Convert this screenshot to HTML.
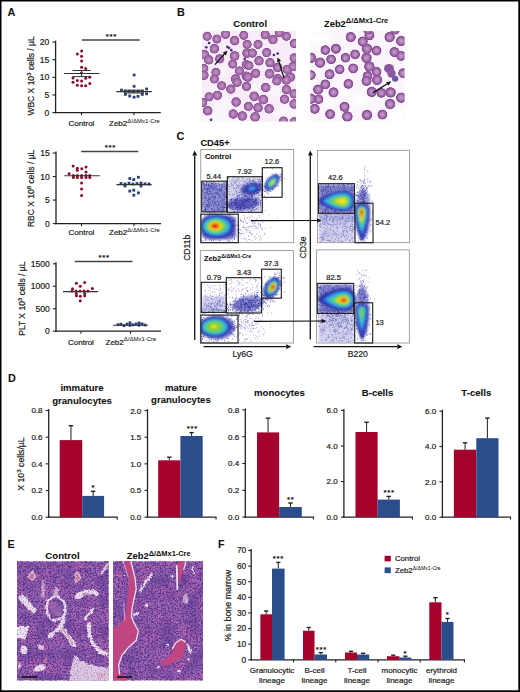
<!DOCTYPE html>
<html><head><meta charset="utf-8"><style>
html,body{margin:0;padding:0;background:#fff;}
svg{display:block;font-family:"Liberation Sans", sans-serif;}
text{stroke:#1a1a1a;stroke-width:0.2px;}
text[font-weight="bold"]{stroke-width:0.08px;}
tspan.sup{stroke-width:0.05px;}
</style></head><body>
<svg width="520" height="692" viewBox="0 0 520 692">
<defs><radialGradient id="rbc" cx="0.5" cy="0.5" r="0.5">
<stop offset="0" stop-color="#c69ac4"/><stop offset="0.4" stop-color="#b07db4"/>
<stop offset="0.7" stop-color="#9e67a6"/><stop offset="0.86" stop-color="#8a5094"/><stop offset="0.95" stop-color="#9a64a2"/><stop offset="1" stop-color="#d0a8dc" stop-opacity="0.4"/></radialGradient><radialGradient id="rbc2" cx="0.5" cy="0.5" r="0.5">
<stop offset="0" stop-color="#caa0ca"/><stop offset="0.35" stop-color="#b486bc"/>
<stop offset="0.62" stop-color="#a06aaa"/><stop offset="0.8" stop-color="#864c94"/><stop offset="0.92" stop-color="#8a5498"/><stop offset="1" stop-color="#c8a0d4" stop-opacity="0.4"/></radialGradient><clipPath id="smL"><rect x="202" y="31" width="94" height="90.5"/></clipPath><clipPath id="smR"><rect x="310.3" y="31" width="94.3" height="90.5"/></clipPath><filter id="soft" x="-20%" y="-20%" width="140%" height="140%"><feGaussianBlur stdDeviation="0.35"/></filter><filter id="bl2" x="-50%" y="-50%" width="200%" height="200%"><feGaussianBlur stdDeviation="2.5"/></filter><filter id="fb" x="-50%" y="-50%" width="200%" height="200%"><feGaussianBlur stdDeviation="1.3"/></filter><filter id="fb2" x="-50%" y="-50%" width="200%" height="200%"><feGaussianBlur stdDeviation="0.8"/></filter><clipPath id="fc1"><rect x="201.20000000000002" y="149.9" width="92.09999999999998" height="92.39999999999999"/></clipPath><clipPath id="fc2"><rect x="317.79999999999995" y="150.70000000000002" width="91.2" height="91.59999999999998"/></clipPath><clipPath id="fc3"><rect x="200.70000000000002" y="251.0" width="92.29999999999997" height="91.60000000000001"/></clipPath><clipPath id="fc4"><rect x="317.0" y="250.3" width="91.89999999999999" height="92.3"/></clipPath><filter id="nucA" x="0" y="0" width="100%" height="100%" filterUnits="objectBoundingBox" color-interpolation-filters="sRGB">
<feTurbulence type="fractalNoise" baseFrequency="0.6" numOctaves="2" seed="11"/>
<feColorMatrix type="matrix" values="0 0 0 0 0.34  0 0 0 0 0.20  0 0 0 0 0.54  4.5 0 0 0 -1.95"/>
<feGaussianBlur stdDeviation="0.45"/>
</filter><filter id="nucB" x="0" y="0" width="100%" height="100%" filterUnits="objectBoundingBox" color-interpolation-filters="sRGB">
<feTurbulence type="fractalNoise" baseFrequency="0.07" numOctaves="2" seed="4"/>
<feColorMatrix type="matrix" values="0 0 0 0 0.82  0 0 0 0 0.42  0 0 0 0 0.70  0 0 2.0 0 -0.85"/>
</filter><filter id="nucC" x="0" y="0" width="100%" height="100%" filterUnits="objectBoundingBox" color-interpolation-filters="sRGB">
<feTurbulence type="fractalNoise" baseFrequency="0.08" numOctaves="2" seed="9"/>
<feColorMatrix type="matrix" values="0 0 0 0 0.25  0 0 0 0 0.18  0 0 0 0 0.55  0 1.2 0 0 -0.5"/>
</filter><filter id="hb" x="-40%" y="-40%" width="180%" height="180%" color-interpolation-filters="sRGB">
<feTurbulence type="fractalNoise" baseFrequency="0.25" numOctaves="2" seed="2" result="t"/>
<feDisplacementMap in="SourceGraphic" in2="t" scale="3.5" xChannelSelector="R" yChannelSelector="G" result="d"/>
<feGaussianBlur in="d" stdDeviation="0.7"/>
</filter><filter id="hb2" x="-40%" y="-40%" width="180%" height="180%" color-interpolation-filters="sRGB">
<feTurbulence type="fractalNoise" baseFrequency="0.3" numOctaves="2" seed="5" result="t"/>
<feDisplacementMap in="SourceGraphic" in2="t" scale="2.5" xChannelSelector="R" yChannelSelector="G" result="d"/>
<feGaussianBlur in="d" stdDeviation="0.5"/>
</filter><filter id="nucD" x="0" y="0" width="100%" height="100%" filterUnits="objectBoundingBox" color-interpolation-filters="sRGB">
<feTurbulence type="fractalNoise" baseFrequency="0.7" numOctaves="2" seed="23"/>
<feColorMatrix type="matrix" values="0 0 0 0 0.45  0 0 0 0 0.30  0 0 0 0 0.65  5 0 0 0 -2.6"/>
<feGaussianBlur stdDeviation="0.4"/>
</filter><clipPath id="hA"><rect x="17" y="561.3" width="91.7" height="119.2"/></clipPath><clipPath id="hB"><rect x="113" y="561.3" width="90" height="119.2"/></clipPath><filter id="glob" x="0" y="0" width="100%" height="100%" filterUnits="userSpaceOnUse" color-interpolation-filters="sRGB"><feGaussianBlur stdDeviation="0.3"/></filter></defs>
<rect x="0" y="0" width="520" height="692" fill="#000"/>
<rect x="1.5" y="1.5" width="516.8" height="688.8" fill="#fff"/>
<text x="7.5" y="16" font-size="10.8" text-anchor="start" font-weight="bold" fill="#111">A</text>
<text x="177" y="16" font-size="10.8" text-anchor="start" font-weight="bold" fill="#111">B</text>
<text x="176.5" y="140" font-size="10.8" text-anchor="start" font-weight="bold" fill="#111">C</text>
<text x="8" y="381.5" font-size="10.8" text-anchor="start" font-weight="bold" fill="#111">D</text>
<text x="7.5" y="548" font-size="10.8" text-anchor="start" font-weight="bold" fill="#111">E</text>
<text x="218" y="548" font-size="10.8" text-anchor="start" font-weight="bold" fill="#111">F</text>
<line x1="55.6" y1="40.6" x2="55.6" y2="113.19999999999999" stroke="#222" stroke-width="1.3"/>
<line x1="55.0" y1="112.6" x2="160.8" y2="112.6" stroke="#222" stroke-width="1.3"/>
<line x1="52.4" y1="112.6" x2="55.6" y2="112.6" stroke="#222" stroke-width="1.1"/>
<text x="49.4" y="115.6" font-size="8.6" text-anchor="end" fill="#222">0</text>
<line x1="52.4" y1="94.975" x2="55.6" y2="94.975" stroke="#222" stroke-width="1.1"/>
<text x="49.4" y="97.975" font-size="8.6" text-anchor="end" fill="#222">5</text>
<line x1="52.4" y1="77.35" x2="55.6" y2="77.35" stroke="#222" stroke-width="1.1"/>
<text x="49.4" y="80.35" font-size="8.6" text-anchor="end" fill="#222">10</text>
<line x1="52.4" y1="59.724999999999994" x2="55.6" y2="59.724999999999994" stroke="#222" stroke-width="1.1"/>
<text x="49.4" y="62.724999999999994" font-size="8.6" text-anchor="end" fill="#222">15</text>
<line x1="52.4" y1="42.099999999999994" x2="55.6" y2="42.099999999999994" stroke="#222" stroke-width="1.1"/>
<text x="49.4" y="45.099999999999994" font-size="8.6" text-anchor="end" fill="#222">20</text>
<line x1="81.5" y1="112.6" x2="81.5" y2="115.19999999999999" stroke="#222" stroke-width="1.1"/>
<line x1="134" y1="112.6" x2="134" y2="115.19999999999999" stroke="#222" stroke-width="1.1"/>
<circle cx="81.6" cy="50.9" r="1.5" fill="#8c0a2a"/>
<circle cx="77.3" cy="54.1" r="1.5" fill="#8c0a2a"/>
<circle cx="81.6" cy="56.2" r="1.5" fill="#8c0a2a"/>
<circle cx="81.6" cy="61" r="1.5" fill="#8c0a2a"/>
<circle cx="81.6" cy="67.3" r="1.5" fill="#8c0a2a"/>
<circle cx="85.7" cy="68.5" r="1.5" fill="#8c0a2a"/>
<circle cx="81.4" cy="73.1" r="1.5" fill="#8c0a2a"/>
<circle cx="73" cy="77.9" r="1.5" fill="#8c0a2a"/>
<circle cx="85.7" cy="78.3" r="1.5" fill="#8c0a2a"/>
<circle cx="89.8" cy="77.2" r="1.5" fill="#8c0a2a"/>
<circle cx="77.3" cy="80.5" r="1.5" fill="#8c0a2a"/>
<circle cx="81.6" cy="80.9" r="1.5" fill="#8c0a2a"/>
<circle cx="73" cy="82.2" r="1.5" fill="#8c0a2a"/>
<circle cx="89.8" cy="83.5" r="1.5" fill="#8c0a2a"/>
<circle cx="77.3" cy="85.2" r="1.5" fill="#8c0a2a"/>
<circle cx="81.6" cy="85.7" r="1.5" fill="#8c0a2a"/>
<circle cx="85.7" cy="85.8" r="1.5" fill="#8c0a2a"/>
<rect x="132.7" y="73.6" width="2.8" height="2.8" fill="#2a3f78"/>
<rect x="132.7" y="84.89999999999999" width="2.8" height="2.8" fill="#2a3f78"/>
<rect x="120.1" y="88.69999999999999" width="2.8" height="2.8" fill="#2a3f78"/>
<rect x="145.2" y="87.6" width="2.8" height="2.8" fill="#2a3f78"/>
<rect x="123.6" y="89.8" width="2.8" height="2.8" fill="#2a3f78"/>
<rect x="127.9" y="89.8" width="2.8" height="2.8" fill="#2a3f78"/>
<rect x="132.2" y="89.8" width="2.8" height="2.8" fill="#2a3f78"/>
<rect x="136.6" y="89.8" width="2.8" height="2.8" fill="#2a3f78"/>
<rect x="140.9" y="89.8" width="2.8" height="2.8" fill="#2a3f78"/>
<rect x="124.0" y="93.0" width="2.8" height="2.8" fill="#2a3f78"/>
<rect x="140.9" y="93.0" width="2.8" height="2.8" fill="#2a3f78"/>
<rect x="145.2" y="92.39999999999999" width="2.8" height="2.8" fill="#2a3f78"/>
<rect x="128.29999999999998" y="94.6" width="2.8" height="2.8" fill="#2a3f78"/>
<rect x="132.7" y="95.8" width="2.8" height="2.8" fill="#2a3f78"/>
<rect x="136.6" y="95.0" width="2.8" height="2.8" fill="#2a3f78"/>
<line x1="63.9" y1="73.5" x2="99.4" y2="73.5" stroke="#333" stroke-width="1.1"/>
<line x1="72.5" y1="70.5" x2="90.7" y2="70.5" stroke="#333" stroke-width="1.0"/>
<line x1="72.5" y1="76.6" x2="90.7" y2="76.6" stroke="#333" stroke-width="1.0"/>
<line x1="81.6" y1="70.5" x2="81.6" y2="76.6" stroke="#333" stroke-width="1.0"/>
<line x1="116.3" y1="91.6" x2="151.8" y2="91.6" stroke="#333" stroke-width="1.1"/>
<line x1="124" y1="90.2" x2="144" y2="90.2" stroke="#333" stroke-width="1.0"/>
<line x1="124" y1="93" x2="144" y2="93" stroke="#333" stroke-width="1.0"/>
<line x1="81.9" y1="40" x2="139.6" y2="40" stroke="#444" stroke-width="1.3"/>
<text x="107.20" y="38.90" font-size="7.8" font-weight="bold" text-anchor="middle" fill="#111">*</text>
<text x="110.95" y="38.90" font-size="7.8" font-weight="bold" text-anchor="middle" fill="#111">*</text>
<text x="114.70" y="38.90" font-size="7.8" font-weight="bold" text-anchor="middle" fill="#111">*</text>
<text x="34.3" y="76" font-size="8.5" text-anchor="middle" transform="rotate(-90 34.3 76)" fill="#222">WBC X 10<tspan font-size="6.2" dy="-3.2">3</tspan><tspan dy="3.2"> cells / µL</tspan></text>
<text x="81.5" y="125.7" font-size="8" text-anchor="middle" fill="#222">Control</text>
<text x="109" y="125.7" font-size="8" text-anchor="start" fill="#222">Zeb2<tspan class="sup" font-size="6.0" dy="-3.2">Δ/ΔMx1-Cre</tspan></text>
<line x1="56" y1="151.5" x2="56" y2="224.2" stroke="#222" stroke-width="1.3"/>
<line x1="55.4" y1="223.6" x2="161" y2="223.6" stroke="#222" stroke-width="1.3"/>
<line x1="52.8" y1="223.6" x2="56" y2="223.6" stroke="#222" stroke-width="1.1"/>
<text x="49.8" y="226.6" font-size="8.6" text-anchor="end" fill="#222">0</text>
<line x1="52.8" y1="200.06666666666666" x2="56" y2="200.06666666666666" stroke="#222" stroke-width="1.1"/>
<text x="49.8" y="203.06666666666666" font-size="8.6" text-anchor="end" fill="#222">5</text>
<line x1="52.8" y1="176.53333333333333" x2="56" y2="176.53333333333333" stroke="#222" stroke-width="1.1"/>
<text x="49.8" y="179.53333333333333" font-size="8.6" text-anchor="end" fill="#222">10</text>
<line x1="52.8" y1="153.0" x2="56" y2="153.0" stroke="#222" stroke-width="1.1"/>
<text x="49.8" y="156.0" font-size="8.6" text-anchor="end" fill="#222">15</text>
<line x1="81.5" y1="223.6" x2="81.5" y2="226.2" stroke="#222" stroke-width="1.1"/>
<line x1="134" y1="223.6" x2="134" y2="226.2" stroke="#222" stroke-width="1.1"/>
<circle cx="73.1" cy="165.9" r="1.5" fill="#8c0a2a"/>
<circle cx="77.3" cy="168.2" r="1.5" fill="#8c0a2a"/>
<circle cx="77.3" cy="170.2" r="1.5" fill="#8c0a2a"/>
<circle cx="81.8" cy="168.7" r="1.5" fill="#8c0a2a"/>
<circle cx="86" cy="166.9" r="1.5" fill="#8c0a2a"/>
<circle cx="86" cy="172.1" r="1.5" fill="#8c0a2a"/>
<circle cx="69.1" cy="173.8" r="1.5" fill="#8c0a2a"/>
<circle cx="73.4" cy="175.4" r="1.5" fill="#8c0a2a"/>
<circle cx="77.3" cy="175.4" r="1.5" fill="#8c0a2a"/>
<circle cx="81.6" cy="175.4" r="1.5" fill="#8c0a2a"/>
<circle cx="86" cy="175.4" r="1.5" fill="#8c0a2a"/>
<circle cx="89.8" cy="175.4" r="1.5" fill="#8c0a2a"/>
<circle cx="73.4" cy="177.6" r="1.5" fill="#8c0a2a"/>
<circle cx="77.3" cy="177.6" r="1.5" fill="#8c0a2a"/>
<circle cx="81.6" cy="177.6" r="1.5" fill="#8c0a2a"/>
<circle cx="86" cy="177.6" r="1.5" fill="#8c0a2a"/>
<circle cx="89.8" cy="177.6" r="1.5" fill="#8c0a2a"/>
<circle cx="81.6" cy="182.9" r="1.5" fill="#8c0a2a"/>
<circle cx="81.6" cy="189" r="1.5" fill="#8c0a2a"/>
<circle cx="81.6" cy="195.5" r="1.5" fill="#8c0a2a"/>
<rect x="128.4" y="177.1" width="2.8" height="2.8" fill="#2a3f78"/>
<rect x="132.4" y="178.2" width="2.8" height="2.8" fill="#2a3f78"/>
<rect x="137.0" y="175.9" width="2.8" height="2.8" fill="#2a3f78"/>
<rect x="119.6" y="182.1" width="2.8" height="2.8" fill="#2a3f78"/>
<rect x="123.6" y="182.6" width="2.8" height="2.8" fill="#2a3f78"/>
<rect x="127.6" y="181.79999999999998" width="2.8" height="2.8" fill="#2a3f78"/>
<rect x="131.6" y="182.6" width="2.8" height="2.8" fill="#2a3f78"/>
<rect x="135.6" y="182.1" width="2.8" height="2.8" fill="#2a3f78"/>
<rect x="139.6" y="181.6" width="2.8" height="2.8" fill="#2a3f78"/>
<rect x="143.6" y="182.4" width="2.8" height="2.8" fill="#2a3f78"/>
<rect x="147.6" y="182.6" width="2.8" height="2.8" fill="#2a3f78"/>
<rect x="128.4" y="189.7" width="2.8" height="2.8" fill="#2a3f78"/>
<rect x="132.4" y="188.79999999999998" width="2.8" height="2.8" fill="#2a3f78"/>
<rect x="137.0" y="191.5" width="2.8" height="2.8" fill="#2a3f78"/>
<rect x="132.4" y="193.79999999999998" width="2.8" height="2.8" fill="#2a3f78"/>
<rect x="123.6" y="184.6" width="2.8" height="2.8" fill="#2a3f78"/>
<rect x="139.6" y="184.6" width="2.8" height="2.8" fill="#2a3f78"/>
<line x1="64.3" y1="175.8" x2="99.8" y2="175.8" stroke="#333" stroke-width="1.1"/>
<line x1="116.5" y1="184.6" x2="151.7" y2="184.6" stroke="#333" stroke-width="1.1"/>
<line x1="81.1" y1="151.5" x2="138.3" y2="151.5" stroke="#444" stroke-width="1.3"/>
<text x="106.15" y="150.40" font-size="7.8" font-weight="bold" text-anchor="middle" fill="#111">*</text>
<text x="109.90" y="150.40" font-size="7.8" font-weight="bold" text-anchor="middle" fill="#111">*</text>
<text x="113.65" y="150.40" font-size="7.8" font-weight="bold" text-anchor="middle" fill="#111">*</text>
<text x="34.5" y="188.4" font-size="8.5" text-anchor="middle" transform="rotate(-90 34.5 188.4)" fill="#222">RBC X 10<tspan font-size="6.2" dy="-3.2">6</tspan><tspan dy="3.2"> cells / µL</tspan></text>
<text x="81.5" y="235.2" font-size="8" text-anchor="middle" fill="#222">Control</text>
<text x="109" y="235.2" font-size="8" text-anchor="start" fill="#222">Zeb2<tspan class="sup" font-size="6.0" dy="-3.2">Δ/ΔMx1-Cre</tspan></text>
<line x1="56" y1="262.3" x2="56" y2="331.8" stroke="#222" stroke-width="1.3"/>
<line x1="55.4" y1="331.2" x2="161" y2="331.2" stroke="#222" stroke-width="1.3"/>
<line x1="52.8" y1="331.2" x2="56" y2="331.2" stroke="#222" stroke-width="1.1"/>
<text x="49.8" y="334.2" font-size="8.6" text-anchor="end" fill="#222">0</text>
<line x1="52.8" y1="308.73333333333335" x2="56" y2="308.73333333333335" stroke="#222" stroke-width="1.1"/>
<text x="49.8" y="311.73333333333335" font-size="8.6" text-anchor="end" fill="#222">500</text>
<line x1="52.8" y1="286.26666666666665" x2="56" y2="286.26666666666665" stroke="#222" stroke-width="1.1"/>
<text x="49.8" y="289.26666666666665" font-size="8.6" text-anchor="end" fill="#222">1000</text>
<line x1="52.8" y1="263.8" x2="56" y2="263.8" stroke="#222" stroke-width="1.1"/>
<text x="49.8" y="266.8" font-size="8.6" text-anchor="end" fill="#222">1500</text>
<line x1="81" y1="331.2" x2="81" y2="333.8" stroke="#222" stroke-width="1.1"/>
<line x1="130.5" y1="331.2" x2="130.5" y2="333.8" stroke="#222" stroke-width="1.1"/>
<circle cx="76.4" cy="283.2" r="1.5" fill="#8c0a2a"/>
<circle cx="84.7" cy="282.6" r="1.5" fill="#8c0a2a"/>
<circle cx="80.3" cy="286.2" r="1.5" fill="#8c0a2a"/>
<circle cx="72.5" cy="288.8" r="1.5" fill="#8c0a2a"/>
<circle cx="92.4" cy="288.4" r="1.5" fill="#8c0a2a"/>
<circle cx="72" cy="291" r="1.5" fill="#8c0a2a"/>
<circle cx="76" cy="291" r="1.5" fill="#8c0a2a"/>
<circle cx="80" cy="291" r="1.5" fill="#8c0a2a"/>
<circle cx="84" cy="291" r="1.5" fill="#8c0a2a"/>
<circle cx="88" cy="291" r="1.5" fill="#8c0a2a"/>
<circle cx="76.4" cy="293.6" r="1.5" fill="#8c0a2a"/>
<circle cx="84.7" cy="293.6" r="1.5" fill="#8c0a2a"/>
<circle cx="76.4" cy="295.8" r="1.5" fill="#8c0a2a"/>
<circle cx="80.3" cy="296.2" r="1.5" fill="#8c0a2a"/>
<circle cx="84.7" cy="295.8" r="1.5" fill="#8c0a2a"/>
<circle cx="80.3" cy="300.8" r="1.5" fill="#8c0a2a"/>
<rect x="116.6" y="323.3067317415329" width="2.8" height="2.8" fill="#2a3f78"/>
<rect x="119.6" y="322.8223776869886" width="2.8" height="2.8" fill="#2a3f78"/>
<rect x="122.6" y="324.2226165245116" width="2.8" height="2.8" fill="#2a3f78"/>
<rect x="125.6" y="322.6028216026691" width="2.8" height="2.8" fill="#2a3f78"/>
<rect x="128.6" y="323.9004696120587" width="2.8" height="2.8" fill="#2a3f78"/>
<rect x="131.6" y="323.42392896735527" width="2.8" height="2.8" fill="#2a3f78"/>
<rect x="134.6" y="322.5623969893692" width="2.8" height="2.8" fill="#2a3f78"/>
<rect x="137.6" y="323.8208200529304" width="2.8" height="2.8" fill="#2a3f78"/>
<rect x="140.6" y="322.5049878436376" width="2.8" height="2.8" fill="#2a3f78"/>
<rect x="143.6" y="323.6142079142547" width="2.8" height="2.8" fill="#2a3f78"/>
<rect x="128.6" y="321.40000000000003" width="2.8" height="2.8" fill="#2a3f78"/>
<rect x="137.6" y="321.6" width="2.8" height="2.8" fill="#2a3f78"/>
<line x1="63" y1="291.6" x2="98" y2="291.6" stroke="#333" stroke-width="1.1"/>
<line x1="113" y1="325.2" x2="148" y2="325.2" stroke="#333" stroke-width="1.1"/>
<line x1="74.8" y1="261.5" x2="132.5" y2="261.5" stroke="#444" stroke-width="1.3"/>
<text x="100.10" y="260.40" font-size="7.8" font-weight="bold" text-anchor="middle" fill="#111">*</text>
<text x="103.85" y="260.40" font-size="7.8" font-weight="bold" text-anchor="middle" fill="#111">*</text>
<text x="107.60" y="260.40" font-size="7.8" font-weight="bold" text-anchor="middle" fill="#111">*</text>
<text x="25.5" y="298.7" font-size="8.5" text-anchor="middle" transform="rotate(-90 25.5 298.7)" fill="#222">PLT X 10<tspan font-size="6.2" dy="-3.2">3</tspan><tspan dy="3.2"> cells / µL</tspan></text>
<text x="81" y="344.6" font-size="8" text-anchor="middle" fill="#222">Control</text>
<text x="105.5" y="344.6" font-size="8" text-anchor="start" fill="#222">Zeb2<tspan class="sup" font-size="6.0" dy="-3.2">Δ/ΔMx1-Cre</tspan></text>
<line x1="48.7" y1="409.0" x2="48.7" y2="517.8000000000001" stroke="#222" stroke-width="1.3"/>
<line x1="48.1" y1="517.2" x2="117.7" y2="517.2" stroke="#222" stroke-width="1.3"/>
<line x1="45.7" y1="517.2" x2="48.7" y2="517.2" stroke="#222" stroke-width="1.1"/>
<text x="42.5" y="520.1" font-size="8" text-anchor="end" fill="#222">0.0</text>
<line x1="45.7" y1="490.52500000000003" x2="48.7" y2="490.52500000000003" stroke="#222" stroke-width="1.1"/>
<text x="42.5" y="493.425" font-size="8" text-anchor="end" fill="#222">0.2</text>
<line x1="45.7" y1="463.85" x2="48.7" y2="463.85" stroke="#222" stroke-width="1.1"/>
<text x="42.5" y="466.75" font-size="8" text-anchor="end" fill="#222">0.4</text>
<line x1="45.7" y1="437.175" x2="48.7" y2="437.175" stroke="#222" stroke-width="1.1"/>
<text x="42.5" y="440.075" font-size="8" text-anchor="end" fill="#222">0.6</text>
<line x1="45.7" y1="410.5" x2="48.7" y2="410.5" stroke="#222" stroke-width="1.1"/>
<text x="42.5" y="413.4" font-size="8" text-anchor="end" fill="#222">0.8</text>
<line x1="117.2" y1="517.2" x2="117.2" y2="519.7" stroke="#222" stroke-width="1.1"/>
<line x1="70.95" y1="440.1" x2="70.95" y2="425.7" stroke="#333" stroke-width="1.1"/>
<line x1="68.75" y1="425.7" x2="73.15" y2="425.7" stroke="#222" stroke-width="1.4"/>
<rect x="59.7" y="440.1" width="22.5" height="77.10000000000002" fill="#a4022c"/>
<line x1="93.15" y1="495.9" x2="93.15" y2="491.3" stroke="#333" stroke-width="1.1"/>
<line x1="90.95" y1="491.3" x2="95.35000000000001" y2="491.3" stroke="#222" stroke-width="1.4"/>
<rect x="82.2" y="495.9" width="21.89999999999999" height="21.300000000000068" fill="#2b4d8c"/>
<text x="93.00" y="489.90" font-size="7.8" font-weight="bold" text-anchor="middle" fill="#111">*</text>
<text x="82" y="390.8" font-size="9.6" text-anchor="middle" font-weight="bold" fill="#111">immature</text>
<text x="82" y="403.7" font-size="9.6" text-anchor="middle" font-weight="bold" fill="#111">granulocytes</text>
<line x1="147.5" y1="409.1" x2="147.5" y2="517.7" stroke="#222" stroke-width="1.3"/>
<line x1="146.9" y1="517.1" x2="216.5" y2="517.1" stroke="#222" stroke-width="1.3"/>
<line x1="144.5" y1="517.1" x2="147.5" y2="517.1" stroke="#222" stroke-width="1.1"/>
<text x="141.3" y="520.0" font-size="8" text-anchor="end" fill="#222">0.0</text>
<line x1="144.5" y1="490.475" x2="147.5" y2="490.475" stroke="#222" stroke-width="1.1"/>
<text x="141.3" y="493.375" font-size="8" text-anchor="end" fill="#222">0.5</text>
<line x1="144.5" y1="463.85" x2="147.5" y2="463.85" stroke="#222" stroke-width="1.1"/>
<text x="141.3" y="466.75" font-size="8" text-anchor="end" fill="#222">1.0</text>
<line x1="144.5" y1="437.225" x2="147.5" y2="437.225" stroke="#222" stroke-width="1.1"/>
<text x="141.3" y="440.125" font-size="8" text-anchor="end" fill="#222">1.5</text>
<line x1="144.5" y1="410.6" x2="147.5" y2="410.6" stroke="#222" stroke-width="1.1"/>
<text x="141.3" y="413.5" font-size="8" text-anchor="end" fill="#222">2.0</text>
<line x1="216.0" y1="517.1" x2="216.0" y2="519.6" stroke="#222" stroke-width="1.1"/>
<line x1="169.3" y1="460.3" x2="169.3" y2="457.2" stroke="#333" stroke-width="1.1"/>
<line x1="167.10000000000002" y1="457.2" x2="171.5" y2="457.2" stroke="#222" stroke-width="1.4"/>
<rect x="158.2" y="460.3" width="22.200000000000017" height="56.80000000000001" fill="#a4022c"/>
<line x1="191.55" y1="436" x2="191.55" y2="432.6" stroke="#333" stroke-width="1.1"/>
<line x1="189.35000000000002" y1="432.6" x2="193.75" y2="432.6" stroke="#222" stroke-width="1.4"/>
<rect x="180.4" y="436" width="22.299999999999983" height="81.10000000000002" fill="#2b4d8c"/>
<text x="188.20" y="431.00" font-size="7.8" font-weight="bold" text-anchor="middle" fill="#111">*</text>
<text x="192.00" y="431.00" font-size="7.8" font-weight="bold" text-anchor="middle" fill="#111">*</text>
<text x="195.80" y="431.00" font-size="7.8" font-weight="bold" text-anchor="middle" fill="#111">*</text>
<text x="180.9" y="391.2" font-size="9.6" text-anchor="middle" font-weight="bold" fill="#111">mature</text>
<text x="180.9" y="403.2" font-size="9.6" text-anchor="middle" font-weight="bold" fill="#111">granulocytes</text>
<line x1="245.3" y1="408.4" x2="245.3" y2="517.7" stroke="#222" stroke-width="1.3"/>
<line x1="244.70000000000002" y1="517.1" x2="314" y2="517.1" stroke="#222" stroke-width="1.3"/>
<line x1="242.3" y1="517.1" x2="245.3" y2="517.1" stroke="#222" stroke-width="1.1"/>
<text x="239.10000000000002" y="520.0" font-size="8" text-anchor="end" fill="#222">0.0</text>
<line x1="242.3" y1="490.3" x2="245.3" y2="490.3" stroke="#222" stroke-width="1.1"/>
<text x="239.10000000000002" y="493.2" font-size="8" text-anchor="end" fill="#222">0.2</text>
<line x1="242.3" y1="463.5" x2="245.3" y2="463.5" stroke="#222" stroke-width="1.1"/>
<text x="239.10000000000002" y="466.4" font-size="8" text-anchor="end" fill="#222">0.4</text>
<line x1="242.3" y1="436.7" x2="245.3" y2="436.7" stroke="#222" stroke-width="1.1"/>
<text x="239.10000000000002" y="439.59999999999997" font-size="8" text-anchor="end" fill="#222">0.6</text>
<line x1="242.3" y1="409.9" x2="245.3" y2="409.9" stroke="#222" stroke-width="1.1"/>
<text x="239.10000000000002" y="412.79999999999995" font-size="8" text-anchor="end" fill="#222">0.8</text>
<line x1="313.5" y1="517.1" x2="313.5" y2="519.6" stroke="#222" stroke-width="1.1"/>
<line x1="268.075" y1="432.4" x2="268.075" y2="418.2" stroke="#333" stroke-width="1.1"/>
<line x1="265.875" y1="418.2" x2="270.275" y2="418.2" stroke="#222" stroke-width="1.4"/>
<rect x="257" y="432.4" width="22.149999999999977" height="84.70000000000005" fill="#a4022c"/>
<line x1="290.475" y1="507" x2="290.475" y2="503" stroke="#333" stroke-width="1.1"/>
<line x1="288.27500000000003" y1="503" x2="292.675" y2="503" stroke="#222" stroke-width="1.4"/>
<rect x="279.15" y="507" width="22.650000000000034" height="10.100000000000023" fill="#2b4d8c"/>
<text x="288.40" y="501.90" font-size="7.8" font-weight="bold" text-anchor="middle" fill="#111">*</text>
<text x="292.20" y="501.90" font-size="7.8" font-weight="bold" text-anchor="middle" fill="#111">*</text>
<text x="279.4" y="395.8" font-size="9.6" text-anchor="middle" font-weight="bold" fill="#111">monocytes</text>
<line x1="343.9" y1="408.9" x2="343.9" y2="517.7" stroke="#222" stroke-width="1.3"/>
<line x1="343.29999999999995" y1="517.1" x2="413" y2="517.1" stroke="#222" stroke-width="1.3"/>
<line x1="340.9" y1="517.1" x2="343.9" y2="517.1" stroke="#222" stroke-width="1.1"/>
<text x="337.7" y="520.0" font-size="8" text-anchor="end" fill="#222">0.0</text>
<line x1="340.9" y1="481.53333333333336" x2="343.9" y2="481.53333333333336" stroke="#222" stroke-width="1.1"/>
<text x="337.7" y="484.43333333333334" font-size="8" text-anchor="end" fill="#222">2.0</text>
<line x1="340.9" y1="445.96666666666664" x2="343.9" y2="445.96666666666664" stroke="#222" stroke-width="1.1"/>
<text x="337.7" y="448.8666666666666" font-size="8" text-anchor="end" fill="#222">4.0</text>
<line x1="340.9" y1="410.4" x2="343.9" y2="410.4" stroke="#222" stroke-width="1.1"/>
<text x="337.7" y="413.29999999999995" font-size="8" text-anchor="end" fill="#222">6.0</text>
<line x1="412.5" y1="517.1" x2="412.5" y2="519.6" stroke="#222" stroke-width="1.1"/>
<line x1="366.55" y1="432" x2="366.55" y2="422.3" stroke="#333" stroke-width="1.1"/>
<line x1="364.35" y1="422.3" x2="368.75" y2="422.3" stroke="#222" stroke-width="1.4"/>
<rect x="355.5" y="432" width="22.100000000000023" height="85.10000000000002" fill="#a4022c"/>
<line x1="388.75" y1="499.6" x2="388.75" y2="496.4" stroke="#333" stroke-width="1.1"/>
<line x1="386.55" y1="496.4" x2="390.95" y2="496.4" stroke="#222" stroke-width="1.4"/>
<rect x="377.6" y="499.6" width="22.299999999999955" height="17.5" fill="#2b4d8c"/>
<text x="384.90" y="494.60" font-size="7.8" font-weight="bold" text-anchor="middle" fill="#111">*</text>
<text x="388.70" y="494.60" font-size="7.8" font-weight="bold" text-anchor="middle" fill="#111">*</text>
<text x="392.50" y="494.60" font-size="7.8" font-weight="bold" text-anchor="middle" fill="#111">*</text>
<text x="377.5" y="395.8" font-size="9.6" text-anchor="middle" font-weight="bold" fill="#111">B-cells</text>
<line x1="442.4" y1="409.7" x2="442.4" y2="517.8000000000001" stroke="#222" stroke-width="1.3"/>
<line x1="441.79999999999995" y1="517.2" x2="511" y2="517.2" stroke="#222" stroke-width="1.3"/>
<line x1="439.4" y1="517.2" x2="442.4" y2="517.2" stroke="#222" stroke-width="1.1"/>
<text x="436.2" y="520.1" font-size="8" text-anchor="end" fill="#222">0.0</text>
<line x1="439.4" y1="481.8666666666667" x2="442.4" y2="481.8666666666667" stroke="#222" stroke-width="1.1"/>
<text x="436.2" y="484.76666666666665" font-size="8" text-anchor="end" fill="#222">2.0</text>
<line x1="439.4" y1="446.53333333333336" x2="442.4" y2="446.53333333333336" stroke="#222" stroke-width="1.1"/>
<text x="436.2" y="449.43333333333334" font-size="8" text-anchor="end" fill="#222">4.0</text>
<line x1="439.4" y1="411.2" x2="442.4" y2="411.2" stroke="#222" stroke-width="1.1"/>
<text x="436.2" y="414.09999999999997" font-size="8" text-anchor="end" fill="#222">6.0</text>
<line x1="510.5" y1="517.2" x2="510.5" y2="519.7" stroke="#222" stroke-width="1.1"/>
<line x1="465.1" y1="449.7" x2="465.1" y2="442.8" stroke="#333" stroke-width="1.1"/>
<line x1="462.90000000000003" y1="442.8" x2="467.3" y2="442.8" stroke="#222" stroke-width="1.4"/>
<rect x="453.9" y="449.7" width="22.400000000000034" height="67.50000000000006" fill="#a4022c"/>
<line x1="487.4" y1="438.2" x2="487.4" y2="418.1" stroke="#333" stroke-width="1.1"/>
<line x1="485.2" y1="418.1" x2="489.59999999999997" y2="418.1" stroke="#222" stroke-width="1.4"/>
<rect x="476.3" y="438.2" width="22.19999999999999" height="79.00000000000006" fill="#2b4d8c"/>
<text x="476.3" y="395.9" font-size="9.6" text-anchor="middle" font-weight="bold" fill="#111">T-cells</text>
<text x="24.4" y="464" font-size="8.7" text-anchor="middle" transform="rotate(-90 24.4 464)" fill="#222">X 10<tspan font-size="6.2" dy="-3.2">3</tspan><tspan dy="3.2"> cells/µL</tspan></text>
<line x1="251.2" y1="549.0" x2="251.2" y2="660.4" stroke="#222" stroke-width="1.3"/>
<line x1="250.6" y1="659.8" x2="465" y2="659.8" stroke="#222" stroke-width="1.3"/>
<line x1="248.2" y1="659.8" x2="251.2" y2="659.8" stroke="#222" stroke-width="1.1"/>
<text x="246.2" y="662.6999999999999" font-size="8.3" text-anchor="end" fill="#222">0</text>
<line x1="248.2" y1="644.1857142857142" x2="251.2" y2="644.1857142857142" stroke="#222" stroke-width="1.1"/>
<text x="246.2" y="647.0857142857142" font-size="8.3" text-anchor="end" fill="#222">10</text>
<line x1="248.2" y1="628.5714285714286" x2="251.2" y2="628.5714285714286" stroke="#222" stroke-width="1.1"/>
<text x="246.2" y="631.4714285714285" font-size="8.3" text-anchor="end" fill="#222">20</text>
<line x1="248.2" y1="612.9571428571428" x2="251.2" y2="612.9571428571428" stroke="#222" stroke-width="1.1"/>
<text x="246.2" y="615.8571428571428" font-size="8.3" text-anchor="end" fill="#222">30</text>
<line x1="248.2" y1="597.3428571428572" x2="251.2" y2="597.3428571428572" stroke="#222" stroke-width="1.1"/>
<text x="246.2" y="600.2428571428571" font-size="8.3" text-anchor="end" fill="#222">40</text>
<line x1="248.2" y1="581.7285714285714" x2="251.2" y2="581.7285714285714" stroke="#222" stroke-width="1.1"/>
<text x="246.2" y="584.6285714285714" font-size="8.3" text-anchor="end" fill="#222">50</text>
<line x1="248.2" y1="566.1142857142858" x2="251.2" y2="566.1142857142858" stroke="#222" stroke-width="1.1"/>
<text x="246.2" y="569.0142857142857" font-size="8.3" text-anchor="end" fill="#222">60</text>
<line x1="248.2" y1="550.5" x2="251.2" y2="550.5" stroke="#222" stroke-width="1.1"/>
<text x="246.2" y="553.4" font-size="8.3" text-anchor="end" fill="#222">70</text>
<line x1="293.5" y1="659.8" x2="293.5" y2="662.4" stroke="#222" stroke-width="1.1"/>
<line x1="335.75" y1="659.8" x2="335.75" y2="662.4" stroke="#222" stroke-width="1.1"/>
<line x1="378" y1="659.8" x2="378" y2="662.4" stroke="#222" stroke-width="1.1"/>
<line x1="420.2" y1="659.8" x2="420.2" y2="662.4" stroke="#222" stroke-width="1.1"/>
<line x1="464.4" y1="659.8" x2="464.4" y2="662.4" stroke="#222" stroke-width="1.1"/>
<line x1="266.2" y1="614.3" x2="266.2" y2="611" stroke="#333" stroke-width="1.1"/>
<line x1="264.09999999999997" y1="611" x2="268.3" y2="611" stroke="#222" stroke-width="1.4"/>
<rect x="260.4" y="614.3" width="11.600000000000023" height="45.5" fill="#a4022c"/>
<line x1="278.3" y1="568.6" x2="278.3" y2="562.4" stroke="#333" stroke-width="1.1"/>
<line x1="276.2" y1="562.4" x2="280.40000000000003" y2="562.4" stroke="#222" stroke-width="1.4"/>
<rect x="272" y="568.6" width="12.600000000000023" height="91.19999999999993" fill="#2b4d8c"/>
<text x="274.20" y="561.00" font-size="7.8" font-weight="bold" text-anchor="middle" fill="#111">*</text>
<text x="278.00" y="561.00" font-size="7.8" font-weight="bold" text-anchor="middle" fill="#111">*</text>
<text x="281.80" y="561.00" font-size="7.8" font-weight="bold" text-anchor="middle" fill="#111">*</text>
<text x="272" y="673" font-size="8" text-anchor="middle" fill="#222">Granulocytic</text>
<text x="272" y="682.6" font-size="8" text-anchor="middle" fill="#222">lineage</text>
<line x1="308.75" y1="630.75" x2="308.75" y2="627.5" stroke="#333" stroke-width="1.1"/>
<line x1="306.65" y1="627.5" x2="310.85" y2="627.5" stroke="#222" stroke-width="1.4"/>
<rect x="303" y="630.75" width="11.5" height="29.049999999999955" fill="#a4022c"/>
<line x1="320.75" y1="654.5" x2="320.75" y2="652.6" stroke="#333" stroke-width="1.1"/>
<line x1="318.65" y1="652.6" x2="322.85" y2="652.6" stroke="#222" stroke-width="1.4"/>
<rect x="314.5" y="654.5" width="12.5" height="5.2999999999999545" fill="#2b4d8c"/>
<text x="317.20" y="651.90" font-size="7.8" font-weight="bold" text-anchor="middle" fill="#111">*</text>
<text x="321.00" y="651.90" font-size="7.8" font-weight="bold" text-anchor="middle" fill="#111">*</text>
<text x="324.80" y="651.90" font-size="7.8" font-weight="bold" text-anchor="middle" fill="#111">*</text>
<text x="314.5" y="673" font-size="8" text-anchor="middle" fill="#222">B-cell</text>
<text x="314.5" y="682.6" font-size="8" text-anchor="middle" fill="#222">lineage</text>
<line x1="351.0" y1="652.5" x2="351.0" y2="651.3" stroke="#333" stroke-width="1.1"/>
<line x1="348.9" y1="651.3" x2="353.1" y2="651.3" stroke="#222" stroke-width="1.4"/>
<rect x="345" y="652.5" width="12" height="7.2999999999999545" fill="#a4022c"/>
<line x1="363.125" y1="654.5" x2="363.125" y2="653.3" stroke="#333" stroke-width="1.1"/>
<line x1="361.025" y1="653.3" x2="365.225" y2="653.3" stroke="#222" stroke-width="1.4"/>
<rect x="357" y="654.5" width="12.25" height="5.2999999999999545" fill="#2b4d8c"/>
<text x="357" y="673" font-size="8" text-anchor="middle" fill="#222">T-cell</text>
<text x="357" y="682.6" font-size="8" text-anchor="middle" fill="#222">lineage</text>
<line x1="393.25" y1="656.25" x2="393.25" y2="655.2" stroke="#333" stroke-width="1.1"/>
<line x1="391.15" y1="655.2" x2="395.35" y2="655.2" stroke="#222" stroke-width="1.4"/>
<rect x="387" y="656.25" width="12.5" height="3.5499999999999545" fill="#a4022c"/>
<line x1="405.375" y1="657.5" x2="405.375" y2="656.2" stroke="#333" stroke-width="1.1"/>
<line x1="403.275" y1="656.2" x2="407.475" y2="656.2" stroke="#222" stroke-width="1.4"/>
<rect x="399.5" y="657.5" width="11.75" height="2.2999999999999545" fill="#2b4d8c"/>
<text x="405.00" y="655.90" font-size="7.8" font-weight="bold" text-anchor="middle" fill="#111">*</text>
<text x="399.5" y="673" font-size="8" text-anchor="middle" fill="#222">monocytic</text>
<text x="399.5" y="682.6" font-size="8" text-anchor="middle" fill="#222">lineage</text>
<line x1="435.4" y1="602.3" x2="435.4" y2="597.7" stroke="#333" stroke-width="1.1"/>
<line x1="433.29999999999995" y1="597.7" x2="437.5" y2="597.7" stroke="#222" stroke-width="1.4"/>
<rect x="429.3" y="602.3" width="12.199999999999989" height="57.5" fill="#a4022c"/>
<line x1="447.5" y1="621.9" x2="447.5" y2="618.5" stroke="#333" stroke-width="1.1"/>
<line x1="445.4" y1="618.5" x2="449.6" y2="618.5" stroke="#222" stroke-width="1.4"/>
<rect x="441.5" y="621.9" width="12.0" height="37.89999999999998" fill="#2b4d8c"/>
<text x="447.30" y="617.30" font-size="7.8" font-weight="bold" text-anchor="middle" fill="#111">*</text>
<text x="441.5" y="673" font-size="8" text-anchor="middle" fill="#222">erythroid</text>
<text x="441.5" y="682.6" font-size="8" text-anchor="middle" fill="#222">lineage</text>
<text x="230.6" y="605.5" font-size="8.9" text-anchor="middle" transform="rotate(-90 230.6 605.5)" fill="#222">% in bone marrow</text>
<rect x="384.6" y="555.8" width="6.2" height="5.6" fill="#a4022c"/>
<rect x="384.6" y="567.4" width="6.2" height="5.8" fill="#2b4d8c"/>
<text x="394.9" y="561" font-size="7.8" text-anchor="start" fill="#222">Control</text>
<text x="394.9" y="573.2" font-size="7.8" text-anchor="start" fill="#222">Zeb2<tspan class="sup" font-size="5.15" dy="-3.2">Δ/ΔMx1-Cre</tspan></text>
<g clip-path="url(#smL)">
<rect x="202" y="31" width="94" height="91.5" fill="#f8ecf8"/>
<ellipse cx="222" cy="118" rx="22" ry="8" fill="#fbf6fc" filter="url(#bl2)"/>
<ellipse cx="285" cy="113" rx="12" ry="8" fill="#fbf6fc" filter="url(#bl2)"/>
<ellipse cx="226" cy="70" rx="5" ry="4" fill="#fbf6fc" filter="url(#bl2)"/>
<ellipse cx="256" cy="88" rx="6" ry="5" fill="#fbf6fc" filter="url(#bl2)"/>
<ellipse cx="213" cy="89" rx="6" ry="4" fill="#fbf6fc" filter="url(#bl2)"/>
<ellipse cx="275" cy="92" rx="7" ry="5" fill="#fbf6fc" filter="url(#bl2)"/>
<ellipse cx="222" cy="104" rx="9" ry="7" fill="#fbf6fc" filter="url(#bl2)"/>
<g filter="url(#soft)">
<circle cx="207.2" cy="36.3" r="4.73" fill="url(#rbc)"/>
<circle cx="216.8" cy="39.1" r="4.74" fill="url(#rbc)"/>
<circle cx="225.5" cy="34.3" r="4.87" fill="url(#rbc)"/>
<circle cx="234.6" cy="40.6" r="5.03" fill="url(#rbc)"/>
<circle cx="243.8" cy="35.3" r="4.75" fill="url(#rbc)"/>
<circle cx="247.1" cy="44.4" r="4.79" fill="url(#rbc)"/>
<circle cx="214.4" cy="48.8" r="4.95" fill="url(#rbc)"/>
<circle cx="204.3" cy="54.5" r="5.08" fill="url(#rbc)"/>
<circle cx="208.7" cy="59.8" r="4.93" fill="url(#rbc)"/>
<circle cx="219.7" cy="58.8" r="4.86" fill="url(#rbc)"/>
<circle cx="234.6" cy="56" r="5.09" fill="url(#rbc)"/>
<circle cx="232.7" cy="64.1" r="4.72" fill="url(#rbc)"/>
<circle cx="247.1" cy="53.1" r="5.04" fill="url(#rbc)"/>
<circle cx="246.2" cy="64.6" r="4.82" fill="url(#rbc)"/>
<circle cx="215.9" cy="72.3" r="4.76" fill="url(#rbc)"/>
<circle cx="239.4" cy="70.9" r="4.75" fill="url(#rbc)"/>
<circle cx="203.8" cy="68.5" r="4.82" fill="url(#rbc)"/>
<circle cx="203.8" cy="75.2" r="5.03" fill="url(#rbc)"/>
<circle cx="214.4" cy="79" r="4.77" fill="url(#rbc)"/>
<circle cx="246.2" cy="76.2" r="4.93" fill="url(#rbc)"/>
<circle cx="235.6" cy="79" r="4.96" fill="url(#rbc)"/>
<circle cx="265.2" cy="34.8" r="4.85" fill="url(#rbc)"/>
<circle cx="272.9" cy="39.6" r="4.92" fill="url(#rbc)"/>
<circle cx="279.2" cy="32.9" r="4.73" fill="url(#rbc)"/>
<circle cx="286.4" cy="36.3" r="4.72" fill="url(#rbc)"/>
<circle cx="258" cy="44.4" r="4.78" fill="url(#rbc)"/>
<circle cx="294.6" cy="43.5" r="4.97" fill="url(#rbc)"/>
<circle cx="252.3" cy="53.1" r="4.87" fill="url(#rbc)"/>
<circle cx="266.7" cy="52.6" r="4.83" fill="url(#rbc)"/>
<circle cx="259" cy="60.8" r="4.93" fill="url(#rbc)"/>
<circle cx="270" cy="62.7" r="4.88" fill="url(#rbc)"/>
<circle cx="248.9" cy="65.6" r="4.82" fill="url(#rbc)"/>
<circle cx="277.7" cy="67.5" r="5.02" fill="url(#rbc)"/>
<circle cx="287.3" cy="69.4" r="4.98" fill="url(#rbc)"/>
<circle cx="294.1" cy="57.9" r="4.80" fill="url(#rbc)"/>
<circle cx="293.1" cy="66.5" r="4.93" fill="url(#rbc)"/>
<circle cx="255.6" cy="73.3" r="4.91" fill="url(#rbc)"/>
<circle cx="269.6" cy="73.8" r="5.05" fill="url(#rbc)"/>
<circle cx="247.9" cy="77.1" r="4.99" fill="url(#rbc)"/>
<circle cx="277.7" cy="78.6" r="4.82" fill="url(#rbc)"/>
<circle cx="290.2" cy="77.1" r="5.09" fill="url(#rbc)"/>
<circle cx="221.6" cy="85.7" r="4.75" fill="url(#rbc)"/>
<circle cx="230.8" cy="89.1" r="4.87" fill="url(#rbc)"/>
<circle cx="237" cy="82.3" r="5.00" fill="url(#rbc)"/>
<circle cx="209.1" cy="96.8" r="4.76" fill="url(#rbc)"/>
<circle cx="217.3" cy="95.3" r="4.90" fill="url(#rbc)"/>
<circle cx="202.9" cy="102.5" r="4.72" fill="url(#rbc)"/>
<circle cx="236.1" cy="102" r="4.97" fill="url(#rbc)"/>
<circle cx="207.7" cy="110.7" r="5.01" fill="url(#rbc)"/>
<circle cx="233.2" cy="114" r="4.93" fill="url(#rbc)"/>
<circle cx="242.3" cy="116" r="5.05" fill="url(#rbc)"/>
<circle cx="276.8" cy="80.9" r="4.83" fill="url(#rbc)"/>
<circle cx="286.4" cy="79.9" r="4.98" fill="url(#rbc)"/>
<circle cx="265.7" cy="87.6" r="4.94" fill="url(#rbc)"/>
<circle cx="286.4" cy="89.5" r="4.93" fill="url(#rbc)"/>
<circle cx="294.1" cy="93.9" r="4.88" fill="url(#rbc)"/>
<circle cx="254.2" cy="96.3" r="5.04" fill="url(#rbc)"/>
<circle cx="263.3" cy="99.6" r="5.08" fill="url(#rbc)"/>
<circle cx="284.5" cy="99.2" r="4.89" fill="url(#rbc)"/>
<circle cx="294.1" cy="104" r="4.97" fill="url(#rbc)"/>
<circle cx="248.4" cy="106.4" r="4.72" fill="url(#rbc)"/>
<circle cx="258" cy="107.8" r="4.98" fill="url(#rbc)"/>
<circle cx="269.1" cy="108.8" r="4.96" fill="url(#rbc)"/>
<circle cx="255.1" cy="117" r="5.10" fill="url(#rbc)"/>
<circle cx="283.5" cy="121.3" r="5.03" fill="url(#rbc)"/>
<circle cx="294.1" cy="121.8" r="4.81" fill="url(#rbc)"/>
<circle cx="246.5" cy="86.4" r="4.85" fill="url(#rbc)"/>
<circle cx="206.3" cy="47.3" r="1.35" fill="#4e2f7e"/>
<circle cx="209.1" cy="43" r="1.35" fill="#4e2f7e"/>
<circle cx="227.4" cy="46.8" r="1.35" fill="#4e2f7e"/>
<circle cx="229" cy="48" r="1.35" fill="#4e2f7e"/>
<circle cx="231.3" cy="50.2" r="1.35" fill="#4e2f7e"/>
<circle cx="244.7" cy="58.8" r="1.35" fill="#4e2f7e"/>
<circle cx="273.9" cy="55" r="1.35" fill="#4e2f7e"/>
<circle cx="277.7" cy="53.6" r="1.35" fill="#4e2f7e"/>
<circle cx="211.1" cy="119.8" r="1.35" fill="#4e2f7e"/>
</g>
<line x1="214.9" y1="64.6" x2="224.39098889532167" y2="54.04602034840232" stroke="#111" stroke-width="1.3"/>
<polygon points="227.4,50.7 226.0268210656517,55.51709244402285 222.75515672499165,52.574948252781795" fill="#111"/>
<line x1="284" y1="78.1" x2="279.01022727102213" y2="61.70503246192986" stroke="#111" stroke-width="1.3"/>
<polygon points="277.7,57.4 281.1149098079656,61.064476907207926 276.90554473407866,62.345588016651796" fill="#111"/>
</g>
<g clip-path="url(#smR)">
<rect x="310.3" y="31" width="94.3" height="91.5" fill="#fcf5fc"/>
<ellipse cx="320" cy="38" rx="12" ry="7" fill="#ffffff" filter="url(#bl2)"/>
<ellipse cx="360" cy="100" rx="8" ry="7" fill="#ffffff" filter="url(#bl2)"/>
<ellipse cx="395" cy="115" rx="10" ry="8" fill="#ffffff" filter="url(#bl2)"/>
<ellipse cx="345" cy="92" rx="6" ry="5" fill="#ffffff" filter="url(#bl2)"/>
<ellipse cx="330" cy="103" rx="5" ry="4" fill="#ffffff" filter="url(#bl2)"/>
<g filter="url(#soft)">
<circle cx="350.8" cy="37.1" r="5.33" fill="url(#rbc2)"/>
<circle cx="325.3" cy="50.1" r="5.01" fill="url(#rbc2)"/>
<circle cx="335.9" cy="48.7" r="5.23" fill="url(#rbc2)"/>
<circle cx="355.1" cy="54.4" r="5.08" fill="url(#rbc2)"/>
<circle cx="331.1" cy="59.3" r="5.06" fill="url(#rbc2)"/>
<circle cx="345.5" cy="57.8" r="5.03" fill="url(#rbc2)"/>
<circle cx="320" cy="62.6" r="5.38" fill="url(#rbc2)"/>
<circle cx="339.7" cy="69.3" r="5.06" fill="url(#rbc2)"/>
<circle cx="353.2" cy="68.4" r="5.12" fill="url(#rbc2)"/>
<circle cx="329.6" cy="74.2" r="5.20" fill="url(#rbc2)"/>
<circle cx="310.9" cy="57.8" r="5.44" fill="url(#rbc2)"/>
<circle cx="310.9" cy="75.1" r="5.04" fill="url(#rbc2)"/>
<circle cx="369.4" cy="35.2" r="5.22" fill="url(#rbc2)"/>
<circle cx="362.7" cy="41.5" r="5.27" fill="url(#rbc2)"/>
<circle cx="389.6" cy="37.1" r="5.44" fill="url(#rbc2)"/>
<circle cx="401.2" cy="41" r="5.41" fill="url(#rbc2)"/>
<circle cx="367" cy="48.7" r="5.43" fill="url(#rbc2)"/>
<circle cx="376.6" cy="50.6" r="5.14" fill="url(#rbc2)"/>
<circle cx="394.4" cy="52" r="5.21" fill="url(#rbc2)"/>
<circle cx="401.2" cy="55.9" r="5.18" fill="url(#rbc2)"/>
<circle cx="366.5" cy="57.8" r="5.44" fill="url(#rbc2)"/>
<circle cx="369.4" cy="66.5" r="5.48" fill="url(#rbc2)"/>
<circle cx="376.6" cy="71.8" r="5.08" fill="url(#rbc2)"/>
<circle cx="403.1" cy="73.2" r="5.09" fill="url(#rbc2)"/>
<circle cx="367.5" cy="76.1" r="5.12" fill="url(#rbc2)"/>
<circle cx="325.3" cy="84.3" r="5.12" fill="url(#rbc2)"/>
<circle cx="318.1" cy="89.5" r="5.24" fill="url(#rbc2)"/>
<circle cx="333.5" cy="92.4" r="5.29" fill="url(#rbc2)"/>
<circle cx="348.4" cy="83.8" r="5.13" fill="url(#rbc2)"/>
<circle cx="318.6" cy="99.2" r="5.00" fill="url(#rbc2)"/>
<circle cx="314.7" cy="108.8" r="5.21" fill="url(#rbc2)"/>
<circle cx="330.1" cy="114.1" r="5.18" fill="url(#rbc2)"/>
<circle cx="344.5" cy="106.8" r="5.28" fill="url(#rbc2)"/>
<circle cx="347.4" cy="116.5" r="5.48" fill="url(#rbc2)"/>
<circle cx="310.9" cy="98.7" r="5.35" fill="url(#rbc2)"/>
<circle cx="366.5" cy="80.9" r="5.26" fill="url(#rbc2)"/>
<circle cx="377.1" cy="79.9" r="5.31" fill="url(#rbc2)"/>
<circle cx="371.8" cy="91.9" r="5.34" fill="url(#rbc2)"/>
<circle cx="381.4" cy="92.9" r="5.03" fill="url(#rbc2)"/>
<circle cx="390.6" cy="92.4" r="5.45" fill="url(#rbc2)"/>
<circle cx="401.2" cy="97.7" r="5.39" fill="url(#rbc2)"/>
<circle cx="390.1" cy="104" r="5.44" fill="url(#rbc2)"/>
<circle cx="367" cy="115" r="5.40" fill="url(#rbc2)"/>
<circle cx="382.4" cy="114.5" r="5.20" fill="url(#rbc2)"/>
<circle cx="368" cy="29.5" r="5.20" fill="url(#rbc2)"/>
<circle cx="395" cy="29.8" r="5.05" fill="url(#rbc2)"/>
<ellipse cx="389" cy="68.5" rx="5" ry="4.6" fill="#8a559f"/>
<ellipse cx="391.5" cy="73.5" rx="4.2" ry="4.2" fill="#8c58a4"/>
<ellipse cx="395.2" cy="78.8" rx="3.2" ry="3" fill="#6a5aa6"/>
</g>
<line x1="372.8" y1="92.9" x2="387.28986753092994" y2="83.79434554067245" stroke="#111" stroke-width="1.3"/>
<polygon points="391.1,81.4 388.4604364619254,85.6570769699956 386.1192985999345,81.9316141113493" fill="#111"/>
</g>
<text x="250.2" y="26.8" font-size="9.5" text-anchor="middle" font-weight="bold" fill="#111">Control</text>
<text x="324.1" y="26.7" font-size="9.3" text-anchor="start" font-weight="bold" fill="#111">Zeb2<tspan class="sup" font-size="7.5" dy="-3.5">Δ/ΔMx1-Cre</tspan></text>
<rect x="200.8" y="149.5" width="92.89999999999998" height="93.19999999999999" fill="#fff" stroke="#8a8a8a" stroke-width="0.8"/>
<g clip-path="url(#fc1)">
<g filter="url(#fb)" opacity="0.55" fill="#3434b0"><rect x="202.5" y="183" width="23.5" height="28.5"/></g>
<path d="M217.5 183.4h0.85v0.85h-0.85zM203.7 187.9h0.85v0.85h-0.85zM206.0 191.9h0.85v0.85h-0.85zM203.3 181.5h0.85v0.85h-0.85zM205.7 184.6h0.85v0.85h-0.85zM210.9 182.3h0.85v0.85h-0.85zM223.4 200.2h0.85v0.85h-0.85zM205.6 189.2h0.85v0.85h-0.85zM210.5 192.6h0.85v0.85h-0.85zM205.0 207.4h0.85v0.85h-0.85zM226.3 195.7h0.85v0.85h-0.85zM213.9 184.1h0.85v0.85h-0.85zM204.5 192.0h0.85v0.85h-0.85zM208.5 206.8h0.85v0.85h-0.85zM206.0 182.2h0.85v0.85h-0.85zM225.3 197.6h0.85v0.85h-0.85zM205.6 198.1h0.85v0.85h-0.85zM202.7 197.6h0.85v0.85h-0.85zM226.0 207.8h0.85v0.85h-0.85zM219.1 189.5h0.85v0.85h-0.85zM211.0 186.6h0.85v0.85h-0.85zM220.9 197.7h0.85v0.85h-0.85zM221.1 191.6h0.85v0.85h-0.85zM207.5 206.3h0.85v0.85h-0.85zM226.1 207.5h0.85v0.85h-0.85zM221.7 206.5h0.85v0.85h-0.85zM220.1 188.4h0.85v0.85h-0.85zM214.7 192.3h0.85v0.85h-0.85zM202.7 182.4h0.85v0.85h-0.85zM208.8 189.4h0.85v0.85h-0.85zM219.0 210.7h0.85v0.85h-0.85zM213.0 210.1h0.85v0.85h-0.85zM226.2 210.6h0.85v0.85h-0.85zM210.9 188.2h0.85v0.85h-0.85zM207.6 187.5h0.85v0.85h-0.85zM207.0 200.5h0.85v0.85h-0.85zM224.1 207.1h0.85v0.85h-0.85zM213.7 201.4h0.85v0.85h-0.85zM221.6 184.1h0.85v0.85h-0.85zM218.2 209.2h0.85v0.85h-0.85zM221.2 204.4h0.85v0.85h-0.85zM213.7 186.9h0.85v0.85h-0.85zM221.3 191.6h0.85v0.85h-0.85zM221.6 211.1h0.85v0.85h-0.85zM211.7 193.7h0.85v0.85h-0.85zM225.2 203.6h0.85v0.85h-0.85zM206.2 185.4h0.85v0.85h-0.85zM205.7 209.1h0.85v0.85h-0.85zM221.8 186.0h0.85v0.85h-0.85zM222.2 211.4h0.85v0.85h-0.85zM218.1 192.2h0.85v0.85h-0.85zM215.4 185.5h0.85v0.85h-0.85zM202.3 211.1h0.85v0.85h-0.85zM217.9 197.6h0.85v0.85h-0.85zM224.9 194.7h0.85v0.85h-0.85zM223.4 206.7h0.85v0.85h-0.85zM207.2 189.2h0.85v0.85h-0.85zM209.2 188.8h0.85v0.85h-0.85zM216.4 189.4h0.85v0.85h-0.85zM212.3 185.5h0.85v0.85h-0.85zM224.3 192.3h0.85v0.85h-0.85zM213.2 199.3h0.85v0.85h-0.85zM224.2 194.3h0.85v0.85h-0.85zM224.5 196.8h0.85v0.85h-0.85zM215.0 197.5h0.85v0.85h-0.85zM202.5 194.9h0.85v0.85h-0.85zM206.5 181.6h0.85v0.85h-0.85zM221.6 186.8h0.85v0.85h-0.85zM213.6 203.6h0.85v0.85h-0.85zM215.6 191.4h0.85v0.85h-0.85zM214.7 198.4h0.85v0.85h-0.85zM221.2 184.7h0.85v0.85h-0.85zM215.7 189.1h0.85v0.85h-0.85zM208.8 205.1h0.85v0.85h-0.85zM214.4 198.6h0.85v0.85h-0.85zM220.6 209.3h0.85v0.85h-0.85zM212.9 200.2h0.85v0.85h-0.85zM214.4 197.1h0.85v0.85h-0.85zM219.0 195.3h0.85v0.85h-0.85zM215.1 196.1h0.85v0.85h-0.85zM225.1 202.8h0.85v0.85h-0.85zM223.5 210.2h0.85v0.85h-0.85zM208.4 198.6h0.85v0.85h-0.85zM225.1 207.1h0.85v0.85h-0.85zM205.4 185.2h0.85v0.85h-0.85zM212.8 183.7h0.85v0.85h-0.85zM207.9 183.7h0.85v0.85h-0.85zM218.4 205.4h0.85v0.85h-0.85zM224.0 186.2h0.85v0.85h-0.85zM219.5 201.6h0.85v0.85h-0.85zM205.5 208.4h0.85v0.85h-0.85zM225.7 188.2h0.85v0.85h-0.85zM225.3 193.6h0.85v0.85h-0.85zM213.9 211.7h0.85v0.85h-0.85zM222.4 186.4h0.85v0.85h-0.85zM212.6 197.2h0.85v0.85h-0.85zM210.3 187.5h0.85v0.85h-0.85zM209.8 203.5h0.85v0.85h-0.85zM202.5 198.4h0.85v0.85h-0.85zM212.8 182.1h0.85v0.85h-0.85zM210.1 200.5h0.85v0.85h-0.85zM214.6 183.5h0.85v0.85h-0.85zM226.1 205.5h0.85v0.85h-0.85zM225.8 184.7h0.85v0.85h-0.85zM208.5 182.7h0.85v0.85h-0.85zM221.1 189.7h0.85v0.85h-0.85zM205.2 194.4h0.85v0.85h-0.85zM224.3 206.5h0.85v0.85h-0.85zM208.3 186.1h0.85v0.85h-0.85zM224.5 198.9h0.85v0.85h-0.85zM219.2 184.2h0.85v0.85h-0.85zM203.4 202.5h0.85v0.85h-0.85zM212.4 183.7h0.85v0.85h-0.85zM225.0 200.9h0.85v0.85h-0.85zM221.6 184.1h0.85v0.85h-0.85zM223.0 183.5h0.85v0.85h-0.85zM223.1 195.3h0.85v0.85h-0.85zM210.3 198.4h0.85v0.85h-0.85zM224.7 189.7h0.85v0.85h-0.85zM205.2 197.6h0.85v0.85h-0.85zM207.8 184.8h0.85v0.85h-0.85zM206.0 183.0h0.85v0.85h-0.85zM206.9 191.0h0.85v0.85h-0.85zM209.5 204.7h0.85v0.85h-0.85zM209.1 196.8h0.85v0.85h-0.85zM206.4 192.1h0.85v0.85h-0.85zM202.4 189.1h0.85v0.85h-0.85zM202.4 203.9h0.85v0.85h-0.85zM215.5 187.3h0.85v0.85h-0.85zM213.6 210.0h0.85v0.85h-0.85zM204.6 206.5h0.85v0.85h-0.85zM212.6 196.6h0.85v0.85h-0.85zM222.4 193.5h0.85v0.85h-0.85zM214.4 202.5h0.85v0.85h-0.85zM226.1 192.0h0.85v0.85h-0.85zM222.4 203.1h0.85v0.85h-0.85zM217.6 193.8h0.85v0.85h-0.85zM210.5 183.2h0.85v0.85h-0.85zM205.2 183.7h0.85v0.85h-0.85zM220.2 189.3h0.85v0.85h-0.85zM206.0 184.1h0.85v0.85h-0.85zM222.6 208.1h0.85v0.85h-0.85zM218.4 190.1h0.85v0.85h-0.85zM207.9 190.4h0.85v0.85h-0.85zM213.3 186.3h0.85v0.85h-0.85zM212.9 189.5h0.85v0.85h-0.85zM225.6 211.2h0.85v0.85h-0.85zM215.4 189.0h0.85v0.85h-0.85zM225.7 190.9h0.85v0.85h-0.85zM210.7 181.5h0.85v0.85h-0.85zM211.3 196.0h0.85v0.85h-0.85zM214.3 187.6h0.85v0.85h-0.85zM214.4 181.7h0.85v0.85h-0.85zM208.5 184.2h0.85v0.85h-0.85zM211.8 182.8h0.85v0.85h-0.85zM202.6 190.8h0.85v0.85h-0.85zM207.7 199.4h0.85v0.85h-0.85zM215.0 204.4h0.85v0.85h-0.85zM218.1 203.3h0.85v0.85h-0.85zM223.5 193.4h0.85v0.85h-0.85zM210.0 211.5h0.85v0.85h-0.85zM205.7 203.6h0.85v0.85h-0.85zM217.8 182.8h0.85v0.85h-0.85zM222.5 208.7h0.85v0.85h-0.85zM217.4 203.9h0.85v0.85h-0.85zM221.9 185.7h0.85v0.85h-0.85zM214.8 196.9h0.85v0.85h-0.85zM222.5 206.0h0.85v0.85h-0.85zM222.2 199.3h0.85v0.85h-0.85zM223.9 202.3h0.85v0.85h-0.85zM219.0 188.5h0.85v0.85h-0.85zM202.8 185.6h0.85v0.85h-0.85zM210.8 184.7h0.85v0.85h-0.85zM222.5 198.5h0.85v0.85h-0.85zM217.4 200.6h0.85v0.85h-0.85zM218.7 196.4h0.85v0.85h-0.85zM202.1 205.8h0.85v0.85h-0.85zM220.3 196.8h0.85v0.85h-0.85zM215.1 201.6h0.85v0.85h-0.85zM203.6 204.0h0.85v0.85h-0.85zM208.2 183.8h0.85v0.85h-0.85zM208.5 203.7h0.85v0.85h-0.85zM207.0 204.1h0.85v0.85h-0.85zM225.9 196.6h0.85v0.85h-0.85zM211.4 196.1h0.85v0.85h-0.85zM218.8 204.9h0.85v0.85h-0.85zM217.1 201.1h0.85v0.85h-0.85zM203.9 186.0h0.85v0.85h-0.85zM208.2 204.2h0.85v0.85h-0.85zM209.5 198.8h0.85v0.85h-0.85zM202.3 183.4h0.85v0.85h-0.85zM208.6 202.0h0.85v0.85h-0.85zM219.0 202.1h0.85v0.85h-0.85zM209.1 197.3h0.85v0.85h-0.85zM213.4 195.7h0.85v0.85h-0.85zM204.9 208.8h0.85v0.85h-0.85zM206.9 211.3h0.85v0.85h-0.85zM224.9 182.0h0.85v0.85h-0.85zM213.2 206.5h0.85v0.85h-0.85zM225.7 195.2h0.85v0.85h-0.85zM208.6 187.9h0.85v0.85h-0.85zM225.2 187.9h0.85v0.85h-0.85zM216.2 185.8h0.85v0.85h-0.85zM214.8 210.6h0.85v0.85h-0.85zM205.2 206.5h0.85v0.85h-0.85zM214.5 208.5h0.85v0.85h-0.85zM219.2 188.6h0.85v0.85h-0.85zM224.0 196.3h0.85v0.85h-0.85zM202.6 181.6h0.85v0.85h-0.85zM214.0 195.2h0.85v0.85h-0.85zM209.4 185.8h0.85v0.85h-0.85zM210.4 191.1h0.85v0.85h-0.85zM222.6 181.6h0.85v0.85h-0.85zM220.4 207.1h0.85v0.85h-0.85zM204.9 209.8h0.85v0.85h-0.85zM219.5 209.0h0.85v0.85h-0.85zM209.1 192.9h0.85v0.85h-0.85zM211.6 212.0h0.85v0.85h-0.85zM216.4 192.5h0.85v0.85h-0.85zM212.5 189.9h0.85v0.85h-0.85zM203.2 184.6h0.85v0.85h-0.85zM222.4 190.2h0.85v0.85h-0.85zM224.9 189.1h0.85v0.85h-0.85zM208.5 197.1h0.85v0.85h-0.85zM206.7 192.9h0.85v0.85h-0.85zM225.4 208.5h0.85v0.85h-0.85zM221.9 200.7h0.85v0.85h-0.85zM224.4 210.2h0.85v0.85h-0.85zM215.5 203.4h0.85v0.85h-0.85zM203.2 203.8h0.85v0.85h-0.85zM213.0 204.5h0.85v0.85h-0.85zM217.8 190.2h0.85v0.85h-0.85zM203.2 209.8h0.85v0.85h-0.85zM205.1 195.9h0.85v0.85h-0.85zM210.4 190.6h0.85v0.85h-0.85zM220.1 211.3h0.85v0.85h-0.85zM208.4 201.5h0.85v0.85h-0.85zM209.4 198.5h0.85v0.85h-0.85zM211.7 186.6h0.85v0.85h-0.85zM206.0 187.8h0.85v0.85h-0.85zM224.2 196.7h0.85v0.85h-0.85zM207.4 209.1h0.85v0.85h-0.85zM226.4 195.2h0.85v0.85h-0.85zM205.4 187.4h0.85v0.85h-0.85zM204.2 191.9h0.85v0.85h-0.85zM204.2 188.8h0.85v0.85h-0.85zM208.3 198.9h0.85v0.85h-0.85zM223.7 204.4h0.85v0.85h-0.85zM212.1 194.1h0.85v0.85h-0.85zM214.8 193.0h0.85v0.85h-0.85zM210.3 183.4h0.85v0.85h-0.85zM208.8 211.0h0.85v0.85h-0.85zM205.1 196.9h0.85v0.85h-0.85zM217.4 207.8h0.85v0.85h-0.85zM207.3 189.8h0.85v0.85h-0.85zM208.1 193.7h0.85v0.85h-0.85zM212.9 210.6h0.85v0.85h-0.85zM222.8 208.1h0.85v0.85h-0.85zM202.5 182.5h0.85v0.85h-0.85zM219.4 208.8h0.85v0.85h-0.85zM213.6 199.4h0.85v0.85h-0.85zM202.0 193.4h0.85v0.85h-0.85zM224.7 206.7h0.85v0.85h-0.85zM223.0 211.2h0.85v0.85h-0.85zM208.1 184.8h0.85v0.85h-0.85zM205.8 197.4h0.85v0.85h-0.85zM218.7 210.2h0.85v0.85h-0.85zM219.7 201.2h0.85v0.85h-0.85zM220.7 195.4h0.85v0.85h-0.85zM215.5 182.7h0.85v0.85h-0.85zM221.2 188.6h0.85v0.85h-0.85zM224.5 201.2h0.85v0.85h-0.85zM209.4 185.4h0.85v0.85h-0.85zM208.2 200.9h0.85v0.85h-0.85zM219.1 184.9h0.85v0.85h-0.85zM203.7 197.5h0.85v0.85h-0.85zM216.3 193.3h0.85v0.85h-0.85zM207.5 199.8h0.85v0.85h-0.85zM202.3 190.7h0.85v0.85h-0.85zM213.3 210.7h0.85v0.85h-0.85zM217.8 208.5h0.85v0.85h-0.85zM213.6 188.7h0.85v0.85h-0.85zM208.1 210.8h0.85v0.85h-0.85zM219.3 190.9h0.85v0.85h-0.85zM202.5 196.7h0.85v0.85h-0.85zM218.5 194.3h0.85v0.85h-0.85zM208.3 201.9h0.85v0.85h-0.85zM224.7 188.4h0.85v0.85h-0.85zM202.8 191.8h0.85v0.85h-0.85zM212.3 202.3h0.85v0.85h-0.85zM206.9 205.8h0.85v0.85h-0.85zM220.1 196.9h0.85v0.85h-0.85zM207.0 211.1h0.85v0.85h-0.85zM209.6 206.5h0.85v0.85h-0.85zM207.7 188.3h0.85v0.85h-0.85zM220.6 190.5h0.85v0.85h-0.85zM225.3 196.6h0.85v0.85h-0.85zM206.6 188.3h0.85v0.85h-0.85zM212.2 201.8h0.85v0.85h-0.85zM225.2 186.0h0.85v0.85h-0.85zM211.6 188.0h0.85v0.85h-0.85zM225.9 185.8h0.85v0.85h-0.85zM203.3 183.3h0.85v0.85h-0.85zM211.6 208.9h0.85v0.85h-0.85zM223.6 203.8h0.85v0.85h-0.85zM226.4 209.9h0.85v0.85h-0.85zM210.1 187.2h0.85v0.85h-0.85zM224.9 204.3h0.85v0.85h-0.85zM202.8 201.8h0.85v0.85h-0.85zM211.3 192.9h0.85v0.85h-0.85zM210.1 186.7h0.85v0.85h-0.85zM202.1 190.0h0.85v0.85h-0.85zM210.6 210.6h0.85v0.85h-0.85zM205.0 210.9h0.85v0.85h-0.85zM207.1 192.4h0.85v0.85h-0.85zM222.1 206.6h0.85v0.85h-0.85zM212.6 183.0h0.85v0.85h-0.85zM213.6 192.9h0.85v0.85h-0.85zM224.5 187.4h0.85v0.85h-0.85zM210.9 208.9h0.85v0.85h-0.85zM202.7 194.0h0.85v0.85h-0.85zM221.9 204.9h0.85v0.85h-0.85zM203.0 182.6h0.85v0.85h-0.85zM203.5 209.6h0.85v0.85h-0.85zM208.3 204.3h0.85v0.85h-0.85zM224.0 191.8h0.85v0.85h-0.85zM208.7 210.7h0.85v0.85h-0.85zM217.1 189.5h0.85v0.85h-0.85zM219.6 191.2h0.85v0.85h-0.85zM208.8 181.6h0.85v0.85h-0.85zM220.5 209.5h0.85v0.85h-0.85zM217.5 210.3h0.85v0.85h-0.85zM202.6 188.6h0.85v0.85h-0.85zM213.6 210.7h0.85v0.85h-0.85zM225.4 193.3h0.85v0.85h-0.85zM208.2 194.6h0.85v0.85h-0.85zM214.1 209.8h0.85v0.85h-0.85zM206.5 206.0h0.85v0.85h-0.85zM220.1 206.6h0.85v0.85h-0.85zM220.9 200.0h0.85v0.85h-0.85zM210.0 191.2h0.85v0.85h-0.85zM210.9 205.4h0.85v0.85h-0.85zM203.9 187.5h0.85v0.85h-0.85zM220.4 189.0h0.85v0.85h-0.85zM203.6 182.5h0.85v0.85h-0.85zM215.5 191.4h0.85v0.85h-0.85zM226.0 208.4h0.85v0.85h-0.85zM226.2 189.6h0.85v0.85h-0.85zM204.1 184.4h0.85v0.85h-0.85zM214.2 203.1h0.85v0.85h-0.85zM213.0 188.6h0.85v0.85h-0.85zM212.2 200.4h0.85v0.85h-0.85zM218.5 204.3h0.85v0.85h-0.85zM222.8 201.8h0.85v0.85h-0.85zM205.0 207.1h0.85v0.85h-0.85zM209.2 198.8h0.85v0.85h-0.85zM211.1 204.0h0.85v0.85h-0.85zM206.9 189.0h0.85v0.85h-0.85zM208.0 186.2h0.85v0.85h-0.85zM223.7 199.1h0.85v0.85h-0.85zM210.0 193.6h0.85v0.85h-0.85zM226.3 197.0h0.85v0.85h-0.85zM207.7 206.2h0.85v0.85h-0.85zM218.0 211.7h0.85v0.85h-0.85zM204.5 196.0h0.85v0.85h-0.85zM222.1 207.1h0.85v0.85h-0.85zM224.4 182.7h0.85v0.85h-0.85zM209.2 185.1h0.85v0.85h-0.85zM206.6 211.2h0.85v0.85h-0.85zM216.3 209.9h0.85v0.85h-0.85zM211.1 207.9h0.85v0.85h-0.85zM213.0 189.4h0.85v0.85h-0.85zM221.1 210.3h0.85v0.85h-0.85zM204.6 199.7h0.85v0.85h-0.85zM217.2 188.1h0.85v0.85h-0.85zM211.0 185.8h0.85v0.85h-0.85zM207.0 189.3h0.85v0.85h-0.85zM216.7 201.4h0.85v0.85h-0.85zM207.0 181.8h0.85v0.85h-0.85zM210.0 202.2h0.85v0.85h-0.85zM206.5 191.0h0.85v0.85h-0.85zM207.0 205.8h0.85v0.85h-0.85zM215.4 183.4h0.85v0.85h-0.85zM204.5 193.6h0.85v0.85h-0.85zM215.5 201.0h0.85v0.85h-0.85zM204.2 186.5h0.85v0.85h-0.85zM219.0 194.0h0.85v0.85h-0.85zM208.9 190.9h0.85v0.85h-0.85zM225.4 191.0h0.85v0.85h-0.85zM215.9 192.4h0.85v0.85h-0.85zM212.2 207.9h0.85v0.85h-0.85zM226.4 192.6h0.85v0.85h-0.85zM206.8 203.7h0.85v0.85h-0.85zM207.0 181.7h0.85v0.85h-0.85zM224.1 194.4h0.85v0.85h-0.85zM222.1 193.9h0.85v0.85h-0.85zM223.6 195.6h0.85v0.85h-0.85zM206.0 182.0h0.85v0.85h-0.85zM215.5 201.0h0.85v0.85h-0.85zM224.3 184.2h0.85v0.85h-0.85zM217.2 192.8h0.85v0.85h-0.85zM214.4 185.9h0.85v0.85h-0.85zM208.9 197.4h0.85v0.85h-0.85zM224.7 184.8h0.85v0.85h-0.85zM214.0 206.0h0.85v0.85h-0.85zM225.7 187.5h0.85v0.85h-0.85zM205.1 210.3h0.85v0.85h-0.85zM225.9 196.2h0.85v0.85h-0.85zM203.3 209.7h0.85v0.85h-0.85zM211.5 209.1h0.85v0.85h-0.85zM217.2 206.6h0.85v0.85h-0.85zM205.9 205.5h0.85v0.85h-0.85zM207.4 193.8h0.85v0.85h-0.85zM222.7 206.8h0.85v0.85h-0.85zM206.5 188.2h0.85v0.85h-0.85zM211.8 197.3h0.85v0.85h-0.85zM211.4 185.3h0.85v0.85h-0.85zM208.1 203.6h0.85v0.85h-0.85zM224.0 182.8h0.85v0.85h-0.85zM215.8 204.6h0.85v0.85h-0.85z" fill="#2a2a98" fill-opacity="0.75"/>
<g filter="url(#fb)" opacity="0.22" fill="#3434b0"><rect x="228" y="178" width="33.5" height="33.5"/></g>
<g filter="url(#fb)" opacity="0.6" fill="#3434b0"><ellipse cx="251" cy="189" rx="11" ry="6.5" transform="rotate(-10 251 189)"/><ellipse cx="243" cy="203.5" rx="16" ry="6.5" transform="rotate(-6 243 203.5)"/></g>
<path d="M228.8 206.3h0.85v0.85h-0.85zM231.6 198.0h0.85v0.85h-0.85zM246.5 198.9h0.85v0.85h-0.85zM238.1 191.7h0.85v0.85h-0.85zM247.6 191.9h0.85v0.85h-0.85zM250.2 192.6h0.85v0.85h-0.85zM242.6 177.8h0.85v0.85h-0.85zM248.9 194.1h0.85v0.85h-0.85zM235.6 203.7h0.85v0.85h-0.85zM254.4 193.0h0.85v0.85h-0.85zM233.7 193.6h0.85v0.85h-0.85zM231.2 181.5h0.85v0.85h-0.85zM242.4 180.2h0.85v0.85h-0.85zM242.7 194.9h0.85v0.85h-0.85zM228.9 199.3h0.85v0.85h-0.85zM230.3 202.7h0.85v0.85h-0.85zM254.3 194.9h0.85v0.85h-0.85zM229.4 194.6h0.85v0.85h-0.85zM240.5 210.3h0.85v0.85h-0.85zM232.2 207.0h0.85v0.85h-0.85zM261.9 202.6h0.85v0.85h-0.85zM255.6 183.8h0.85v0.85h-0.85zM261.4 194.2h0.85v0.85h-0.85zM260.5 209.1h0.85v0.85h-0.85zM233.2 204.6h0.85v0.85h-0.85zM259.6 179.3h0.85v0.85h-0.85zM239.6 203.5h0.85v0.85h-0.85zM233.0 208.4h0.85v0.85h-0.85zM237.0 205.5h0.85v0.85h-0.85zM232.5 194.6h0.85v0.85h-0.85zM259.2 184.3h0.85v0.85h-0.85zM236.6 194.7h0.85v0.85h-0.85zM238.5 178.3h0.85v0.85h-0.85zM233.8 182.6h0.85v0.85h-0.85zM259.8 200.8h0.85v0.85h-0.85zM258.4 182.9h0.85v0.85h-0.85zM254.6 181.0h0.85v0.85h-0.85zM245.8 199.3h0.85v0.85h-0.85zM239.9 207.6h0.85v0.85h-0.85zM246.7 197.3h0.85v0.85h-0.85zM257.9 180.7h0.85v0.85h-0.85zM261.8 199.0h0.85v0.85h-0.85zM241.1 204.9h0.85v0.85h-0.85zM236.6 211.7h0.85v0.85h-0.85zM247.4 189.6h0.85v0.85h-0.85zM253.9 192.5h0.85v0.85h-0.85zM233.6 203.0h0.85v0.85h-0.85zM229.2 205.7h0.85v0.85h-0.85zM236.3 199.4h0.85v0.85h-0.85zM261.4 197.5h0.85v0.85h-0.85zM250.4 187.9h0.85v0.85h-0.85zM227.6 178.2h0.85v0.85h-0.85zM232.7 198.6h0.85v0.85h-0.85zM242.4 194.9h0.85v0.85h-0.85zM258.4 181.6h0.85v0.85h-0.85zM235.3 199.9h0.85v0.85h-0.85zM228.3 177.1h0.85v0.85h-0.85zM239.7 180.7h0.85v0.85h-0.85zM239.8 184.8h0.85v0.85h-0.85zM247.6 197.6h0.85v0.85h-0.85zM234.5 198.8h0.85v0.85h-0.85zM243.9 181.7h0.85v0.85h-0.85zM259.8 185.5h0.85v0.85h-0.85zM232.7 180.4h0.85v0.85h-0.85zM249.5 207.5h0.85v0.85h-0.85zM254.5 191.1h0.85v0.85h-0.85zM236.6 177.4h0.85v0.85h-0.85zM249.8 196.7h0.85v0.85h-0.85zM239.6 199.6h0.85v0.85h-0.85zM242.8 209.8h0.85v0.85h-0.85zM252.8 185.7h0.85v0.85h-0.85zM258.7 178.5h0.85v0.85h-0.85zM245.8 191.2h0.85v0.85h-0.85zM235.7 179.0h0.85v0.85h-0.85zM254.4 177.4h0.85v0.85h-0.85zM246.5 209.9h0.85v0.85h-0.85zM232.4 184.0h0.85v0.85h-0.85zM248.5 194.7h0.85v0.85h-0.85zM249.6 205.5h0.85v0.85h-0.85zM233.5 187.8h0.85v0.85h-0.85zM237.9 178.7h0.85v0.85h-0.85zM258.2 204.4h0.85v0.85h-0.85zM252.2 177.2h0.85v0.85h-0.85zM256.6 203.1h0.85v0.85h-0.85zM243.6 203.0h0.85v0.85h-0.85zM243.1 184.9h0.85v0.85h-0.85zM231.1 185.1h0.85v0.85h-0.85zM228.8 188.7h0.85v0.85h-0.85zM253.4 201.3h0.85v0.85h-0.85zM256.7 201.9h0.85v0.85h-0.85zM236.7 196.4h0.85v0.85h-0.85zM242.5 204.6h0.85v0.85h-0.85zM245.6 186.3h0.85v0.85h-0.85zM249.6 210.8h0.85v0.85h-0.85zM235.0 207.8h0.85v0.85h-0.85zM228.0 186.1h0.85v0.85h-0.85zM235.6 203.0h0.85v0.85h-0.85zM260.1 203.1h0.85v0.85h-0.85zM238.8 207.8h0.85v0.85h-0.85zM238.8 185.4h0.85v0.85h-0.85zM258.8 199.1h0.85v0.85h-0.85zM251.4 200.3h0.85v0.85h-0.85zM261.3 193.4h0.85v0.85h-0.85zM256.5 201.4h0.85v0.85h-0.85zM257.1 192.3h0.85v0.85h-0.85zM252.5 197.0h0.85v0.85h-0.85zM238.1 184.4h0.85v0.85h-0.85zM249.0 179.7h0.85v0.85h-0.85zM258.9 182.1h0.85v0.85h-0.85zM228.4 180.7h0.85v0.85h-0.85zM259.5 189.1h0.85v0.85h-0.85zM232.4 178.0h0.85v0.85h-0.85zM228.9 201.2h0.85v0.85h-0.85zM249.4 201.4h0.85v0.85h-0.85zM252.9 179.3h0.85v0.85h-0.85zM247.9 189.7h0.85v0.85h-0.85zM255.7 205.7h0.85v0.85h-0.85zM258.2 179.3h0.85v0.85h-0.85zM257.4 209.0h0.85v0.85h-0.85zM260.1 180.7h0.85v0.85h-0.85zM234.6 180.9h0.85v0.85h-0.85zM228.7 206.7h0.85v0.85h-0.85zM255.5 199.2h0.85v0.85h-0.85zM256.0 199.1h0.85v0.85h-0.85zM237.4 180.5h0.85v0.85h-0.85zM230.9 203.5h0.85v0.85h-0.85zM234.6 188.2h0.85v0.85h-0.85zM242.1 177.7h0.85v0.85h-0.85zM236.4 186.9h0.85v0.85h-0.85zM252.2 189.9h0.85v0.85h-0.85zM238.6 210.7h0.85v0.85h-0.85zM244.9 206.8h0.85v0.85h-0.85zM248.8 178.1h0.85v0.85h-0.85zM241.7 192.3h0.85v0.85h-0.85zM254.2 189.1h0.85v0.85h-0.85zM251.8 195.8h0.85v0.85h-0.85zM235.0 207.2h0.85v0.85h-0.85zM230.6 205.7h0.85v0.85h-0.85zM233.4 177.0h0.85v0.85h-0.85zM234.5 203.7h0.85v0.85h-0.85zM261.2 177.2h0.85v0.85h-0.85zM244.4 194.2h0.85v0.85h-0.85zM255.0 183.5h0.85v0.85h-0.85zM244.6 189.2h0.85v0.85h-0.85zM256.2 186.1h0.85v0.85h-0.85zM260.1 186.9h0.85v0.85h-0.85zM234.9 201.5h0.85v0.85h-0.85zM244.7 180.8h0.85v0.85h-0.85zM249.5 179.8h0.85v0.85h-0.85zM254.7 201.4h0.85v0.85h-0.85zM254.6 199.0h0.85v0.85h-0.85zM239.8 191.0h0.85v0.85h-0.85zM241.1 208.2h0.85v0.85h-0.85zM230.5 208.1h0.85v0.85h-0.85zM228.4 184.2h0.85v0.85h-0.85zM236.6 208.5h0.85v0.85h-0.85zM244.8 190.3h0.85v0.85h-0.85zM258.0 185.2h0.85v0.85h-0.85zM243.4 195.6h0.85v0.85h-0.85zM253.5 203.4h0.85v0.85h-0.85zM249.8 189.2h0.85v0.85h-0.85zM238.8 182.4h0.85v0.85h-0.85zM256.6 200.2h0.85v0.85h-0.85zM253.1 182.9h0.85v0.85h-0.85zM242.6 204.1h0.85v0.85h-0.85zM247.5 181.4h0.85v0.85h-0.85zM243.4 208.0h0.85v0.85h-0.85zM235.7 183.7h0.85v0.85h-0.85zM237.9 201.6h0.85v0.85h-0.85zM256.6 182.4h0.85v0.85h-0.85zM232.9 185.7h0.85v0.85h-0.85zM238.8 195.3h0.85v0.85h-0.85zM233.1 188.5h0.85v0.85h-0.85zM234.0 211.1h0.85v0.85h-0.85zM252.6 180.6h0.85v0.85h-0.85zM260.7 180.6h0.85v0.85h-0.85zM240.8 211.4h0.85v0.85h-0.85zM254.9 202.7h0.85v0.85h-0.85zM242.5 183.9h0.85v0.85h-0.85zM249.5 180.7h0.85v0.85h-0.85zM234.6 190.6h0.85v0.85h-0.85zM228.7 191.0h0.85v0.85h-0.85zM254.8 201.3h0.85v0.85h-0.85zM244.8 199.1h0.85v0.85h-0.85zM243.5 182.0h0.85v0.85h-0.85zM248.3 191.2h0.85v0.85h-0.85zM253.1 208.8h0.85v0.85h-0.85zM242.3 197.1h0.85v0.85h-0.85zM253.3 191.7h0.85v0.85h-0.85zM235.4 202.3h0.85v0.85h-0.85zM257.9 204.1h0.85v0.85h-0.85zM251.7 206.8h0.85v0.85h-0.85zM250.9 199.5h0.85v0.85h-0.85zM243.2 188.0h0.85v0.85h-0.85zM249.2 180.4h0.85v0.85h-0.85zM242.0 204.4h0.85v0.85h-0.85zM252.1 199.0h0.85v0.85h-0.85zM236.1 191.8h0.85v0.85h-0.85zM243.2 198.8h0.85v0.85h-0.85zM241.6 200.6h0.85v0.85h-0.85zM259.6 183.4h0.85v0.85h-0.85zM250.1 204.2h0.85v0.85h-0.85zM240.9 194.1h0.85v0.85h-0.85zM261.1 178.3h0.85v0.85h-0.85zM246.2 182.6h0.85v0.85h-0.85zM254.5 209.9h0.85v0.85h-0.85zM245.4 180.5h0.85v0.85h-0.85zM247.3 195.9h0.85v0.85h-0.85zM252.2 194.9h0.85v0.85h-0.85zM249.6 206.0h0.85v0.85h-0.85zM245.5 191.4h0.85v0.85h-0.85zM260.2 184.4h0.85v0.85h-0.85zM251.1 190.7h0.85v0.85h-0.85zM253.8 181.3h0.85v0.85h-0.85zM261.5 189.4h0.85v0.85h-0.85zM229.5 186.6h0.85v0.85h-0.85zM241.3 177.5h0.85v0.85h-0.85zM241.9 191.7h0.85v0.85h-0.85zM251.6 189.3h0.85v0.85h-0.85zM236.6 184.9h0.85v0.85h-0.85zM253.1 209.9h0.85v0.85h-0.85zM245.7 184.7h0.85v0.85h-0.85zM255.2 190.7h0.85v0.85h-0.85zM234.8 181.5h0.85v0.85h-0.85zM254.3 205.3h0.85v0.85h-0.85zM249.4 193.4h0.85v0.85h-0.85zM246.9 184.9h0.85v0.85h-0.85zM260.8 189.4h0.85v0.85h-0.85zM249.5 205.7h0.85v0.85h-0.85zM255.7 193.4h0.85v0.85h-0.85zM237.7 196.2h0.85v0.85h-0.85zM231.8 206.2h0.85v0.85h-0.85zM239.7 206.8h0.85v0.85h-0.85zM236.7 190.2h0.85v0.85h-0.85zM236.2 191.9h0.85v0.85h-0.85zM233.9 177.1h0.85v0.85h-0.85zM252.4 186.8h0.85v0.85h-0.85zM236.0 187.6h0.85v0.85h-0.85zM244.0 192.0h0.85v0.85h-0.85zM249.5 200.1h0.85v0.85h-0.85zM240.0 209.5h0.85v0.85h-0.85zM257.0 179.0h0.85v0.85h-0.85zM256.1 208.7h0.85v0.85h-0.85zM254.5 181.9h0.85v0.85h-0.85zM256.2 199.2h0.85v0.85h-0.85zM228.0 177.4h0.85v0.85h-0.85zM260.3 200.0h0.85v0.85h-0.85zM236.1 180.6h0.85v0.85h-0.85zM232.4 185.2h0.85v0.85h-0.85zM254.3 189.1h0.85v0.85h-0.85zM232.8 208.6h0.85v0.85h-0.85zM254.8 182.9h0.85v0.85h-0.85zM258.2 198.3h0.85v0.85h-0.85zM254.5 200.4h0.85v0.85h-0.85zM258.3 204.6h0.85v0.85h-0.85zM256.4 183.9h0.85v0.85h-0.85zM251.4 195.6h0.85v0.85h-0.85zM253.1 192.4h0.85v0.85h-0.85zM258.0 196.4h0.85v0.85h-0.85zM236.6 185.2h0.85v0.85h-0.85zM232.3 194.3h0.85v0.85h-0.85zM229.5 193.3h0.85v0.85h-0.85zM232.5 194.2h0.85v0.85h-0.85zM244.7 195.9h0.85v0.85h-0.85zM257.3 177.2h0.85v0.85h-0.85zM256.5 193.4h0.85v0.85h-0.85zM246.9 200.3h0.85v0.85h-0.85zM256.5 190.1h0.85v0.85h-0.85zM241.9 210.6h0.85v0.85h-0.85zM230.1 199.3h0.85v0.85h-0.85zM249.4 178.0h0.85v0.85h-0.85zM248.5 200.9h0.85v0.85h-0.85zM259.6 188.6h0.85v0.85h-0.85zM261.4 194.9h0.85v0.85h-0.85zM244.2 208.4h0.85v0.85h-0.85zM228.7 202.1h0.85v0.85h-0.85zM249.1 188.9h0.85v0.85h-0.85zM257.2 189.8h0.85v0.85h-0.85zM243.9 195.4h0.85v0.85h-0.85zM254.1 184.4h0.85v0.85h-0.85zM242.5 191.8h0.85v0.85h-0.85zM246.6 205.9h0.85v0.85h-0.85zM237.6 206.0h0.85v0.85h-0.85zM241.4 194.6h0.85v0.85h-0.85zM236.9 194.7h0.85v0.85h-0.85zM261.1 199.9h0.85v0.85h-0.85zM254.8 188.6h0.85v0.85h-0.85zM238.4 187.5h0.85v0.85h-0.85zM247.7 199.2h0.85v0.85h-0.85zM254.6 178.4h0.85v0.85h-0.85zM252.4 208.0h0.85v0.85h-0.85zM246.3 178.7h0.85v0.85h-0.85zM237.9 177.2h0.85v0.85h-0.85zM234.1 209.3h0.85v0.85h-0.85zM248.5 200.0h0.85v0.85h-0.85zM254.7 208.8h0.85v0.85h-0.85zM248.6 198.6h0.85v0.85h-0.85zM249.1 201.4h0.85v0.85h-0.85zM248.1 200.8h0.85v0.85h-0.85zM234.8 200.3h0.85v0.85h-0.85zM243.3 203.7h0.85v0.85h-0.85zM231.0 183.3h0.85v0.85h-0.85zM228.8 204.1h0.85v0.85h-0.85zM259.0 200.0h0.85v0.85h-0.85zM240.2 205.8h0.85v0.85h-0.85zM254.6 196.7h0.85v0.85h-0.85zM236.4 187.6h0.85v0.85h-0.85zM242.1 188.1h0.85v0.85h-0.85zM242.4 199.5h0.85v0.85h-0.85zM259.7 178.9h0.85v0.85h-0.85zM247.1 178.4h0.85v0.85h-0.85zM231.6 205.4h0.85v0.85h-0.85zM247.3 209.2h0.85v0.85h-0.85zM242.9 177.5h0.85v0.85h-0.85zM240.9 197.7h0.85v0.85h-0.85zM259.9 211.3h0.85v0.85h-0.85zM243.9 191.4h0.85v0.85h-0.85zM231.0 199.6h0.85v0.85h-0.85zM234.8 182.3h0.85v0.85h-0.85zM228.0 177.2h0.85v0.85h-0.85z" fill="#2a2a98" fill-opacity="0.6"/>
<path d="M249.5 187.6h0.85v0.85h-0.85zM253.4 188.3h0.85v0.85h-0.85zM252.9 187.3h0.85v0.85h-0.85zM260.5 188.0h0.85v0.85h-0.85zM252.5 194.5h0.85v0.85h-0.85zM251.9 189.9h0.85v0.85h-0.85zM251.5 183.4h0.85v0.85h-0.85zM256.1 183.6h0.85v0.85h-0.85zM258.6 190.2h0.85v0.85h-0.85zM248.7 185.6h0.85v0.85h-0.85zM254.9 187.2h0.85v0.85h-0.85zM259.9 186.2h0.85v0.85h-0.85zM252.0 188.9h0.85v0.85h-0.85zM243.7 185.0h0.85v0.85h-0.85zM255.7 189.6h0.85v0.85h-0.85zM250.2 187.0h0.85v0.85h-0.85zM254.8 185.2h0.85v0.85h-0.85zM256.5 189.3h0.85v0.85h-0.85zM245.0 188.3h0.85v0.85h-0.85zM249.2 187.5h0.85v0.85h-0.85zM252.1 185.6h0.85v0.85h-0.85zM245.2 186.1h0.85v0.85h-0.85zM246.2 191.6h0.85v0.85h-0.85zM252.8 180.3h0.85v0.85h-0.85zM251.9 184.4h0.85v0.85h-0.85zM250.7 190.3h0.85v0.85h-0.85zM259.9 186.5h0.85v0.85h-0.85zM253.0 185.8h0.85v0.85h-0.85zM237.2 185.4h0.85v0.85h-0.85zM254.2 184.2h0.85v0.85h-0.85zM249.3 192.8h0.85v0.85h-0.85zM255.0 186.1h0.85v0.85h-0.85zM247.1 185.3h0.85v0.85h-0.85zM258.9 183.7h0.85v0.85h-0.85zM251.0 189.2h0.85v0.85h-0.85zM251.1 192.7h0.85v0.85h-0.85zM241.1 187.4h0.85v0.85h-0.85zM252.2 188.1h0.85v0.85h-0.85zM255.4 182.6h0.85v0.85h-0.85zM255.6 184.8h0.85v0.85h-0.85zM250.5 196.0h0.85v0.85h-0.85zM253.3 183.5h0.85v0.85h-0.85zM255.4 186.5h0.85v0.85h-0.85zM257.9 190.1h0.85v0.85h-0.85zM251.8 186.6h0.85v0.85h-0.85zM249.6 181.0h0.85v0.85h-0.85zM252.6 193.5h0.85v0.85h-0.85zM247.5 186.0h0.85v0.85h-0.85zM252.7 191.3h0.85v0.85h-0.85zM250.0 182.9h0.85v0.85h-0.85zM248.6 189.8h0.85v0.85h-0.85zM253.6 182.8h0.85v0.85h-0.85zM252.6 193.4h0.85v0.85h-0.85zM260.0 182.9h0.85v0.85h-0.85zM244.2 189.6h0.85v0.85h-0.85zM247.6 188.4h0.85v0.85h-0.85zM252.7 190.8h0.85v0.85h-0.85zM248.8 186.2h0.85v0.85h-0.85zM245.2 188.6h0.85v0.85h-0.85zM247.6 189.4h0.85v0.85h-0.85zM249.2 190.5h0.85v0.85h-0.85zM243.2 185.7h0.85v0.85h-0.85zM256.1 192.1h0.85v0.85h-0.85zM247.6 193.2h0.85v0.85h-0.85zM252.6 188.8h0.85v0.85h-0.85zM243.4 190.7h0.85v0.85h-0.85zM251.3 195.1h0.85v0.85h-0.85zM238.9 195.0h0.85v0.85h-0.85zM251.1 182.5h0.85v0.85h-0.85zM255.3 187.6h0.85v0.85h-0.85zM254.9 188.9h0.85v0.85h-0.85zM252.3 190.1h0.85v0.85h-0.85zM258.4 189.1h0.85v0.85h-0.85zM255.0 185.4h0.85v0.85h-0.85zM258.7 189.5h0.85v0.85h-0.85zM248.8 190.5h0.85v0.85h-0.85zM255.3 187.6h0.85v0.85h-0.85zM242.9 188.4h0.85v0.85h-0.85zM259.2 186.1h0.85v0.85h-0.85zM246.4 192.2h0.85v0.85h-0.85zM260.6 195.1h0.85v0.85h-0.85zM255.2 188.1h0.85v0.85h-0.85zM255.5 188.9h0.85v0.85h-0.85zM244.4 196.3h0.85v0.85h-0.85zM259.6 183.7h0.85v0.85h-0.85zM248.0 184.6h0.85v0.85h-0.85zM253.0 188.5h0.85v0.85h-0.85zM257.9 192.5h0.85v0.85h-0.85zM258.9 185.6h0.85v0.85h-0.85zM249.4 193.8h0.85v0.85h-0.85zM250.9 187.4h0.85v0.85h-0.85zM249.4 191.7h0.85v0.85h-0.85zM256.3 190.9h0.85v0.85h-0.85zM253.5 190.8h0.85v0.85h-0.85zM257.2 192.1h0.85v0.85h-0.85zM260.4 187.8h0.85v0.85h-0.85zM251.7 189.8h0.85v0.85h-0.85zM254.6 187.3h0.85v0.85h-0.85zM253.3 187.3h0.85v0.85h-0.85zM248.6 190.0h0.85v0.85h-0.85zM260.7 184.3h0.85v0.85h-0.85zM246.0 187.1h0.85v0.85h-0.85zM246.1 195.5h0.85v0.85h-0.85zM242.9 191.1h0.85v0.85h-0.85zM253.9 190.4h0.85v0.85h-0.85zM260.1 189.4h0.85v0.85h-0.85zM247.8 188.9h0.85v0.85h-0.85zM253.9 186.5h0.85v0.85h-0.85zM248.3 190.6h0.85v0.85h-0.85zM250.7 195.8h0.85v0.85h-0.85zM249.5 191.1h0.85v0.85h-0.85zM245.9 190.1h0.85v0.85h-0.85zM253.2 187.6h0.85v0.85h-0.85zM253.0 188.5h0.85v0.85h-0.85zM257.4 184.6h0.85v0.85h-0.85zM253.3 192.5h0.85v0.85h-0.85zM250.4 191.8h0.85v0.85h-0.85zM253.2 191.8h0.85v0.85h-0.85zM253.3 187.9h0.85v0.85h-0.85zM249.2 196.7h0.85v0.85h-0.85zM260.2 189.4h0.85v0.85h-0.85zM248.2 199.0h0.85v0.85h-0.85zM249.5 190.9h0.85v0.85h-0.85zM247.2 189.3h0.85v0.85h-0.85zM239.6 194.1h0.85v0.85h-0.85zM253.3 193.1h0.85v0.85h-0.85zM253.7 190.2h0.85v0.85h-0.85zM251.2 183.4h0.85v0.85h-0.85zM252.0 190.2h0.85v0.85h-0.85zM258.3 190.2h0.85v0.85h-0.85zM246.3 189.9h0.85v0.85h-0.85zM254.0 193.2h0.85v0.85h-0.85zM247.1 183.4h0.85v0.85h-0.85zM247.4 188.5h0.85v0.85h-0.85zM260.2 189.7h0.85v0.85h-0.85zM243.6 193.4h0.85v0.85h-0.85zM246.2 195.7h0.85v0.85h-0.85zM255.0 185.2h0.85v0.85h-0.85zM239.3 192.1h0.85v0.85h-0.85zM251.0 191.3h0.85v0.85h-0.85zM253.3 185.6h0.85v0.85h-0.85zM254.4 191.3h0.85v0.85h-0.85zM250.5 188.9h0.85v0.85h-0.85zM244.5 189.7h0.85v0.85h-0.85zM248.0 189.4h0.85v0.85h-0.85zM247.5 183.2h0.85v0.85h-0.85zM254.0 186.1h0.85v0.85h-0.85zM249.0 186.0h0.85v0.85h-0.85zM250.8 187.8h0.85v0.85h-0.85zM260.1 181.1h0.85v0.85h-0.85zM243.9 190.4h0.85v0.85h-0.85zM243.7 189.5h0.85v0.85h-0.85zM252.0 191.0h0.85v0.85h-0.85zM254.9 189.9h0.85v0.85h-0.85zM251.5 188.1h0.85v0.85h-0.85zM259.1 190.7h0.85v0.85h-0.85zM251.5 189.5h0.85v0.85h-0.85zM244.3 187.5h0.85v0.85h-0.85zM241.8 189.8h0.85v0.85h-0.85zM250.5 188.0h0.85v0.85h-0.85zM256.4 190.9h0.85v0.85h-0.85zM246.2 189.8h0.85v0.85h-0.85zM255.8 190.7h0.85v0.85h-0.85zM256.8 191.6h0.85v0.85h-0.85zM252.9 187.1h0.85v0.85h-0.85zM241.8 188.0h0.85v0.85h-0.85zM257.6 193.5h0.85v0.85h-0.85zM256.2 186.7h0.85v0.85h-0.85zM241.6 193.9h0.85v0.85h-0.85zM245.0 189.5h0.85v0.85h-0.85zM260.2 185.2h0.85v0.85h-0.85zM249.1 191.6h0.85v0.85h-0.85zM248.3 192.7h0.85v0.85h-0.85zM259.7 184.1h0.85v0.85h-0.85zM252.0 187.9h0.85v0.85h-0.85zM236.1 190.7h0.85v0.85h-0.85zM254.9 187.2h0.85v0.85h-0.85zM244.0 192.6h0.85v0.85h-0.85zM246.8 193.0h0.85v0.85h-0.85zM257.0 189.5h0.85v0.85h-0.85zM249.8 189.2h0.85v0.85h-0.85zM251.9 180.6h0.85v0.85h-0.85zM243.0 185.6h0.85v0.85h-0.85zM259.3 182.6h0.85v0.85h-0.85zM259.5 188.6h0.85v0.85h-0.85zM251.0 194.3h0.85v0.85h-0.85zM250.7 193.5h0.85v0.85h-0.85zM257.9 185.5h0.85v0.85h-0.85zM251.7 193.2h0.85v0.85h-0.85zM238.3 194.8h0.85v0.85h-0.85zM250.3 192.1h0.85v0.85h-0.85zM249.0 187.9h0.85v0.85h-0.85zM237.9 186.3h0.85v0.85h-0.85zM246.3 189.6h0.85v0.85h-0.85zM244.0 191.2h0.85v0.85h-0.85zM253.1 190.1h0.85v0.85h-0.85zM254.7 190.5h0.85v0.85h-0.85zM247.2 191.3h0.85v0.85h-0.85zM251.4 190.5h0.85v0.85h-0.85zM239.8 189.0h0.85v0.85h-0.85z" fill="#2a2a98" fill-opacity="0.8"/>
<path d="M233.7 201.1h0.85v0.85h-0.85zM239.3 201.7h0.85v0.85h-0.85zM240.1 199.5h0.85v0.85h-0.85zM231.1 203.1h0.85v0.85h-0.85zM235.5 205.0h0.85v0.85h-0.85zM243.6 206.3h0.85v0.85h-0.85zM234.2 204.1h0.85v0.85h-0.85zM241.8 203.3h0.85v0.85h-0.85zM233.0 211.0h0.85v0.85h-0.85zM244.4 208.5h0.85v0.85h-0.85zM235.7 204.4h0.85v0.85h-0.85zM250.4 202.5h0.85v0.85h-0.85zM243.5 201.1h0.85v0.85h-0.85zM259.9 205.0h0.85v0.85h-0.85zM240.1 204.3h0.85v0.85h-0.85zM235.9 207.0h0.85v0.85h-0.85zM242.4 201.6h0.85v0.85h-0.85zM242.4 201.2h0.85v0.85h-0.85zM239.0 207.1h0.85v0.85h-0.85zM236.9 199.2h0.85v0.85h-0.85zM252.1 196.5h0.85v0.85h-0.85zM228.3 204.3h0.85v0.85h-0.85zM241.7 196.9h0.85v0.85h-0.85zM227.6 206.2h0.85v0.85h-0.85zM237.0 195.5h0.85v0.85h-0.85zM256.2 207.9h0.85v0.85h-0.85zM258.3 202.1h0.85v0.85h-0.85zM233.7 202.0h0.85v0.85h-0.85zM254.2 201.1h0.85v0.85h-0.85zM229.7 208.4h0.85v0.85h-0.85zM251.1 198.7h0.85v0.85h-0.85zM236.2 207.2h0.85v0.85h-0.85zM229.3 206.6h0.85v0.85h-0.85zM241.0 207.6h0.85v0.85h-0.85zM234.6 203.0h0.85v0.85h-0.85zM236.8 210.5h0.85v0.85h-0.85zM248.8 199.1h0.85v0.85h-0.85zM237.7 204.9h0.85v0.85h-0.85zM241.6 205.8h0.85v0.85h-0.85zM232.2 202.2h0.85v0.85h-0.85zM260.6 206.4h0.85v0.85h-0.85zM254.0 193.7h0.85v0.85h-0.85zM246.1 207.2h0.85v0.85h-0.85zM244.1 203.1h0.85v0.85h-0.85zM254.2 203.8h0.85v0.85h-0.85zM244.1 198.4h0.85v0.85h-0.85zM253.8 202.3h0.85v0.85h-0.85zM229.4 204.3h0.85v0.85h-0.85zM236.8 206.6h0.85v0.85h-0.85zM235.9 202.2h0.85v0.85h-0.85zM255.5 200.2h0.85v0.85h-0.85zM238.9 203.6h0.85v0.85h-0.85zM236.9 207.0h0.85v0.85h-0.85zM232.0 202.7h0.85v0.85h-0.85zM259.1 194.7h0.85v0.85h-0.85zM233.4 204.9h0.85v0.85h-0.85zM237.3 208.2h0.85v0.85h-0.85zM245.0 201.0h0.85v0.85h-0.85zM247.5 198.7h0.85v0.85h-0.85zM258.2 207.4h0.85v0.85h-0.85zM236.2 197.3h0.85v0.85h-0.85zM238.5 205.1h0.85v0.85h-0.85zM240.8 208.4h0.85v0.85h-0.85zM237.2 204.0h0.85v0.85h-0.85zM248.7 208.1h0.85v0.85h-0.85zM236.1 202.0h0.85v0.85h-0.85zM255.7 201.9h0.85v0.85h-0.85zM252.0 203.6h0.85v0.85h-0.85zM244.4 200.0h0.85v0.85h-0.85zM242.7 203.2h0.85v0.85h-0.85zM231.3 201.7h0.85v0.85h-0.85zM246.9 207.5h0.85v0.85h-0.85zM236.2 203.2h0.85v0.85h-0.85zM235.9 200.3h0.85v0.85h-0.85zM254.7 202.2h0.85v0.85h-0.85zM239.2 205.0h0.85v0.85h-0.85zM251.9 208.2h0.85v0.85h-0.85zM246.3 204.3h0.85v0.85h-0.85zM248.7 207.2h0.85v0.85h-0.85zM248.0 198.0h0.85v0.85h-0.85zM244.0 202.0h0.85v0.85h-0.85zM258.4 202.4h0.85v0.85h-0.85zM237.3 209.8h0.85v0.85h-0.85zM239.9 205.8h0.85v0.85h-0.85zM242.8 205.4h0.85v0.85h-0.85zM252.4 199.5h0.85v0.85h-0.85zM237.7 207.6h0.85v0.85h-0.85zM240.8 204.6h0.85v0.85h-0.85zM251.8 199.2h0.85v0.85h-0.85zM252.2 201.4h0.85v0.85h-0.85zM237.8 202.0h0.85v0.85h-0.85zM247.5 200.3h0.85v0.85h-0.85zM255.8 197.8h0.85v0.85h-0.85zM239.5 209.0h0.85v0.85h-0.85zM253.0 201.3h0.85v0.85h-0.85zM249.3 201.9h0.85v0.85h-0.85zM232.5 208.7h0.85v0.85h-0.85zM244.7 206.7h0.85v0.85h-0.85zM250.0 199.5h0.85v0.85h-0.85zM244.5 200.4h0.85v0.85h-0.85zM247.2 206.4h0.85v0.85h-0.85zM240.6 208.7h0.85v0.85h-0.85zM251.6 205.9h0.85v0.85h-0.85zM236.4 206.9h0.85v0.85h-0.85zM247.3 203.9h0.85v0.85h-0.85zM246.5 199.8h0.85v0.85h-0.85zM243.5 206.1h0.85v0.85h-0.85zM241.9 206.5h0.85v0.85h-0.85zM256.0 203.4h0.85v0.85h-0.85zM240.4 205.7h0.85v0.85h-0.85zM241.7 201.9h0.85v0.85h-0.85zM250.1 205.9h0.85v0.85h-0.85zM250.7 196.5h0.85v0.85h-0.85zM247.8 206.2h0.85v0.85h-0.85zM241.1 199.8h0.85v0.85h-0.85zM248.8 202.2h0.85v0.85h-0.85zM253.0 201.0h0.85v0.85h-0.85zM244.9 207.7h0.85v0.85h-0.85zM253.0 207.1h0.85v0.85h-0.85zM235.5 202.3h0.85v0.85h-0.85zM243.9 208.9h0.85v0.85h-0.85zM248.1 210.9h0.85v0.85h-0.85zM251.0 206.0h0.85v0.85h-0.85zM236.1 203.4h0.85v0.85h-0.85zM243.8 199.5h0.85v0.85h-0.85zM236.2 199.9h0.85v0.85h-0.85zM240.1 207.5h0.85v0.85h-0.85zM247.9 204.3h0.85v0.85h-0.85zM247.4 200.2h0.85v0.85h-0.85zM240.6 202.1h0.85v0.85h-0.85zM235.0 202.9h0.85v0.85h-0.85zM235.5 204.3h0.85v0.85h-0.85zM250.2 204.1h0.85v0.85h-0.85zM243.9 205.5h0.85v0.85h-0.85zM241.2 200.5h0.85v0.85h-0.85zM245.0 195.1h0.85v0.85h-0.85zM245.9 201.6h0.85v0.85h-0.85zM242.7 204.5h0.85v0.85h-0.85zM236.8 198.8h0.85v0.85h-0.85zM237.9 207.4h0.85v0.85h-0.85zM235.0 199.1h0.85v0.85h-0.85zM235.9 208.8h0.85v0.85h-0.85zM245.0 205.1h0.85v0.85h-0.85zM255.1 198.8h0.85v0.85h-0.85zM242.3 202.5h0.85v0.85h-0.85zM248.2 203.5h0.85v0.85h-0.85zM245.8 206.4h0.85v0.85h-0.85zM241.2 204.5h0.85v0.85h-0.85zM238.8 209.3h0.85v0.85h-0.85zM251.0 209.6h0.85v0.85h-0.85zM229.9 202.2h0.85v0.85h-0.85zM243.2 207.8h0.85v0.85h-0.85zM239.3 200.5h0.85v0.85h-0.85zM260.0 201.8h0.85v0.85h-0.85zM243.9 200.1h0.85v0.85h-0.85zM260.1 203.8h0.85v0.85h-0.85zM240.7 203.0h0.85v0.85h-0.85zM243.4 205.4h0.85v0.85h-0.85zM244.3 200.7h0.85v0.85h-0.85zM255.4 198.8h0.85v0.85h-0.85zM255.1 205.4h0.85v0.85h-0.85zM231.8 208.8h0.85v0.85h-0.85zM246.2 200.3h0.85v0.85h-0.85zM237.1 198.0h0.85v0.85h-0.85zM248.5 198.0h0.85v0.85h-0.85zM240.2 204.2h0.85v0.85h-0.85zM239.6 199.8h0.85v0.85h-0.85zM254.1 207.2h0.85v0.85h-0.85zM256.6 203.8h0.85v0.85h-0.85zM245.1 200.3h0.85v0.85h-0.85zM235.3 200.5h0.85v0.85h-0.85zM243.2 204.9h0.85v0.85h-0.85zM237.6 207.3h0.85v0.85h-0.85zM245.7 206.5h0.85v0.85h-0.85zM252.7 207.3h0.85v0.85h-0.85zM239.6 201.3h0.85v0.85h-0.85zM244.1 208.2h0.85v0.85h-0.85zM238.8 206.7h0.85v0.85h-0.85zM246.6 201.7h0.85v0.85h-0.85zM235.4 202.9h0.85v0.85h-0.85zM247.0 198.4h0.85v0.85h-0.85zM243.1 201.0h0.85v0.85h-0.85zM236.5 199.5h0.85v0.85h-0.85zM228.4 206.7h0.85v0.85h-0.85zM245.0 201.6h0.85v0.85h-0.85zM241.3 207.4h0.85v0.85h-0.85zM244.0 204.8h0.85v0.85h-0.85zM242.1 206.2h0.85v0.85h-0.85zM239.6 199.7h0.85v0.85h-0.85zM249.3 205.2h0.85v0.85h-0.85zM234.7 205.1h0.85v0.85h-0.85zM244.8 204.7h0.85v0.85h-0.85zM242.8 201.8h0.85v0.85h-0.85zM236.7 193.1h0.85v0.85h-0.85zM239.0 203.2h0.85v0.85h-0.85zM233.5 204.8h0.85v0.85h-0.85zM247.6 207.7h0.85v0.85h-0.85zM234.8 199.9h0.85v0.85h-0.85zM254.7 200.0h0.85v0.85h-0.85zM243.3 206.5h0.85v0.85h-0.85zM244.4 204.1h0.85v0.85h-0.85zM244.8 195.7h0.85v0.85h-0.85zM241.6 206.1h0.85v0.85h-0.85zM231.2 198.8h0.85v0.85h-0.85zM247.8 201.9h0.85v0.85h-0.85zM245.9 195.8h0.85v0.85h-0.85zM242.2 200.0h0.85v0.85h-0.85zM250.4 209.6h0.85v0.85h-0.85zM239.7 207.3h0.85v0.85h-0.85zM234.7 203.2h0.85v0.85h-0.85zM246.0 200.6h0.85v0.85h-0.85zM254.3 203.6h0.85v0.85h-0.85zM231.0 199.4h0.85v0.85h-0.85zM236.8 195.8h0.85v0.85h-0.85zM252.7 200.9h0.85v0.85h-0.85zM237.8 204.1h0.85v0.85h-0.85zM239.9 208.9h0.85v0.85h-0.85zM255.3 205.2h0.85v0.85h-0.85zM248.4 206.7h0.85v0.85h-0.85zM246.8 202.8h0.85v0.85h-0.85zM252.4 203.6h0.85v0.85h-0.85zM248.8 208.9h0.85v0.85h-0.85zM260.2 201.8h0.85v0.85h-0.85zM252.1 197.0h0.85v0.85h-0.85zM236.6 205.7h0.85v0.85h-0.85zM236.9 200.0h0.85v0.85h-0.85zM236.0 206.0h0.85v0.85h-0.85zM230.9 207.0h0.85v0.85h-0.85zM251.1 194.9h0.85v0.85h-0.85zM247.1 206.0h0.85v0.85h-0.85zM232.4 206.4h0.85v0.85h-0.85zM239.8 206.0h0.85v0.85h-0.85zM250.0 204.6h0.85v0.85h-0.85zM257.6 197.6h0.85v0.85h-0.85zM230.6 199.8h0.85v0.85h-0.85zM255.7 204.4h0.85v0.85h-0.85zM237.0 202.0h0.85v0.85h-0.85zM230.2 205.5h0.85v0.85h-0.85zM240.9 207.2h0.85v0.85h-0.85zM244.5 202.7h0.85v0.85h-0.85zM248.6 208.5h0.85v0.85h-0.85zM239.5 204.4h0.85v0.85h-0.85zM238.1 200.7h0.85v0.85h-0.85zM234.7 202.3h0.85v0.85h-0.85zM231.6 203.7h0.85v0.85h-0.85zM239.6 205.1h0.85v0.85h-0.85zM251.7 210.2h0.85v0.85h-0.85zM238.8 203.4h0.85v0.85h-0.85zM247.2 200.7h0.85v0.85h-0.85zM252.4 205.3h0.85v0.85h-0.85zM243.4 208.1h0.85v0.85h-0.85zM236.9 203.2h0.85v0.85h-0.85zM239.0 203.1h0.85v0.85h-0.85zM231.1 204.3h0.85v0.85h-0.85zM251.2 204.6h0.85v0.85h-0.85zM251.8 204.5h0.85v0.85h-0.85zM250.0 198.9h0.85v0.85h-0.85zM239.0 197.3h0.85v0.85h-0.85zM242.1 201.8h0.85v0.85h-0.85zM246.9 199.6h0.85v0.85h-0.85z" fill="#2a2a98" fill-opacity="0.8"/>
<path d="M235.7 219.0h0.85v0.85h-0.85zM260.2 236.8h0.85v0.85h-0.85zM256.2 227.3h0.85v0.85h-0.85zM248.9 226.1h0.85v0.85h-0.85zM244.8 221.5h0.85v0.85h-0.85zM245.6 238.4h0.85v0.85h-0.85zM233.1 233.5h0.85v0.85h-0.85zM236.8 212.4h0.85v0.85h-0.85zM231.4 217.3h0.85v0.85h-0.85zM253.8 221.0h0.85v0.85h-0.85zM249.8 216.8h0.85v0.85h-0.85zM251.2 211.5h0.85v0.85h-0.85zM252.1 220.9h0.85v0.85h-0.85zM239.7 235.5h0.85v0.85h-0.85zM263.6 220.4h0.85v0.85h-0.85zM261.8 228.3h0.85v0.85h-0.85zM259.2 231.7h0.85v0.85h-0.85zM251.4 220.8h0.85v0.85h-0.85zM262.0 218.9h0.85v0.85h-0.85zM249.8 230.9h0.85v0.85h-0.85zM233.8 230.6h0.85v0.85h-0.85zM246.1 222.8h0.85v0.85h-0.85zM254.3 225.6h0.85v0.85h-0.85zM251.8 219.5h0.85v0.85h-0.85zM243.0 222.5h0.85v0.85h-0.85zM246.6 216.9h0.85v0.85h-0.85zM261.3 239.5h0.85v0.85h-0.85zM236.6 221.7h0.85v0.85h-0.85zM257.8 204.5h0.85v0.85h-0.85zM258.2 225.7h0.85v0.85h-0.85zM256.2 233.6h0.85v0.85h-0.85zM261.3 213.4h0.85v0.85h-0.85zM255.6 226.3h0.85v0.85h-0.85zM255.6 212.7h0.85v0.85h-0.85zM242.0 231.4h0.85v0.85h-0.85zM259.5 239.6h0.85v0.85h-0.85zM235.7 236.3h0.85v0.85h-0.85zM247.3 222.7h0.85v0.85h-0.85zM247.0 230.5h0.85v0.85h-0.85zM259.4 217.6h0.85v0.85h-0.85zM255.3 226.5h0.85v0.85h-0.85zM243.5 232.7h0.85v0.85h-0.85zM242.1 220.9h0.85v0.85h-0.85zM249.4 225.8h0.85v0.85h-0.85zM242.9 221.1h0.85v0.85h-0.85zM259.9 226.3h0.85v0.85h-0.85zM252.7 224.8h0.85v0.85h-0.85zM258.2 235.6h0.85v0.85h-0.85zM249.0 232.1h0.85v0.85h-0.85zM243.0 225.0h0.85v0.85h-0.85zM240.0 220.4h0.85v0.85h-0.85zM277.0 217.5h0.85v0.85h-0.85zM261.3 227.5h0.85v0.85h-0.85zM252.4 206.9h0.85v0.85h-0.85zM251.9 212.4h0.85v0.85h-0.85zM244.3 218.6h0.85v0.85h-0.85zM246.8 240.7h0.85v0.85h-0.85zM264.8 209.8h0.85v0.85h-0.85zM246.8 218.0h0.85v0.85h-0.85zM251.2 210.3h0.85v0.85h-0.85zM237.2 224.3h0.85v0.85h-0.85zM243.3 234.2h0.85v0.85h-0.85zM247.4 226.8h0.85v0.85h-0.85zM245.9 231.8h0.85v0.85h-0.85zM260.3 224.3h0.85v0.85h-0.85zM245.5 230.0h0.85v0.85h-0.85zM250.8 233.3h0.85v0.85h-0.85zM250.7 225.8h0.85v0.85h-0.85zM256.8 217.8h0.85v0.85h-0.85zM239.0 228.9h0.85v0.85h-0.85zM248.2 230.2h0.85v0.85h-0.85zM257.0 228.1h0.85v0.85h-0.85zM244.8 238.5h0.85v0.85h-0.85zM229.9 218.3h0.85v0.85h-0.85zM246.8 223.2h0.85v0.85h-0.85zM255.1 235.7h0.85v0.85h-0.85zM258.4 224.3h0.85v0.85h-0.85zM251.5 215.6h0.85v0.85h-0.85zM252.3 222.5h0.85v0.85h-0.85zM230.8 226.9h0.85v0.85h-0.85zM248.9 231.9h0.85v0.85h-0.85zM255.3 225.8h0.85v0.85h-0.85zM248.4 239.0h0.85v0.85h-0.85zM251.8 233.9h0.85v0.85h-0.85zM253.8 236.6h0.85v0.85h-0.85zM258.5 215.2h0.85v0.85h-0.85zM254.8 238.8h0.85v0.85h-0.85zM261.9 222.2h0.85v0.85h-0.85zM264.4 232.8h0.85v0.85h-0.85zM255.8 219.2h0.85v0.85h-0.85zM253.8 229.4h0.85v0.85h-0.85zM232.1 220.8h0.85v0.85h-0.85zM237.0 209.3h0.85v0.85h-0.85zM251.9 232.8h0.85v0.85h-0.85zM249.9 212.0h0.85v0.85h-0.85zM238.8 232.6h0.85v0.85h-0.85zM248.4 227.6h0.85v0.85h-0.85zM247.6 226.4h0.85v0.85h-0.85zM244.3 219.2h0.85v0.85h-0.85zM237.9 225.4h0.85v0.85h-0.85zM249.6 235.0h0.85v0.85h-0.85zM270.4 226.7h0.85v0.85h-0.85zM225.5 214.5h0.85v0.85h-0.85zM261.7 229.3h0.85v0.85h-0.85zM248.7 217.1h0.85v0.85h-0.85zM254.4 227.9h0.85v0.85h-0.85zM259.6 237.0h0.85v0.85h-0.85zM263.9 233.8h0.85v0.85h-0.85zM240.1 230.2h0.85v0.85h-0.85zM240.3 219.0h0.85v0.85h-0.85zM243.3 214.8h0.85v0.85h-0.85zM242.8 237.9h0.85v0.85h-0.85zM249.3 239.2h0.85v0.85h-0.85zM251.3 209.5h0.85v0.85h-0.85zM244.4 239.4h0.85v0.85h-0.85zM259.8 223.6h0.85v0.85h-0.85zM248.1 235.8h0.85v0.85h-0.85zM254.5 223.3h0.85v0.85h-0.85zM260.2 225.6h0.85v0.85h-0.85zM241.3 212.1h0.85v0.85h-0.85zM252.1 240.0h0.85v0.85h-0.85zM251.8 226.1h0.85v0.85h-0.85zM252.1 227.4h0.85v0.85h-0.85zM238.5 224.9h0.85v0.85h-0.85zM246.6 228.8h0.85v0.85h-0.85zM256.5 238.2h0.85v0.85h-0.85zM254.7 222.5h0.85v0.85h-0.85zM265.4 227.8h0.85v0.85h-0.85zM237.2 225.1h0.85v0.85h-0.85zM241.0 238.4h0.85v0.85h-0.85zM242.3 227.0h0.85v0.85h-0.85zM253.5 222.6h0.85v0.85h-0.85zM249.7 221.7h0.85v0.85h-0.85zM244.4 217.8h0.85v0.85h-0.85zM252.1 222.6h0.85v0.85h-0.85zM241.5 221.4h0.85v0.85h-0.85zM268.9 214.5h0.85v0.85h-0.85zM245.5 220.4h0.85v0.85h-0.85zM249.9 232.0h0.85v0.85h-0.85zM244.0 227.6h0.85v0.85h-0.85z" fill="#2c2ca0" fill-opacity="0.5"/>
<g filter="url(#fb)" opacity="0.55" fill="#3434b0"><ellipse cx="272" cy="182.5" rx="5.5" ry="10" transform="rotate(42 272 182.5)"/></g>
<path d="M266.6 190.7h0.85v0.85h-0.85zM273.5 178.5h0.85v0.85h-0.85zM273.7 183.8h0.85v0.85h-0.85zM271.8 180.3h0.85v0.85h-0.85zM281.1 178.3h0.85v0.85h-0.85zM264.9 189.5h0.85v0.85h-0.85zM275.7 180.0h0.85v0.85h-0.85zM266.7 185.8h0.85v0.85h-0.85zM274.5 181.7h0.85v0.85h-0.85zM275.7 175.9h0.85v0.85h-0.85zM267.7 181.7h0.85v0.85h-0.85zM275.0 181.5h0.85v0.85h-0.85zM276.1 181.1h0.85v0.85h-0.85zM280.7 174.5h0.85v0.85h-0.85zM266.5 192.3h0.85v0.85h-0.85zM274.0 184.1h0.85v0.85h-0.85zM272.8 183.8h0.85v0.85h-0.85zM272.4 182.7h0.85v0.85h-0.85zM274.3 182.1h0.85v0.85h-0.85zM273.7 180.4h0.85v0.85h-0.85zM268.3 189.9h0.85v0.85h-0.85zM271.7 186.2h0.85v0.85h-0.85zM278.2 181.8h0.85v0.85h-0.85zM284.2 178.2h0.85v0.85h-0.85zM273.0 184.6h0.85v0.85h-0.85zM278.8 176.7h0.85v0.85h-0.85zM273.4 186.1h0.85v0.85h-0.85zM268.0 187.4h0.85v0.85h-0.85zM271.9 183.4h0.85v0.85h-0.85zM274.1 184.0h0.85v0.85h-0.85zM274.2 181.7h0.85v0.85h-0.85zM270.6 181.6h0.85v0.85h-0.85zM269.6 182.6h0.85v0.85h-0.85zM273.6 179.7h0.85v0.85h-0.85zM276.5 177.1h0.85v0.85h-0.85zM271.2 186.6h0.85v0.85h-0.85zM266.8 178.2h0.85v0.85h-0.85zM268.8 184.2h0.85v0.85h-0.85zM278.2 184.7h0.85v0.85h-0.85zM275.0 178.8h0.85v0.85h-0.85zM269.9 186.3h0.85v0.85h-0.85zM272.1 183.6h0.85v0.85h-0.85zM269.9 180.2h0.85v0.85h-0.85zM271.3 179.2h0.85v0.85h-0.85zM275.0 186.0h0.85v0.85h-0.85zM274.5 176.5h0.85v0.85h-0.85zM270.6 177.5h0.85v0.85h-0.85zM277.4 185.6h0.85v0.85h-0.85zM275.5 177.7h0.85v0.85h-0.85zM267.2 185.9h0.85v0.85h-0.85zM274.8 183.7h0.85v0.85h-0.85zM267.6 184.0h0.85v0.85h-0.85zM265.7 199.5h0.85v0.85h-0.85zM274.9 185.4h0.85v0.85h-0.85zM274.9 182.3h0.85v0.85h-0.85zM272.8 178.2h0.85v0.85h-0.85zM269.4 185.5h0.85v0.85h-0.85zM270.0 191.1h0.85v0.85h-0.85zM281.6 173.9h0.85v0.85h-0.85zM273.4 187.5h0.85v0.85h-0.85zM265.4 186.9h0.85v0.85h-0.85zM271.2 179.7h0.85v0.85h-0.85zM272.1 182.6h0.85v0.85h-0.85zM279.8 173.7h0.85v0.85h-0.85zM269.4 179.4h0.85v0.85h-0.85zM273.7 183.9h0.85v0.85h-0.85zM274.3 174.9h0.85v0.85h-0.85zM265.1 185.1h0.85v0.85h-0.85zM266.8 184.0h0.85v0.85h-0.85zM273.4 175.8h0.85v0.85h-0.85zM265.5 186.9h0.85v0.85h-0.85zM271.2 180.3h0.85v0.85h-0.85zM272.7 179.0h0.85v0.85h-0.85zM276.6 181.7h0.85v0.85h-0.85zM276.3 176.7h0.85v0.85h-0.85zM270.0 181.6h0.85v0.85h-0.85zM268.0 193.3h0.85v0.85h-0.85zM270.2 179.1h0.85v0.85h-0.85zM269.2 177.5h0.85v0.85h-0.85zM269.6 185.3h0.85v0.85h-0.85zM277.1 179.0h0.85v0.85h-0.85zM275.2 173.7h0.85v0.85h-0.85zM280.5 180.1h0.85v0.85h-0.85zM273.0 185.6h0.85v0.85h-0.85zM280.5 177.2h0.85v0.85h-0.85zM271.3 185.1h0.85v0.85h-0.85zM270.1 184.6h0.85v0.85h-0.85zM263.8 186.6h0.85v0.85h-0.85zM270.2 179.7h0.85v0.85h-0.85zM271.8 186.6h0.85v0.85h-0.85zM275.6 185.5h0.85v0.85h-0.85zM268.2 181.9h0.85v0.85h-0.85zM279.6 176.3h0.85v0.85h-0.85zM269.1 189.7h0.85v0.85h-0.85zM266.6 184.9h0.85v0.85h-0.85zM268.3 186.9h0.85v0.85h-0.85zM267.5 185.1h0.85v0.85h-0.85zM273.2 184.2h0.85v0.85h-0.85zM271.9 181.2h0.85v0.85h-0.85zM267.8 190.3h0.85v0.85h-0.85zM268.2 186.1h0.85v0.85h-0.85zM264.6 191.1h0.85v0.85h-0.85zM271.6 188.3h0.85v0.85h-0.85zM275.0 181.0h0.85v0.85h-0.85zM265.2 183.0h0.85v0.85h-0.85zM273.0 178.2h0.85v0.85h-0.85zM273.1 185.9h0.85v0.85h-0.85zM264.9 185.6h0.85v0.85h-0.85zM267.4 186.3h0.85v0.85h-0.85zM275.4 173.8h0.85v0.85h-0.85zM267.5 184.8h0.85v0.85h-0.85zM271.9 173.7h0.85v0.85h-0.85zM264.1 195.5h0.85v0.85h-0.85zM275.3 177.9h0.85v0.85h-0.85zM274.1 178.2h0.85v0.85h-0.85zM272.5 188.8h0.85v0.85h-0.85zM266.7 184.5h0.85v0.85h-0.85zM267.0 178.4h0.85v0.85h-0.85zM272.9 181.5h0.85v0.85h-0.85zM272.4 177.9h0.85v0.85h-0.85zM266.0 180.8h0.85v0.85h-0.85zM267.5 183.1h0.85v0.85h-0.85zM276.6 181.1h0.85v0.85h-0.85zM269.1 180.4h0.85v0.85h-0.85zM278.8 177.9h0.85v0.85h-0.85zM275.9 177.9h0.85v0.85h-0.85zM273.7 187.1h0.85v0.85h-0.85zM270.7 176.7h0.85v0.85h-0.85zM274.1 180.4h0.85v0.85h-0.85zM270.6 184.4h0.85v0.85h-0.85zM274.1 181.0h0.85v0.85h-0.85zM271.6 189.3h0.85v0.85h-0.85zM271.8 181.3h0.85v0.85h-0.85zM276.3 174.8h0.85v0.85h-0.85zM271.1 182.0h0.85v0.85h-0.85zM275.1 177.4h0.85v0.85h-0.85zM272.3 168.4h0.85v0.85h-0.85zM281.3 175.9h0.85v0.85h-0.85zM270.4 186.8h0.85v0.85h-0.85zM271.8 182.2h0.85v0.85h-0.85zM274.0 183.9h0.85v0.85h-0.85zM268.4 186.2h0.85v0.85h-0.85zM263.9 191.2h0.85v0.85h-0.85zM271.1 178.4h0.85v0.85h-0.85zM270.7 182.6h0.85v0.85h-0.85zM262.9 189.6h0.85v0.85h-0.85zM280.9 175.4h0.85v0.85h-0.85zM269.2 185.4h0.85v0.85h-0.85zM273.0 186.6h0.85v0.85h-0.85zM267.1 184.5h0.85v0.85h-0.85z" fill="#2c2ca0" fill-opacity="0.8"/>
<g filter="url(#fb)" opacity="0.7" fill="#3434b0"><rect x="202" y="215.5" width="34" height="24" rx="6"/></g>
<path d="M202.7 240.1h0.85v0.85h-0.85zM213.4 227.0h0.85v0.85h-0.85zM211.2 238.2h0.85v0.85h-0.85zM204.0 234.3h0.85v0.85h-0.85zM212.7 234.4h0.85v0.85h-0.85zM219.8 220.8h0.85v0.85h-0.85zM211.7 212.3h0.85v0.85h-0.85zM205.9 222.6h0.85v0.85h-0.85zM228.9 224.1h0.85v0.85h-0.85zM220.0 225.8h0.85v0.85h-0.85zM201.3 233.2h0.85v0.85h-0.85zM239.8 233.4h0.85v0.85h-0.85zM231.5 233.3h0.85v0.85h-0.85zM212.4 221.3h0.85v0.85h-0.85zM218.5 232.0h0.85v0.85h-0.85zM234.4 236.9h0.85v0.85h-0.85zM228.8 225.2h0.85v0.85h-0.85zM212.0 222.2h0.85v0.85h-0.85zM232.2 220.4h0.85v0.85h-0.85zM219.3 230.5h0.85v0.85h-0.85zM215.8 225.5h0.85v0.85h-0.85zM222.2 221.6h0.85v0.85h-0.85zM218.7 239.8h0.85v0.85h-0.85zM210.6 238.5h0.85v0.85h-0.85zM229.4 241.2h0.85v0.85h-0.85zM228.9 226.9h0.85v0.85h-0.85zM228.5 229.8h0.85v0.85h-0.85zM211.6 223.0h0.85v0.85h-0.85zM211.9 226.9h0.85v0.85h-0.85zM234.0 239.1h0.85v0.85h-0.85zM245.4 227.5h0.85v0.85h-0.85zM207.2 226.8h0.85v0.85h-0.85zM205.5 240.2h0.85v0.85h-0.85zM228.5 233.7h0.85v0.85h-0.85zM227.6 218.8h0.85v0.85h-0.85zM212.0 227.0h0.85v0.85h-0.85zM223.1 233.5h0.85v0.85h-0.85zM235.1 217.2h0.85v0.85h-0.85zM232.9 230.5h0.85v0.85h-0.85zM227.8 226.3h0.85v0.85h-0.85zM233.5 223.5h0.85v0.85h-0.85zM227.3 230.5h0.85v0.85h-0.85zM208.4 230.1h0.85v0.85h-0.85zM216.6 222.4h0.85v0.85h-0.85zM219.4 220.6h0.85v0.85h-0.85zM230.9 232.9h0.85v0.85h-0.85zM229.5 234.4h0.85v0.85h-0.85zM220.8 216.2h0.85v0.85h-0.85zM213.9 228.6h0.85v0.85h-0.85zM211.6 227.7h0.85v0.85h-0.85zM213.1 224.2h0.85v0.85h-0.85zM207.1 224.0h0.85v0.85h-0.85zM204.5 237.4h0.85v0.85h-0.85zM220.8 232.7h0.85v0.85h-0.85zM227.1 225.1h0.85v0.85h-0.85zM230.4 212.7h0.85v0.85h-0.85zM210.2 228.6h0.85v0.85h-0.85zM237.5 238.3h0.85v0.85h-0.85zM227.4 235.1h0.85v0.85h-0.85zM211.2 227.0h0.85v0.85h-0.85zM210.0 229.1h0.85v0.85h-0.85zM203.1 225.6h0.85v0.85h-0.85zM211.7 232.4h0.85v0.85h-0.85zM210.3 231.5h0.85v0.85h-0.85zM223.2 232.8h0.85v0.85h-0.85zM226.8 220.3h0.85v0.85h-0.85zM218.6 227.0h0.85v0.85h-0.85zM230.0 224.4h0.85v0.85h-0.85zM221.0 216.7h0.85v0.85h-0.85zM213.8 222.0h0.85v0.85h-0.85zM217.0 222.8h0.85v0.85h-0.85zM216.7 230.2h0.85v0.85h-0.85zM205.6 234.8h0.85v0.85h-0.85zM230.6 234.0h0.85v0.85h-0.85zM218.6 240.0h0.85v0.85h-0.85zM221.0 214.1h0.85v0.85h-0.85zM225.3 230.6h0.85v0.85h-0.85zM233.1 231.2h0.85v0.85h-0.85zM209.1 212.6h0.85v0.85h-0.85zM245.4 229.4h0.85v0.85h-0.85zM206.6 232.8h0.85v0.85h-0.85zM224.7 231.5h0.85v0.85h-0.85zM215.2 214.5h0.85v0.85h-0.85zM223.4 234.7h0.85v0.85h-0.85zM222.1 232.6h0.85v0.85h-0.85zM219.0 235.9h0.85v0.85h-0.85zM257.8 223.3h0.85v0.85h-0.85zM220.5 218.1h0.85v0.85h-0.85zM233.8 219.8h0.85v0.85h-0.85zM211.8 223.5h0.85v0.85h-0.85zM218.2 224.1h0.85v0.85h-0.85zM214.7 219.8h0.85v0.85h-0.85zM207.7 214.8h0.85v0.85h-0.85zM231.9 240.7h0.85v0.85h-0.85zM241.0 220.5h0.85v0.85h-0.85zM216.3 211.0h0.85v0.85h-0.85zM222.2 216.6h0.85v0.85h-0.85zM222.2 210.2h0.85v0.85h-0.85zM219.1 221.3h0.85v0.85h-0.85zM221.6 222.4h0.85v0.85h-0.85zM221.3 237.4h0.85v0.85h-0.85zM218.2 238.4h0.85v0.85h-0.85zM232.3 220.5h0.85v0.85h-0.85zM214.1 219.3h0.85v0.85h-0.85zM221.5 212.4h0.85v0.85h-0.85zM205.3 208.4h0.85v0.85h-0.85zM222.6 219.8h0.85v0.85h-0.85zM231.9 234.8h0.85v0.85h-0.85zM222.6 221.0h0.85v0.85h-0.85zM217.3 227.2h0.85v0.85h-0.85zM214.8 228.1h0.85v0.85h-0.85zM233.9 238.5h0.85v0.85h-0.85zM202.7 234.0h0.85v0.85h-0.85zM206.5 230.1h0.85v0.85h-0.85zM219.5 236.2h0.85v0.85h-0.85zM226.3 217.6h0.85v0.85h-0.85zM215.7 231.7h0.85v0.85h-0.85zM219.1 223.7h0.85v0.85h-0.85zM215.6 225.6h0.85v0.85h-0.85zM220.4 222.9h0.85v0.85h-0.85zM211.5 232.9h0.85v0.85h-0.85zM229.7 220.1h0.85v0.85h-0.85zM226.4 222.4h0.85v0.85h-0.85zM224.7 237.4h0.85v0.85h-0.85zM224.5 228.0h0.85v0.85h-0.85zM229.4 224.6h0.85v0.85h-0.85zM220.3 221.6h0.85v0.85h-0.85zM213.7 231.3h0.85v0.85h-0.85zM205.4 227.2h0.85v0.85h-0.85zM239.9 219.7h0.85v0.85h-0.85zM214.6 224.9h0.85v0.85h-0.85zM207.7 221.1h0.85v0.85h-0.85zM228.0 225.8h0.85v0.85h-0.85zM208.0 217.2h0.85v0.85h-0.85zM206.6 235.7h0.85v0.85h-0.85zM205.3 210.4h0.85v0.85h-0.85zM205.6 228.1h0.85v0.85h-0.85zM221.1 227.5h0.85v0.85h-0.85zM226.2 216.2h0.85v0.85h-0.85zM204.8 224.5h0.85v0.85h-0.85zM217.2 209.0h0.85v0.85h-0.85zM214.4 213.1h0.85v0.85h-0.85zM227.4 229.7h0.85v0.85h-0.85zM222.2 224.8h0.85v0.85h-0.85zM203.6 221.8h0.85v0.85h-0.85zM228.5 230.6h0.85v0.85h-0.85zM216.7 215.1h0.85v0.85h-0.85zM213.2 238.9h0.85v0.85h-0.85zM204.1 214.9h0.85v0.85h-0.85zM211.8 220.1h0.85v0.85h-0.85zM235.4 224.7h0.85v0.85h-0.85zM213.5 221.2h0.85v0.85h-0.85zM225.3 238.0h0.85v0.85h-0.85zM226.8 213.8h0.85v0.85h-0.85zM213.2 232.0h0.85v0.85h-0.85zM227.3 240.5h0.85v0.85h-0.85zM222.0 234.8h0.85v0.85h-0.85zM226.5 230.5h0.85v0.85h-0.85zM224.5 226.6h0.85v0.85h-0.85zM220.4 235.5h0.85v0.85h-0.85zM211.7 229.6h0.85v0.85h-0.85zM216.2 237.0h0.85v0.85h-0.85zM216.1 234.0h0.85v0.85h-0.85zM228.0 222.7h0.85v0.85h-0.85zM225.9 217.1h0.85v0.85h-0.85zM218.9 220.3h0.85v0.85h-0.85zM228.7 240.4h0.85v0.85h-0.85zM201.9 230.1h0.85v0.85h-0.85zM207.4 214.8h0.85v0.85h-0.85zM215.2 236.4h0.85v0.85h-0.85zM229.8 222.5h0.85v0.85h-0.85zM213.0 240.3h0.85v0.85h-0.85zM238.7 232.3h0.85v0.85h-0.85zM206.8 224.6h0.85v0.85h-0.85zM225.8 225.4h0.85v0.85h-0.85zM217.2 231.4h0.85v0.85h-0.85zM211.6 219.6h0.85v0.85h-0.85zM219.1 223.9h0.85v0.85h-0.85zM211.0 240.1h0.85v0.85h-0.85zM233.7 225.4h0.85v0.85h-0.85zM209.6 213.5h0.85v0.85h-0.85zM216.5 219.8h0.85v0.85h-0.85zM212.5 232.7h0.85v0.85h-0.85zM227.2 220.0h0.85v0.85h-0.85zM222.2 225.2h0.85v0.85h-0.85zM214.7 230.8h0.85v0.85h-0.85zM204.9 233.5h0.85v0.85h-0.85zM227.6 217.3h0.85v0.85h-0.85zM206.2 223.7h0.85v0.85h-0.85zM208.4 224.8h0.85v0.85h-0.85zM228.9 214.9h0.85v0.85h-0.85zM220.6 223.6h0.85v0.85h-0.85zM207.5 214.7h0.85v0.85h-0.85zM232.9 219.2h0.85v0.85h-0.85zM224.5 216.3h0.85v0.85h-0.85zM221.6 224.7h0.85v0.85h-0.85zM211.7 214.5h0.85v0.85h-0.85zM209.7 223.3h0.85v0.85h-0.85zM231.9 233.0h0.85v0.85h-0.85zM221.3 221.6h0.85v0.85h-0.85zM219.0 234.2h0.85v0.85h-0.85zM232.0 235.5h0.85v0.85h-0.85zM238.3 225.4h0.85v0.85h-0.85zM205.2 238.8h0.85v0.85h-0.85zM237.6 235.5h0.85v0.85h-0.85zM216.5 228.7h0.85v0.85h-0.85zM212.5 224.4h0.85v0.85h-0.85zM216.3 231.1h0.85v0.85h-0.85zM202.6 231.8h0.85v0.85h-0.85zM218.2 225.6h0.85v0.85h-0.85zM219.7 224.1h0.85v0.85h-0.85zM219.7 240.5h0.85v0.85h-0.85zM211.2 234.8h0.85v0.85h-0.85zM209.4 225.4h0.85v0.85h-0.85zM219.2 222.1h0.85v0.85h-0.85zM228.6 214.1h0.85v0.85h-0.85zM214.1 227.5h0.85v0.85h-0.85zM217.5 225.9h0.85v0.85h-0.85zM204.4 227.7h0.85v0.85h-0.85zM232.6 232.9h0.85v0.85h-0.85zM214.5 216.2h0.85v0.85h-0.85zM205.4 234.3h0.85v0.85h-0.85zM209.7 224.6h0.85v0.85h-0.85zM243.7 206.0h0.85v0.85h-0.85zM227.2 206.4h0.85v0.85h-0.85zM229.3 232.4h0.85v0.85h-0.85zM225.8 235.4h0.85v0.85h-0.85zM209.3 215.1h0.85v0.85h-0.85zM206.5 230.3h0.85v0.85h-0.85zM221.5 236.5h0.85v0.85h-0.85zM215.4 233.8h0.85v0.85h-0.85zM215.7 217.2h0.85v0.85h-0.85zM209.6 230.2h0.85v0.85h-0.85zM214.7 222.3h0.85v0.85h-0.85zM215.5 239.5h0.85v0.85h-0.85zM207.3 204.9h0.85v0.85h-0.85zM216.6 206.1h0.85v0.85h-0.85zM233.8 221.1h0.85v0.85h-0.85zM216.2 224.8h0.85v0.85h-0.85zM217.5 229.4h0.85v0.85h-0.85zM229.6 217.1h0.85v0.85h-0.85zM210.6 222.9h0.85v0.85h-0.85zM212.6 232.2h0.85v0.85h-0.85zM215.8 230.5h0.85v0.85h-0.85zM222.1 235.5h0.85v0.85h-0.85zM234.5 218.4h0.85v0.85h-0.85zM211.6 229.2h0.85v0.85h-0.85zM222.4 231.2h0.85v0.85h-0.85zM219.3 218.0h0.85v0.85h-0.85zM243.4 226.8h0.85v0.85h-0.85zM220.8 218.2h0.85v0.85h-0.85zM219.7 223.8h0.85v0.85h-0.85zM229.0 235.3h0.85v0.85h-0.85zM208.8 227.7h0.85v0.85h-0.85zM217.0 229.9h0.85v0.85h-0.85zM232.9 220.3h0.85v0.85h-0.85zM248.7 219.5h0.85v0.85h-0.85zM220.5 223.9h0.85v0.85h-0.85zM225.3 228.5h0.85v0.85h-0.85zM206.9 223.5h0.85v0.85h-0.85zM239.6 229.0h0.85v0.85h-0.85zM220.0 218.2h0.85v0.85h-0.85zM241.2 233.1h0.85v0.85h-0.85zM212.5 227.3h0.85v0.85h-0.85zM209.5 239.3h0.85v0.85h-0.85zM227.4 221.2h0.85v0.85h-0.85zM211.8 223.3h0.85v0.85h-0.85zM212.8 230.8h0.85v0.85h-0.85zM211.8 225.5h0.85v0.85h-0.85zM221.1 237.4h0.85v0.85h-0.85zM202.3 221.4h0.85v0.85h-0.85zM213.6 218.7h0.85v0.85h-0.85zM234.6 234.0h0.85v0.85h-0.85zM229.8 231.4h0.85v0.85h-0.85zM202.5 235.9h0.85v0.85h-0.85zM215.0 221.5h0.85v0.85h-0.85zM206.1 216.8h0.85v0.85h-0.85zM210.5 228.9h0.85v0.85h-0.85zM230.6 221.4h0.85v0.85h-0.85zM225.2 230.6h0.85v0.85h-0.85zM225.6 227.5h0.85v0.85h-0.85zM224.6 216.6h0.85v0.85h-0.85zM216.8 225.5h0.85v0.85h-0.85zM218.1 225.6h0.85v0.85h-0.85zM225.5 230.0h0.85v0.85h-0.85zM224.7 225.3h0.85v0.85h-0.85zM203.9 209.7h0.85v0.85h-0.85zM216.4 233.2h0.85v0.85h-0.85zM237.1 229.7h0.85v0.85h-0.85zM215.1 222.4h0.85v0.85h-0.85zM219.5 223.0h0.85v0.85h-0.85zM211.3 227.7h0.85v0.85h-0.85zM222.8 209.6h0.85v0.85h-0.85zM217.7 227.7h0.85v0.85h-0.85zM226.1 218.8h0.85v0.85h-0.85zM223.1 218.4h0.85v0.85h-0.85zM205.2 219.7h0.85v0.85h-0.85zM218.5 224.6h0.85v0.85h-0.85zM231.2 231.8h0.85v0.85h-0.85zM213.9 236.8h0.85v0.85h-0.85z" fill="#2c2ca0" fill-opacity="0.8"/>
<g filter="url(#fb)">
<ellipse cx="252.00" cy="188.50" rx="7.00" ry="3.60" fill="#2a2a9a" transform="rotate(-10 252.00 188.50)"/>
<ellipse cx="252.00" cy="188.50" rx="5.04" ry="2.59" fill="#2f4fd0" transform="rotate(-10 252.00 188.50)"/>
<ellipse cx="252.00" cy="188.50" rx="3.15" ry="1.62" fill="#3aa0e8" transform="rotate(-10 252.00 188.50)"/>
</g>
<g filter="url(#fb)">
<ellipse cx="272.00" cy="182.50" rx="4.60" ry="9.00" fill="#2a2a9a" transform="rotate(42 272.00 182.50)"/>
<ellipse cx="272.07" cy="182.50" rx="3.96" ry="7.74" fill="#2f4fd0" transform="rotate(42 272.07 182.50)"/>
<ellipse cx="272.14" cy="182.50" rx="3.31" ry="6.48" fill="#3aa0e8" transform="rotate(42 272.14 182.50)"/>
<ellipse cx="272.21" cy="182.50" rx="2.62" ry="5.13" fill="#3ec8b0" transform="rotate(42 272.21 182.50)"/>
<ellipse cx="272.29" cy="182.50" rx="1.93" ry="3.78" fill="#7ad040" transform="rotate(42 272.29 182.50)"/>
<ellipse cx="272.37" cy="182.50" rx="1.20" ry="2.34" fill="#e8e020" transform="rotate(42 272.37 182.50)"/>
</g>
<g filter="url(#fb)">
<ellipse cx="217.00" cy="226.50" rx="17.00" ry="11.50" fill="#2a2a9a" transform="rotate(0 217.00 226.50)"/>
<ellipse cx="216.75" cy="226.43" rx="15.30" ry="10.35" fill="#2f4fd0" transform="rotate(0 216.75 226.43)"/>
<ellipse cx="216.50" cy="226.36" rx="13.60" ry="9.20" fill="#3aa0e8" transform="rotate(0 216.50 226.36)"/>
<ellipse cx="216.20" cy="226.28" rx="11.56" ry="7.82" fill="#3ec8b0" transform="rotate(0 216.20 226.28)"/>
<ellipse cx="215.88" cy="226.19" rx="9.35" ry="6.33" fill="#7ad040" transform="rotate(0 215.88 226.19)"/>
<ellipse cx="215.55" cy="226.09" rx="7.14" ry="4.83" fill="#e8e020" transform="rotate(0 215.55 226.09)"/>
<ellipse cx="215.22" cy="226.00" rx="4.93" ry="3.33" fill="#f08a18" transform="rotate(0 215.22 226.00)"/>
<ellipse cx="214.93" cy="225.92" rx="2.89" ry="1.96" fill="#e02414" transform="rotate(0 214.93 225.92)"/>
</g>
</g>
<rect x="201.7" y="181.2" width="25.0" height="30.700000000000017" fill="none" stroke="#1a1a1a" stroke-width="1.1"/>
<rect x="227.3" y="176.7" width="35.0" height="35.60000000000002" fill="none" stroke="#1a1a1a" stroke-width="1.1"/>
<rect x="262.3" y="167.7" width="19.80000000000001" height="29.600000000000023" fill="none" stroke="#1a1a1a" stroke-width="1.1"/>
<rect x="200.9" y="214.2" width="37.400000000000006" height="28.5" fill="none" stroke="#1a1a1a" stroke-width="1.1"/>
<text x="213.8" y="179.2" font-size="7.5" text-anchor="middle" fill="#222">5.44</text>
<text x="244.6" y="173.5" font-size="7.5" text-anchor="middle" fill="#222">7.92</text>
<text x="271.9" y="164.2" font-size="7.5" text-anchor="middle" fill="#222">12.6</text>
<text x="205" y="158.5" font-size="7.4" text-anchor="start" font-weight="bold" fill="#111">Control</text>
<rect x="317.4" y="150.3" width="92.0" height="92.39999999999998" fill="#fff" stroke="#8a8a8a" stroke-width="0.8"/>
<g clip-path="url(#fc2)">
<g filter="url(#fb)" opacity="0.6" fill="#3434b0"><rect x="319" y="184.5" width="35" height="28.5"/></g>
<path d="M318.8 205.6h0.85v0.85h-0.85zM319.4 208.1h0.85v0.85h-0.85zM347.3 197.3h0.85v0.85h-0.85zM322.8 202.9h0.85v0.85h-0.85zM325.9 196.4h0.85v0.85h-0.85zM322.4 212.3h0.85v0.85h-0.85zM337.9 194.2h0.85v0.85h-0.85zM321.8 205.2h0.85v0.85h-0.85zM348.7 208.6h0.85v0.85h-0.85zM322.1 194.7h0.85v0.85h-0.85zM329.2 206.1h0.85v0.85h-0.85zM323.7 201.6h0.85v0.85h-0.85zM353.2 206.3h0.85v0.85h-0.85zM318.7 186.2h0.85v0.85h-0.85zM322.5 204.1h0.85v0.85h-0.85zM339.8 199.1h0.85v0.85h-0.85zM334.7 195.8h0.85v0.85h-0.85zM340.2 202.8h0.85v0.85h-0.85zM351.0 205.2h0.85v0.85h-0.85zM346.8 210.5h0.85v0.85h-0.85zM348.2 204.8h0.85v0.85h-0.85zM319.6 203.7h0.85v0.85h-0.85zM348.7 196.5h0.85v0.85h-0.85zM349.7 189.2h0.85v0.85h-0.85zM352.0 196.8h0.85v0.85h-0.85zM343.6 191.3h0.85v0.85h-0.85zM329.2 194.1h0.85v0.85h-0.85zM330.0 186.7h0.85v0.85h-0.85zM334.2 212.4h0.85v0.85h-0.85zM341.7 211.0h0.85v0.85h-0.85zM345.6 208.3h0.85v0.85h-0.85zM353.8 205.8h0.85v0.85h-0.85zM328.2 191.2h0.85v0.85h-0.85zM333.1 184.6h0.85v0.85h-0.85zM326.7 209.7h0.85v0.85h-0.85zM351.2 193.5h0.85v0.85h-0.85zM345.8 206.5h0.85v0.85h-0.85zM350.1 207.0h0.85v0.85h-0.85zM337.4 187.0h0.85v0.85h-0.85zM347.8 193.1h0.85v0.85h-0.85zM340.8 194.6h0.85v0.85h-0.85zM337.6 212.0h0.85v0.85h-0.85zM324.2 199.4h0.85v0.85h-0.85zM341.6 199.6h0.85v0.85h-0.85zM351.8 195.8h0.85v0.85h-0.85zM350.9 204.0h0.85v0.85h-0.85zM352.8 186.6h0.85v0.85h-0.85zM326.0 192.3h0.85v0.85h-0.85zM350.7 184.4h0.85v0.85h-0.85zM327.7 204.8h0.85v0.85h-0.85zM353.6 189.1h0.85v0.85h-0.85zM334.0 203.9h0.85v0.85h-0.85zM343.0 205.6h0.85v0.85h-0.85zM345.2 191.2h0.85v0.85h-0.85zM327.6 184.8h0.85v0.85h-0.85zM343.0 190.1h0.85v0.85h-0.85zM327.7 212.0h0.85v0.85h-0.85zM341.3 201.1h0.85v0.85h-0.85zM341.8 201.3h0.85v0.85h-0.85zM343.2 192.8h0.85v0.85h-0.85zM320.8 185.9h0.85v0.85h-0.85zM319.0 194.5h0.85v0.85h-0.85zM323.5 187.3h0.85v0.85h-0.85zM336.0 212.1h0.85v0.85h-0.85zM342.9 191.9h0.85v0.85h-0.85zM345.8 189.2h0.85v0.85h-0.85zM322.1 192.8h0.85v0.85h-0.85zM333.0 204.0h0.85v0.85h-0.85zM334.3 205.1h0.85v0.85h-0.85zM321.9 211.0h0.85v0.85h-0.85zM330.7 208.1h0.85v0.85h-0.85zM319.6 208.0h0.85v0.85h-0.85zM326.5 208.8h0.85v0.85h-0.85zM347.0 203.5h0.85v0.85h-0.85zM328.4 184.3h0.85v0.85h-0.85zM325.2 210.2h0.85v0.85h-0.85zM324.1 203.1h0.85v0.85h-0.85zM339.3 203.2h0.85v0.85h-0.85zM324.9 188.2h0.85v0.85h-0.85zM321.9 212.5h0.85v0.85h-0.85zM332.1 202.9h0.85v0.85h-0.85zM338.7 190.5h0.85v0.85h-0.85zM320.8 184.4h0.85v0.85h-0.85zM348.8 187.8h0.85v0.85h-0.85zM352.7 194.5h0.85v0.85h-0.85zM344.2 188.0h0.85v0.85h-0.85zM346.5 191.3h0.85v0.85h-0.85zM331.5 199.2h0.85v0.85h-0.85zM322.5 191.2h0.85v0.85h-0.85zM346.8 192.3h0.85v0.85h-0.85zM332.0 206.2h0.85v0.85h-0.85zM326.5 189.6h0.85v0.85h-0.85zM326.3 195.1h0.85v0.85h-0.85zM331.5 202.6h0.85v0.85h-0.85zM335.2 209.2h0.85v0.85h-0.85zM320.3 203.2h0.85v0.85h-0.85zM348.2 190.8h0.85v0.85h-0.85zM319.5 196.7h0.85v0.85h-0.85zM322.6 197.3h0.85v0.85h-0.85zM343.8 186.7h0.85v0.85h-0.85zM322.7 197.9h0.85v0.85h-0.85zM324.7 190.7h0.85v0.85h-0.85zM334.1 187.4h0.85v0.85h-0.85zM320.9 194.5h0.85v0.85h-0.85zM335.2 211.2h0.85v0.85h-0.85zM338.2 186.1h0.85v0.85h-0.85zM326.4 205.6h0.85v0.85h-0.85zM338.5 209.2h0.85v0.85h-0.85zM352.7 208.9h0.85v0.85h-0.85zM322.4 211.4h0.85v0.85h-0.85zM337.1 191.0h0.85v0.85h-0.85zM324.6 209.1h0.85v0.85h-0.85zM326.0 186.4h0.85v0.85h-0.85zM327.9 210.8h0.85v0.85h-0.85zM334.9 205.2h0.85v0.85h-0.85zM321.1 197.1h0.85v0.85h-0.85zM329.8 190.0h0.85v0.85h-0.85zM342.0 194.5h0.85v0.85h-0.85zM322.7 212.5h0.85v0.85h-0.85zM335.6 189.2h0.85v0.85h-0.85zM318.9 202.9h0.85v0.85h-0.85zM336.8 184.7h0.85v0.85h-0.85zM335.2 205.5h0.85v0.85h-0.85zM337.6 190.8h0.85v0.85h-0.85zM336.2 201.5h0.85v0.85h-0.85zM341.6 188.2h0.85v0.85h-0.85zM347.0 211.4h0.85v0.85h-0.85zM344.8 208.9h0.85v0.85h-0.85zM331.6 210.2h0.85v0.85h-0.85zM325.0 190.6h0.85v0.85h-0.85zM339.7 210.1h0.85v0.85h-0.85zM321.4 190.3h0.85v0.85h-0.85zM319.8 196.7h0.85v0.85h-0.85zM323.5 189.6h0.85v0.85h-0.85zM345.1 200.9h0.85v0.85h-0.85zM351.9 195.7h0.85v0.85h-0.85zM342.6 184.4h0.85v0.85h-0.85zM352.2 190.8h0.85v0.85h-0.85zM335.4 198.8h0.85v0.85h-0.85zM352.2 198.3h0.85v0.85h-0.85zM353.7 202.0h0.85v0.85h-0.85zM326.2 208.2h0.85v0.85h-0.85zM325.7 213.0h0.85v0.85h-0.85zM334.7 190.6h0.85v0.85h-0.85zM352.6 193.3h0.85v0.85h-0.85zM332.9 194.0h0.85v0.85h-0.85zM342.2 184.7h0.85v0.85h-0.85zM331.8 188.7h0.85v0.85h-0.85zM347.9 184.0h0.85v0.85h-0.85zM340.1 191.5h0.85v0.85h-0.85zM334.6 200.3h0.85v0.85h-0.85zM343.8 188.0h0.85v0.85h-0.85zM327.0 187.5h0.85v0.85h-0.85zM352.6 188.3h0.85v0.85h-0.85zM323.4 199.1h0.85v0.85h-0.85zM339.1 209.7h0.85v0.85h-0.85zM320.5 190.8h0.85v0.85h-0.85zM324.4 201.0h0.85v0.85h-0.85zM334.6 195.9h0.85v0.85h-0.85zM350.0 203.2h0.85v0.85h-0.85zM349.0 211.8h0.85v0.85h-0.85zM328.0 211.3h0.85v0.85h-0.85zM333.0 185.5h0.85v0.85h-0.85zM351.0 187.0h0.85v0.85h-0.85zM319.1 192.4h0.85v0.85h-0.85zM328.8 212.0h0.85v0.85h-0.85zM349.4 196.2h0.85v0.85h-0.85zM337.3 208.6h0.85v0.85h-0.85zM347.2 202.9h0.85v0.85h-0.85zM336.7 187.4h0.85v0.85h-0.85zM327.2 203.1h0.85v0.85h-0.85zM339.3 207.2h0.85v0.85h-0.85zM350.4 211.9h0.85v0.85h-0.85zM325.3 186.2h0.85v0.85h-0.85zM350.4 200.5h0.85v0.85h-0.85zM324.9 204.1h0.85v0.85h-0.85zM327.6 190.9h0.85v0.85h-0.85zM331.5 199.2h0.85v0.85h-0.85zM342.5 186.1h0.85v0.85h-0.85zM344.8 202.1h0.85v0.85h-0.85zM335.2 203.5h0.85v0.85h-0.85zM346.9 184.3h0.85v0.85h-0.85zM335.4 203.7h0.85v0.85h-0.85zM343.7 202.8h0.85v0.85h-0.85zM324.9 211.8h0.85v0.85h-0.85zM346.4 190.8h0.85v0.85h-0.85zM333.8 211.8h0.85v0.85h-0.85zM325.9 195.9h0.85v0.85h-0.85zM352.6 210.1h0.85v0.85h-0.85zM326.8 205.3h0.85v0.85h-0.85zM331.3 203.2h0.85v0.85h-0.85zM345.7 187.7h0.85v0.85h-0.85zM326.4 190.2h0.85v0.85h-0.85zM327.9 185.0h0.85v0.85h-0.85zM323.3 195.8h0.85v0.85h-0.85zM333.4 186.3h0.85v0.85h-0.85zM339.2 211.3h0.85v0.85h-0.85zM339.0 194.3h0.85v0.85h-0.85zM343.5 196.7h0.85v0.85h-0.85zM324.7 198.0h0.85v0.85h-0.85zM319.1 203.6h0.85v0.85h-0.85zM324.2 194.7h0.85v0.85h-0.85zM352.7 206.2h0.85v0.85h-0.85zM348.2 202.6h0.85v0.85h-0.85zM341.0 204.4h0.85v0.85h-0.85zM352.8 189.7h0.85v0.85h-0.85zM345.7 192.7h0.85v0.85h-0.85zM327.6 207.8h0.85v0.85h-0.85zM339.8 208.6h0.85v0.85h-0.85zM349.6 201.1h0.85v0.85h-0.85zM325.5 184.4h0.85v0.85h-0.85zM337.5 205.0h0.85v0.85h-0.85zM328.2 186.0h0.85v0.85h-0.85zM318.7 189.0h0.85v0.85h-0.85zM343.2 184.1h0.85v0.85h-0.85zM326.7 191.7h0.85v0.85h-0.85zM343.7 212.6h0.85v0.85h-0.85zM319.2 187.3h0.85v0.85h-0.85zM351.7 212.1h0.85v0.85h-0.85zM323.8 193.7h0.85v0.85h-0.85zM337.0 193.3h0.85v0.85h-0.85zM333.3 197.9h0.85v0.85h-0.85zM327.7 185.6h0.85v0.85h-0.85zM321.5 188.7h0.85v0.85h-0.85zM321.7 202.1h0.85v0.85h-0.85zM343.2 191.6h0.85v0.85h-0.85zM346.6 205.1h0.85v0.85h-0.85zM330.6 198.3h0.85v0.85h-0.85zM325.2 210.9h0.85v0.85h-0.85zM338.4 185.5h0.85v0.85h-0.85zM324.0 204.1h0.85v0.85h-0.85zM332.2 204.8h0.85v0.85h-0.85zM326.6 207.1h0.85v0.85h-0.85zM347.0 186.7h0.85v0.85h-0.85zM339.3 189.5h0.85v0.85h-0.85zM343.6 207.3h0.85v0.85h-0.85zM346.6 190.7h0.85v0.85h-0.85zM321.8 203.2h0.85v0.85h-0.85zM338.6 188.0h0.85v0.85h-0.85zM325.3 200.9h0.85v0.85h-0.85zM322.3 202.4h0.85v0.85h-0.85zM327.1 191.5h0.85v0.85h-0.85zM333.5 199.5h0.85v0.85h-0.85zM344.2 184.9h0.85v0.85h-0.85zM344.2 190.4h0.85v0.85h-0.85zM328.8 202.6h0.85v0.85h-0.85zM343.0 201.8h0.85v0.85h-0.85zM350.5 189.9h0.85v0.85h-0.85zM329.5 203.2h0.85v0.85h-0.85zM327.8 188.6h0.85v0.85h-0.85zM326.5 206.4h0.85v0.85h-0.85zM347.9 204.8h0.85v0.85h-0.85zM352.5 207.0h0.85v0.85h-0.85zM329.5 193.1h0.85v0.85h-0.85zM344.1 185.6h0.85v0.85h-0.85zM340.1 186.6h0.85v0.85h-0.85zM320.2 198.9h0.85v0.85h-0.85zM323.9 211.0h0.85v0.85h-0.85zM349.6 197.4h0.85v0.85h-0.85zM325.5 187.5h0.85v0.85h-0.85zM336.5 199.1h0.85v0.85h-0.85zM331.4 204.8h0.85v0.85h-0.85zM337.3 206.5h0.85v0.85h-0.85zM322.3 186.0h0.85v0.85h-0.85zM332.2 198.0h0.85v0.85h-0.85zM327.5 203.4h0.85v0.85h-0.85zM326.4 193.2h0.85v0.85h-0.85zM335.4 204.7h0.85v0.85h-0.85zM345.8 194.8h0.85v0.85h-0.85zM334.4 210.9h0.85v0.85h-0.85zM351.7 201.9h0.85v0.85h-0.85zM322.2 197.2h0.85v0.85h-0.85zM341.1 192.1h0.85v0.85h-0.85zM319.8 212.5h0.85v0.85h-0.85zM350.8 187.7h0.85v0.85h-0.85zM335.0 202.0h0.85v0.85h-0.85zM329.1 186.0h0.85v0.85h-0.85zM345.1 206.4h0.85v0.85h-0.85zM334.0 186.5h0.85v0.85h-0.85zM332.5 186.7h0.85v0.85h-0.85zM352.7 185.5h0.85v0.85h-0.85zM328.7 206.3h0.85v0.85h-0.85zM323.3 187.1h0.85v0.85h-0.85zM321.0 188.8h0.85v0.85h-0.85zM337.4 208.2h0.85v0.85h-0.85zM324.5 189.0h0.85v0.85h-0.85zM345.7 196.3h0.85v0.85h-0.85zM330.5 187.6h0.85v0.85h-0.85zM327.1 212.2h0.85v0.85h-0.85zM322.7 191.5h0.85v0.85h-0.85zM344.8 209.9h0.85v0.85h-0.85zM350.6 197.7h0.85v0.85h-0.85zM352.5 201.5h0.85v0.85h-0.85zM328.7 197.5h0.85v0.85h-0.85zM343.9 205.3h0.85v0.85h-0.85zM323.1 189.6h0.85v0.85h-0.85zM352.5 187.1h0.85v0.85h-0.85zM347.4 193.8h0.85v0.85h-0.85zM327.3 191.4h0.85v0.85h-0.85zM335.2 212.7h0.85v0.85h-0.85zM323.8 208.8h0.85v0.85h-0.85zM329.9 189.0h0.85v0.85h-0.85zM344.9 193.9h0.85v0.85h-0.85zM325.2 196.1h0.85v0.85h-0.85zM347.7 209.0h0.85v0.85h-0.85zM338.9 184.3h0.85v0.85h-0.85zM345.6 201.6h0.85v0.85h-0.85zM350.4 211.6h0.85v0.85h-0.85zM330.1 208.6h0.85v0.85h-0.85zM347.6 191.7h0.85v0.85h-0.85zM331.5 194.9h0.85v0.85h-0.85zM331.0 195.0h0.85v0.85h-0.85zM322.4 190.6h0.85v0.85h-0.85zM350.8 195.9h0.85v0.85h-0.85zM341.1 209.7h0.85v0.85h-0.85zM345.3 191.1h0.85v0.85h-0.85zM351.1 207.3h0.85v0.85h-0.85zM353.7 205.1h0.85v0.85h-0.85zM345.3 207.6h0.85v0.85h-0.85zM327.5 203.0h0.85v0.85h-0.85zM332.0 208.4h0.85v0.85h-0.85zM323.2 199.6h0.85v0.85h-0.85zM330.4 207.8h0.85v0.85h-0.85zM330.8 208.5h0.85v0.85h-0.85zM348.6 209.5h0.85v0.85h-0.85zM323.4 211.2h0.85v0.85h-0.85zM344.9 203.6h0.85v0.85h-0.85zM341.7 185.4h0.85v0.85h-0.85zM349.4 199.9h0.85v0.85h-0.85zM334.7 193.8h0.85v0.85h-0.85zM346.3 206.7h0.85v0.85h-0.85zM349.4 190.2h0.85v0.85h-0.85zM330.6 191.2h0.85v0.85h-0.85zM322.1 193.5h0.85v0.85h-0.85zM319.4 207.1h0.85v0.85h-0.85zM326.6 186.0h0.85v0.85h-0.85zM320.9 205.5h0.85v0.85h-0.85zM325.5 197.4h0.85v0.85h-0.85zM332.8 207.3h0.85v0.85h-0.85zM352.4 193.0h0.85v0.85h-0.85zM340.9 209.9h0.85v0.85h-0.85zM335.2 210.1h0.85v0.85h-0.85zM344.5 193.0h0.85v0.85h-0.85zM349.5 200.6h0.85v0.85h-0.85zM322.3 201.0h0.85v0.85h-0.85zM347.9 199.0h0.85v0.85h-0.85zM335.7 196.1h0.85v0.85h-0.85zM349.8 203.3h0.85v0.85h-0.85zM325.9 194.5h0.85v0.85h-0.85zM331.4 211.8h0.85v0.85h-0.85zM343.2 187.6h0.85v0.85h-0.85zM351.0 185.0h0.85v0.85h-0.85zM339.5 196.5h0.85v0.85h-0.85zM344.0 196.5h0.85v0.85h-0.85zM321.8 199.2h0.85v0.85h-0.85zM347.6 206.9h0.85v0.85h-0.85zM331.2 190.4h0.85v0.85h-0.85zM344.9 207.2h0.85v0.85h-0.85zM326.3 209.6h0.85v0.85h-0.85zM353.7 196.6h0.85v0.85h-0.85zM332.0 204.6h0.85v0.85h-0.85zM351.5 189.8h0.85v0.85h-0.85zM329.2 193.5h0.85v0.85h-0.85zM344.5 189.4h0.85v0.85h-0.85zM337.9 198.5h0.85v0.85h-0.85zM342.2 188.2h0.85v0.85h-0.85zM352.5 213.0h0.85v0.85h-0.85zM338.4 207.1h0.85v0.85h-0.85zM325.0 210.4h0.85v0.85h-0.85zM338.1 206.0h0.85v0.85h-0.85zM349.3 194.5h0.85v0.85h-0.85zM351.3 190.0h0.85v0.85h-0.85zM319.3 198.6h0.85v0.85h-0.85zM350.4 210.1h0.85v0.85h-0.85zM352.4 198.8h0.85v0.85h-0.85zM351.6 200.2h0.85v0.85h-0.85zM323.6 202.3h0.85v0.85h-0.85zM347.0 196.3h0.85v0.85h-0.85zM339.9 191.5h0.85v0.85h-0.85zM328.3 196.2h0.85v0.85h-0.85z" fill="#2a2a98" fill-opacity="0.75"/>
<g filter="url(#fb)" opacity="0.22" fill="#3434b0"><rect x="319" y="213.5" width="35.5" height="28.5"/></g>
<g filter="url(#fb)" opacity="0.2" fill="#3434b0"><rect x="319" y="213.5" width="35.5" height="8"/></g>
<path d="M337.2 227.1h0.85v0.85h-0.85zM321.9 213.7h0.85v0.85h-0.85zM330.9 234.3h0.85v0.85h-0.85zM345.8 220.4h0.85v0.85h-0.85zM327.8 228.5h0.85v0.85h-0.85zM324.9 231.0h0.85v0.85h-0.85zM351.5 219.4h0.85v0.85h-0.85zM339.9 234.4h0.85v0.85h-0.85zM345.8 234.2h0.85v0.85h-0.85zM344.4 221.4h0.85v0.85h-0.85zM349.1 240.3h0.85v0.85h-0.85zM320.4 240.9h0.85v0.85h-0.85zM334.7 216.0h0.85v0.85h-0.85zM321.0 236.6h0.85v0.85h-0.85zM343.2 217.6h0.85v0.85h-0.85zM335.3 232.0h0.85v0.85h-0.85zM354.9 223.2h0.85v0.85h-0.85zM346.5 220.6h0.85v0.85h-0.85zM325.8 218.2h0.85v0.85h-0.85zM333.5 231.4h0.85v0.85h-0.85zM329.6 218.2h0.85v0.85h-0.85zM326.5 216.0h0.85v0.85h-0.85zM325.5 222.7h0.85v0.85h-0.85zM336.9 218.8h0.85v0.85h-0.85zM336.0 226.3h0.85v0.85h-0.85zM354.0 227.6h0.85v0.85h-0.85zM353.0 227.2h0.85v0.85h-0.85zM325.7 230.7h0.85v0.85h-0.85zM323.8 218.4h0.85v0.85h-0.85zM321.2 233.8h0.85v0.85h-0.85zM353.8 225.2h0.85v0.85h-0.85zM331.4 225.8h0.85v0.85h-0.85zM331.3 233.5h0.85v0.85h-0.85zM332.8 217.9h0.85v0.85h-0.85zM350.0 230.1h0.85v0.85h-0.85zM318.7 238.1h0.85v0.85h-0.85zM345.1 223.8h0.85v0.85h-0.85zM341.5 240.2h0.85v0.85h-0.85zM333.2 226.0h0.85v0.85h-0.85zM329.4 229.6h0.85v0.85h-0.85zM342.7 234.8h0.85v0.85h-0.85zM353.1 217.7h0.85v0.85h-0.85zM331.9 238.2h0.85v0.85h-0.85zM347.4 230.6h0.85v0.85h-0.85zM343.2 223.4h0.85v0.85h-0.85zM353.0 229.4h0.85v0.85h-0.85zM333.2 218.8h0.85v0.85h-0.85zM322.7 239.5h0.85v0.85h-0.85zM347.7 214.3h0.85v0.85h-0.85zM330.3 227.4h0.85v0.85h-0.85zM336.6 224.0h0.85v0.85h-0.85zM351.2 223.6h0.85v0.85h-0.85zM337.9 240.5h0.85v0.85h-0.85zM341.8 227.3h0.85v0.85h-0.85zM330.6 224.7h0.85v0.85h-0.85zM340.7 236.3h0.85v0.85h-0.85zM328.0 224.2h0.85v0.85h-0.85zM332.7 224.0h0.85v0.85h-0.85zM351.8 229.1h0.85v0.85h-0.85zM328.6 223.1h0.85v0.85h-0.85zM348.5 218.1h0.85v0.85h-0.85zM343.7 214.1h0.85v0.85h-0.85zM325.5 215.2h0.85v0.85h-0.85zM347.9 217.8h0.85v0.85h-0.85zM326.8 215.2h0.85v0.85h-0.85zM328.1 234.8h0.85v0.85h-0.85zM344.8 239.9h0.85v0.85h-0.85zM353.1 229.5h0.85v0.85h-0.85zM352.2 216.1h0.85v0.85h-0.85zM352.3 226.1h0.85v0.85h-0.85zM325.5 235.2h0.85v0.85h-0.85zM349.8 224.7h0.85v0.85h-0.85zM321.9 238.8h0.85v0.85h-0.85zM346.0 230.8h0.85v0.85h-0.85zM354.2 214.6h0.85v0.85h-0.85zM320.5 217.1h0.85v0.85h-0.85zM319.3 234.0h0.85v0.85h-0.85zM341.5 216.8h0.85v0.85h-0.85zM324.4 218.7h0.85v0.85h-0.85zM340.7 233.0h0.85v0.85h-0.85zM353.9 224.0h0.85v0.85h-0.85zM354.2 226.1h0.85v0.85h-0.85zM332.8 220.8h0.85v0.85h-0.85zM327.0 241.8h0.85v0.85h-0.85zM354.8 234.0h0.85v0.85h-0.85zM324.9 218.7h0.85v0.85h-0.85zM324.1 223.7h0.85v0.85h-0.85zM345.4 215.2h0.85v0.85h-0.85zM337.9 233.2h0.85v0.85h-0.85zM319.7 226.2h0.85v0.85h-0.85zM347.4 230.2h0.85v0.85h-0.85zM335.0 239.1h0.85v0.85h-0.85zM340.4 223.3h0.85v0.85h-0.85zM333.0 240.9h0.85v0.85h-0.85zM349.9 240.0h0.85v0.85h-0.85zM339.0 217.6h0.85v0.85h-0.85zM324.9 224.6h0.85v0.85h-0.85zM343.7 213.6h0.85v0.85h-0.85zM347.8 236.3h0.85v0.85h-0.85zM337.3 213.7h0.85v0.85h-0.85zM347.6 225.5h0.85v0.85h-0.85zM342.9 230.0h0.85v0.85h-0.85zM345.1 225.4h0.85v0.85h-0.85zM353.5 241.2h0.85v0.85h-0.85zM352.4 231.3h0.85v0.85h-0.85zM330.0 224.4h0.85v0.85h-0.85zM328.3 239.7h0.85v0.85h-0.85zM347.4 236.4h0.85v0.85h-0.85zM348.5 242.2h0.85v0.85h-0.85zM343.6 222.7h0.85v0.85h-0.85zM346.2 221.1h0.85v0.85h-0.85zM340.8 218.1h0.85v0.85h-0.85zM349.8 227.7h0.85v0.85h-0.85zM328.5 240.3h0.85v0.85h-0.85zM321.5 240.5h0.85v0.85h-0.85zM346.1 217.8h0.85v0.85h-0.85zM346.3 230.1h0.85v0.85h-0.85zM351.6 230.5h0.85v0.85h-0.85zM334.1 240.6h0.85v0.85h-0.85zM321.7 236.0h0.85v0.85h-0.85zM322.3 221.5h0.85v0.85h-0.85zM322.6 238.8h0.85v0.85h-0.85zM334.6 234.6h0.85v0.85h-0.85zM327.9 234.7h0.85v0.85h-0.85zM342.2 216.3h0.85v0.85h-0.85zM336.5 234.4h0.85v0.85h-0.85zM326.3 232.5h0.85v0.85h-0.85zM328.6 224.2h0.85v0.85h-0.85zM352.1 240.8h0.85v0.85h-0.85zM354.9 225.9h0.85v0.85h-0.85zM339.4 236.9h0.85v0.85h-0.85zM346.2 226.7h0.85v0.85h-0.85zM350.0 225.1h0.85v0.85h-0.85zM353.2 227.2h0.85v0.85h-0.85zM322.8 235.2h0.85v0.85h-0.85zM323.8 233.2h0.85v0.85h-0.85zM320.5 242.2h0.85v0.85h-0.85zM338.2 235.0h0.85v0.85h-0.85zM323.3 232.0h0.85v0.85h-0.85zM332.2 220.7h0.85v0.85h-0.85zM348.2 214.5h0.85v0.85h-0.85zM335.9 216.0h0.85v0.85h-0.85zM349.6 239.4h0.85v0.85h-0.85zM319.8 227.0h0.85v0.85h-0.85zM335.6 234.3h0.85v0.85h-0.85zM345.1 223.5h0.85v0.85h-0.85zM352.5 218.9h0.85v0.85h-0.85zM323.5 237.1h0.85v0.85h-0.85zM322.9 218.9h0.85v0.85h-0.85zM336.8 223.3h0.85v0.85h-0.85zM324.5 240.5h0.85v0.85h-0.85zM335.8 236.3h0.85v0.85h-0.85zM327.6 240.0h0.85v0.85h-0.85zM326.6 239.8h0.85v0.85h-0.85zM340.9 241.7h0.85v0.85h-0.85zM346.6 231.8h0.85v0.85h-0.85zM338.0 238.3h0.85v0.85h-0.85zM334.7 216.4h0.85v0.85h-0.85zM351.9 236.9h0.85v0.85h-0.85zM343.4 235.1h0.85v0.85h-0.85zM327.0 226.9h0.85v0.85h-0.85zM348.5 241.4h0.85v0.85h-0.85zM352.2 218.2h0.85v0.85h-0.85zM343.5 229.6h0.85v0.85h-0.85zM333.3 218.4h0.85v0.85h-0.85zM323.5 227.1h0.85v0.85h-0.85zM336.5 221.3h0.85v0.85h-0.85zM331.9 229.6h0.85v0.85h-0.85zM346.3 230.6h0.85v0.85h-0.85zM324.4 239.2h0.85v0.85h-0.85zM331.9 241.3h0.85v0.85h-0.85zM354.3 217.6h0.85v0.85h-0.85zM339.8 241.5h0.85v0.85h-0.85zM332.6 229.4h0.85v0.85h-0.85zM330.0 214.3h0.85v0.85h-0.85zM326.0 217.1h0.85v0.85h-0.85zM328.9 231.8h0.85v0.85h-0.85zM339.1 241.0h0.85v0.85h-0.85zM343.5 224.0h0.85v0.85h-0.85zM353.2 231.9h0.85v0.85h-0.85zM338.3 238.5h0.85v0.85h-0.85zM343.0 224.0h0.85v0.85h-0.85zM340.6 222.2h0.85v0.85h-0.85zM353.9 220.6h0.85v0.85h-0.85zM354.0 215.4h0.85v0.85h-0.85zM318.9 229.5h0.85v0.85h-0.85zM326.0 228.2h0.85v0.85h-0.85zM322.8 237.8h0.85v0.85h-0.85zM342.9 233.3h0.85v0.85h-0.85zM352.3 242.3h0.85v0.85h-0.85zM343.3 234.2h0.85v0.85h-0.85zM318.6 214.9h0.85v0.85h-0.85zM334.1 241.6h0.85v0.85h-0.85zM329.9 230.0h0.85v0.85h-0.85zM318.8 225.6h0.85v0.85h-0.85zM351.4 230.6h0.85v0.85h-0.85zM348.6 213.9h0.85v0.85h-0.85zM325.9 218.7h0.85v0.85h-0.85zM348.9 216.4h0.85v0.85h-0.85zM352.5 221.3h0.85v0.85h-0.85zM350.6 228.5h0.85v0.85h-0.85zM330.3 241.5h0.85v0.85h-0.85zM333.3 233.7h0.85v0.85h-0.85zM321.0 237.6h0.85v0.85h-0.85zM354.3 216.7h0.85v0.85h-0.85zM345.7 221.3h0.85v0.85h-0.85zM323.9 224.1h0.85v0.85h-0.85zM342.7 241.2h0.85v0.85h-0.85zM354.8 242.3h0.85v0.85h-0.85zM341.3 232.4h0.85v0.85h-0.85zM324.4 234.6h0.85v0.85h-0.85zM338.6 223.9h0.85v0.85h-0.85zM351.4 220.9h0.85v0.85h-0.85zM323.7 218.1h0.85v0.85h-0.85zM324.0 230.6h0.85v0.85h-0.85zM347.7 218.1h0.85v0.85h-0.85zM336.9 230.2h0.85v0.85h-0.85zM339.0 225.5h0.85v0.85h-0.85zM338.3 213.9h0.85v0.85h-0.85zM320.6 225.8h0.85v0.85h-0.85zM327.1 235.4h0.85v0.85h-0.85zM327.3 237.4h0.85v0.85h-0.85zM327.3 216.2h0.85v0.85h-0.85zM335.9 224.7h0.85v0.85h-0.85zM330.7 235.7h0.85v0.85h-0.85zM326.6 232.9h0.85v0.85h-0.85zM349.0 226.6h0.85v0.85h-0.85zM336.9 240.3h0.85v0.85h-0.85zM340.5 218.7h0.85v0.85h-0.85zM321.0 215.9h0.85v0.85h-0.85zM330.6 216.1h0.85v0.85h-0.85zM342.2 225.8h0.85v0.85h-0.85zM329.8 228.4h0.85v0.85h-0.85zM352.7 220.6h0.85v0.85h-0.85zM324.1 222.4h0.85v0.85h-0.85zM330.3 239.9h0.85v0.85h-0.85zM344.3 225.9h0.85v0.85h-0.85zM324.6 214.8h0.85v0.85h-0.85zM323.0 238.1h0.85v0.85h-0.85zM342.2 218.0h0.85v0.85h-0.85zM341.3 215.2h0.85v0.85h-0.85zM337.0 223.2h0.85v0.85h-0.85zM322.2 235.0h0.85v0.85h-0.85zM344.7 228.3h0.85v0.85h-0.85zM324.6 232.9h0.85v0.85h-0.85zM334.3 232.7h0.85v0.85h-0.85zM321.8 239.7h0.85v0.85h-0.85zM318.6 220.0h0.85v0.85h-0.85zM333.0 219.3h0.85v0.85h-0.85zM321.7 233.4h0.85v0.85h-0.85zM354.8 223.2h0.85v0.85h-0.85zM328.2 232.9h0.85v0.85h-0.85zM326.6 225.1h0.85v0.85h-0.85zM343.6 226.0h0.85v0.85h-0.85zM324.2 215.5h0.85v0.85h-0.85zM338.3 242.2h0.85v0.85h-0.85zM352.1 216.4h0.85v0.85h-0.85zM336.8 227.7h0.85v0.85h-0.85zM325.6 232.9h0.85v0.85h-0.85zM336.6 237.0h0.85v0.85h-0.85zM329.2 240.6h0.85v0.85h-0.85zM348.2 227.2h0.85v0.85h-0.85zM323.7 227.5h0.85v0.85h-0.85zM323.1 233.4h0.85v0.85h-0.85zM344.0 230.3h0.85v0.85h-0.85zM354.1 214.8h0.85v0.85h-0.85zM344.6 236.7h0.85v0.85h-0.85zM322.6 222.8h0.85v0.85h-0.85zM320.5 230.4h0.85v0.85h-0.85zM344.9 223.6h0.85v0.85h-0.85zM343.9 224.1h0.85v0.85h-0.85zM344.5 221.5h0.85v0.85h-0.85zM354.2 226.2h0.85v0.85h-0.85zM318.6 216.2h0.85v0.85h-0.85zM345.0 238.6h0.85v0.85h-0.85zM341.7 218.0h0.85v0.85h-0.85zM350.3 234.3h0.85v0.85h-0.85zM322.7 224.5h0.85v0.85h-0.85zM343.0 213.6h0.85v0.85h-0.85zM320.0 223.8h0.85v0.85h-0.85zM350.4 242.4h0.85v0.85h-0.85zM330.1 239.9h0.85v0.85h-0.85zM347.2 238.6h0.85v0.85h-0.85zM340.0 241.6h0.85v0.85h-0.85zM342.0 241.0h0.85v0.85h-0.85zM339.2 219.2h0.85v0.85h-0.85zM337.4 227.5h0.85v0.85h-0.85zM330.8 224.3h0.85v0.85h-0.85zM337.1 230.6h0.85v0.85h-0.85zM326.6 221.5h0.85v0.85h-0.85zM336.9 228.1h0.85v0.85h-0.85zM333.8 232.8h0.85v0.85h-0.85zM325.3 228.9h0.85v0.85h-0.85zM328.6 235.8h0.85v0.85h-0.85zM344.2 236.1h0.85v0.85h-0.85zM337.4 220.7h0.85v0.85h-0.85zM352.3 228.3h0.85v0.85h-0.85zM332.2 221.9h0.85v0.85h-0.85zM333.2 234.1h0.85v0.85h-0.85zM348.4 227.5h0.85v0.85h-0.85zM345.2 219.7h0.85v0.85h-0.85zM335.0 223.9h0.85v0.85h-0.85zM329.7 223.9h0.85v0.85h-0.85zM346.0 234.8h0.85v0.85h-0.85zM326.1 220.3h0.85v0.85h-0.85zM347.1 232.5h0.85v0.85h-0.85zM343.2 231.9h0.85v0.85h-0.85zM343.8 221.4h0.85v0.85h-0.85zM320.7 224.0h0.85v0.85h-0.85zM319.7 241.4h0.85v0.85h-0.85zM337.7 232.9h0.85v0.85h-0.85zM353.8 236.8h0.85v0.85h-0.85zM326.9 223.3h0.85v0.85h-0.85zM322.5 236.6h0.85v0.85h-0.85zM345.4 227.6h0.85v0.85h-0.85zM332.0 221.3h0.85v0.85h-0.85zM336.3 234.1h0.85v0.85h-0.85zM351.2 238.1h0.85v0.85h-0.85zM350.2 226.2h0.85v0.85h-0.85zM333.9 222.6h0.85v0.85h-0.85zM354.1 218.8h0.85v0.85h-0.85zM324.3 221.6h0.85v0.85h-0.85zM352.2 238.2h0.85v0.85h-0.85zM330.6 238.2h0.85v0.85h-0.85zM351.0 225.9h0.85v0.85h-0.85zM325.5 235.9h0.85v0.85h-0.85zM332.2 217.0h0.85v0.85h-0.85zM351.5 226.2h0.85v0.85h-0.85zM333.0 230.8h0.85v0.85h-0.85zM327.8 214.1h0.85v0.85h-0.85zM332.7 224.5h0.85v0.85h-0.85zM318.9 224.3h0.85v0.85h-0.85zM346.3 223.2h0.85v0.85h-0.85zM343.3 231.6h0.85v0.85h-0.85zM325.4 214.1h0.85v0.85h-0.85zM343.1 231.2h0.85v0.85h-0.85zM329.2 219.3h0.85v0.85h-0.85zM349.7 239.9h0.85v0.85h-0.85zM327.0 230.5h0.85v0.85h-0.85zM339.5 222.8h0.85v0.85h-0.85zM319.8 222.9h0.85v0.85h-0.85zM342.0 231.0h0.85v0.85h-0.85zM337.1 217.0h0.85v0.85h-0.85zM326.3 222.5h0.85v0.85h-0.85zM333.7 224.0h0.85v0.85h-0.85zM351.4 216.9h0.85v0.85h-0.85zM354.5 220.5h0.85v0.85h-0.85zM349.8 220.6h0.85v0.85h-0.85zM339.9 224.4h0.85v0.85h-0.85zM319.9 236.6h0.85v0.85h-0.85zM348.1 221.3h0.85v0.85h-0.85zM346.8 227.4h0.85v0.85h-0.85zM354.5 215.1h0.85v0.85h-0.85zM332.4 220.1h0.85v0.85h-0.85zM341.3 236.1h0.85v0.85h-0.85zM349.2 229.4h0.85v0.85h-0.85zM332.6 236.7h0.85v0.85h-0.85zM322.3 221.0h0.85v0.85h-0.85zM346.0 226.3h0.85v0.85h-0.85zM354.7 216.1h0.85v0.85h-0.85z" fill="#2c2ca0" fill-opacity="0.5"/>
<g filter="url(#fb)" opacity="0.5" fill="#3434b0"><ellipse cx="363" cy="214" rx="7.5" ry="26"/></g>
<path d="M359.3 214.3h0.85v0.85h-0.85zM363.8 212.1h0.85v0.85h-0.85zM365.2 219.3h0.85v0.85h-0.85zM357.7 218.9h0.85v0.85h-0.85zM360.5 233.1h0.85v0.85h-0.85zM350.7 208.0h0.85v0.85h-0.85zM364.3 226.6h0.85v0.85h-0.85zM358.1 212.5h0.85v0.85h-0.85zM363.8 204.6h0.85v0.85h-0.85zM364.7 202.8h0.85v0.85h-0.85zM359.2 228.6h0.85v0.85h-0.85zM359.0 207.6h0.85v0.85h-0.85zM370.6 229.7h0.85v0.85h-0.85zM360.7 217.0h0.85v0.85h-0.85zM359.3 197.6h0.85v0.85h-0.85zM360.3 223.0h0.85v0.85h-0.85zM364.0 201.5h0.85v0.85h-0.85zM353.3 229.4h0.85v0.85h-0.85zM359.4 222.9h0.85v0.85h-0.85zM365.1 229.6h0.85v0.85h-0.85zM359.8 198.9h0.85v0.85h-0.85zM359.6 217.7h0.85v0.85h-0.85zM363.1 197.0h0.85v0.85h-0.85zM363.9 200.2h0.85v0.85h-0.85zM361.9 208.6h0.85v0.85h-0.85zM359.5 192.9h0.85v0.85h-0.85zM357.5 212.3h0.85v0.85h-0.85zM362.8 220.2h0.85v0.85h-0.85zM358.2 195.0h0.85v0.85h-0.85zM361.7 232.1h0.85v0.85h-0.85zM365.6 226.6h0.85v0.85h-0.85zM364.3 226.7h0.85v0.85h-0.85zM360.0 228.3h0.85v0.85h-0.85zM365.1 224.0h0.85v0.85h-0.85zM360.4 207.0h0.85v0.85h-0.85zM359.8 231.7h0.85v0.85h-0.85zM356.7 206.5h0.85v0.85h-0.85zM363.0 194.1h0.85v0.85h-0.85zM362.8 226.9h0.85v0.85h-0.85zM364.5 196.1h0.85v0.85h-0.85zM362.1 198.7h0.85v0.85h-0.85zM352.0 223.8h0.85v0.85h-0.85zM364.5 193.7h0.85v0.85h-0.85zM366.3 223.9h0.85v0.85h-0.85zM371.1 218.8h0.85v0.85h-0.85zM368.4 208.1h0.85v0.85h-0.85zM361.1 238.9h0.85v0.85h-0.85zM365.3 235.6h0.85v0.85h-0.85zM361.3 211.7h0.85v0.85h-0.85zM365.3 202.4h0.85v0.85h-0.85zM364.9 193.3h0.85v0.85h-0.85zM354.2 206.3h0.85v0.85h-0.85zM364.5 240.7h0.85v0.85h-0.85zM361.5 214.7h0.85v0.85h-0.85zM361.2 216.4h0.85v0.85h-0.85zM367.0 220.6h0.85v0.85h-0.85zM363.7 217.7h0.85v0.85h-0.85zM361.1 222.9h0.85v0.85h-0.85zM369.6 197.4h0.85v0.85h-0.85zM370.3 181.1h0.85v0.85h-0.85zM355.4 221.2h0.85v0.85h-0.85zM364.4 190.9h0.85v0.85h-0.85zM362.2 218.1h0.85v0.85h-0.85zM366.5 204.0h0.85v0.85h-0.85zM355.9 193.9h0.85v0.85h-0.85zM365.8 229.0h0.85v0.85h-0.85zM355.2 217.5h0.85v0.85h-0.85zM359.5 214.5h0.85v0.85h-0.85zM365.1 208.9h0.85v0.85h-0.85zM361.8 185.6h0.85v0.85h-0.85zM362.1 233.6h0.85v0.85h-0.85zM359.7 218.1h0.85v0.85h-0.85zM358.8 224.3h0.85v0.85h-0.85zM361.1 212.0h0.85v0.85h-0.85zM362.1 188.9h0.85v0.85h-0.85zM364.7 202.8h0.85v0.85h-0.85zM362.9 224.5h0.85v0.85h-0.85zM361.3 191.6h0.85v0.85h-0.85zM357.9 221.5h0.85v0.85h-0.85zM367.1 237.8h0.85v0.85h-0.85zM357.3 214.9h0.85v0.85h-0.85zM362.6 203.0h0.85v0.85h-0.85zM361.4 199.1h0.85v0.85h-0.85zM362.7 206.2h0.85v0.85h-0.85zM361.1 231.6h0.85v0.85h-0.85zM358.1 213.5h0.85v0.85h-0.85zM359.5 207.3h0.85v0.85h-0.85zM361.8 212.3h0.85v0.85h-0.85zM362.9 201.8h0.85v0.85h-0.85zM364.5 196.5h0.85v0.85h-0.85zM357.5 200.3h0.85v0.85h-0.85zM366.9 229.2h0.85v0.85h-0.85zM359.9 238.9h0.85v0.85h-0.85zM363.4 191.5h0.85v0.85h-0.85zM363.7 198.2h0.85v0.85h-0.85zM357.4 181.3h0.85v0.85h-0.85zM362.7 218.0h0.85v0.85h-0.85zM357.9 220.8h0.85v0.85h-0.85zM363.7 220.0h0.85v0.85h-0.85zM364.7 201.7h0.85v0.85h-0.85zM363.5 219.2h0.85v0.85h-0.85zM359.7 207.7h0.85v0.85h-0.85zM357.1 214.7h0.85v0.85h-0.85zM357.6 218.1h0.85v0.85h-0.85zM362.4 209.8h0.85v0.85h-0.85zM364.4 208.0h0.85v0.85h-0.85zM368.6 217.7h0.85v0.85h-0.85zM357.5 204.6h0.85v0.85h-0.85zM363.4 235.9h0.85v0.85h-0.85zM359.8 233.2h0.85v0.85h-0.85zM362.7 230.1h0.85v0.85h-0.85zM359.7 201.2h0.85v0.85h-0.85zM360.5 212.6h0.85v0.85h-0.85zM358.2 195.2h0.85v0.85h-0.85zM364.9 226.5h0.85v0.85h-0.85zM361.8 205.6h0.85v0.85h-0.85zM366.3 188.0h0.85v0.85h-0.85zM364.9 215.3h0.85v0.85h-0.85zM364.6 217.4h0.85v0.85h-0.85zM366.0 220.4h0.85v0.85h-0.85zM362.0 223.8h0.85v0.85h-0.85zM358.3 215.2h0.85v0.85h-0.85zM363.5 190.2h0.85v0.85h-0.85zM364.1 218.5h0.85v0.85h-0.85zM365.6 212.6h0.85v0.85h-0.85zM366.8 225.6h0.85v0.85h-0.85zM364.5 166.5h0.85v0.85h-0.85zM362.3 215.7h0.85v0.85h-0.85zM362.2 197.6h0.85v0.85h-0.85zM365.6 206.1h0.85v0.85h-0.85zM361.4 217.0h0.85v0.85h-0.85zM366.5 206.6h0.85v0.85h-0.85zM358.0 217.5h0.85v0.85h-0.85zM362.9 185.8h0.85v0.85h-0.85zM359.5 213.3h0.85v0.85h-0.85zM355.0 228.4h0.85v0.85h-0.85zM357.1 223.3h0.85v0.85h-0.85zM357.9 206.3h0.85v0.85h-0.85zM359.3 207.2h0.85v0.85h-0.85zM354.5 202.1h0.85v0.85h-0.85zM365.4 218.5h0.85v0.85h-0.85zM370.1 185.6h0.85v0.85h-0.85zM367.6 213.6h0.85v0.85h-0.85zM356.8 192.1h0.85v0.85h-0.85zM359.9 213.4h0.85v0.85h-0.85zM360.0 233.0h0.85v0.85h-0.85zM361.6 202.6h0.85v0.85h-0.85zM358.3 196.0h0.85v0.85h-0.85zM361.5 209.5h0.85v0.85h-0.85zM358.7 216.5h0.85v0.85h-0.85zM359.0 204.7h0.85v0.85h-0.85zM366.1 227.0h0.85v0.85h-0.85zM360.4 236.1h0.85v0.85h-0.85zM360.3 228.5h0.85v0.85h-0.85zM362.7 205.5h0.85v0.85h-0.85zM361.8 206.8h0.85v0.85h-0.85zM362.8 210.8h0.85v0.85h-0.85zM361.4 198.8h0.85v0.85h-0.85zM363.7 224.7h0.85v0.85h-0.85zM357.9 211.9h0.85v0.85h-0.85zM365.5 223.8h0.85v0.85h-0.85zM358.8 222.0h0.85v0.85h-0.85zM359.5 230.2h0.85v0.85h-0.85zM364.0 199.8h0.85v0.85h-0.85zM362.1 200.7h0.85v0.85h-0.85zM362.9 214.6h0.85v0.85h-0.85zM354.3 221.0h0.85v0.85h-0.85zM363.3 226.4h0.85v0.85h-0.85zM362.3 200.8h0.85v0.85h-0.85zM364.8 225.9h0.85v0.85h-0.85zM353.6 226.9h0.85v0.85h-0.85zM364.4 205.8h0.85v0.85h-0.85zM358.1 206.6h0.85v0.85h-0.85zM366.2 215.2h0.85v0.85h-0.85zM364.9 206.0h0.85v0.85h-0.85zM356.6 200.6h0.85v0.85h-0.85zM370.4 224.3h0.85v0.85h-0.85zM364.6 219.5h0.85v0.85h-0.85zM361.8 209.3h0.85v0.85h-0.85zM360.5 217.1h0.85v0.85h-0.85zM361.3 212.4h0.85v0.85h-0.85zM363.7 220.1h0.85v0.85h-0.85zM363.5 215.0h0.85v0.85h-0.85zM363.7 227.9h0.85v0.85h-0.85zM366.8 231.7h0.85v0.85h-0.85zM359.4 217.3h0.85v0.85h-0.85zM362.4 238.7h0.85v0.85h-0.85zM368.3 218.7h0.85v0.85h-0.85zM369.9 231.4h0.85v0.85h-0.85zM357.5 222.3h0.85v0.85h-0.85zM363.2 207.1h0.85v0.85h-0.85zM367.7 220.4h0.85v0.85h-0.85zM356.6 200.3h0.85v0.85h-0.85zM361.2 228.2h0.85v0.85h-0.85zM363.7 225.8h0.85v0.85h-0.85zM361.0 230.2h0.85v0.85h-0.85zM361.0 222.7h0.85v0.85h-0.85zM360.9 207.4h0.85v0.85h-0.85zM363.5 196.5h0.85v0.85h-0.85zM362.3 218.9h0.85v0.85h-0.85zM357.3 211.1h0.85v0.85h-0.85zM361.3 198.7h0.85v0.85h-0.85zM354.8 227.5h0.85v0.85h-0.85zM371.5 185.4h0.85v0.85h-0.85zM364.9 208.2h0.85v0.85h-0.85zM364.2 194.3h0.85v0.85h-0.85zM357.6 191.6h0.85v0.85h-0.85zM360.5 210.0h0.85v0.85h-0.85zM363.6 205.4h0.85v0.85h-0.85zM361.7 231.3h0.85v0.85h-0.85zM363.5 226.6h0.85v0.85h-0.85zM361.6 205.9h0.85v0.85h-0.85zM361.0 206.4h0.85v0.85h-0.85zM356.3 215.1h0.85v0.85h-0.85zM361.5 208.2h0.85v0.85h-0.85zM358.7 221.3h0.85v0.85h-0.85zM357.6 227.3h0.85v0.85h-0.85zM361.7 191.7h0.85v0.85h-0.85zM357.8 222.5h0.85v0.85h-0.85zM359.4 211.1h0.85v0.85h-0.85zM371.8 200.7h0.85v0.85h-0.85zM364.1 168.8h0.85v0.85h-0.85zM354.5 217.7h0.85v0.85h-0.85zM362.4 235.0h0.85v0.85h-0.85zM359.9 179.7h0.85v0.85h-0.85zM366.1 187.1h0.85v0.85h-0.85zM361.2 236.5h0.85v0.85h-0.85zM358.6 213.9h0.85v0.85h-0.85zM357.1 230.4h0.85v0.85h-0.85zM366.2 189.4h0.85v0.85h-0.85zM360.8 204.5h0.85v0.85h-0.85zM364.9 227.0h0.85v0.85h-0.85zM362.9 224.3h0.85v0.85h-0.85zM363.9 216.9h0.85v0.85h-0.85zM361.4 202.3h0.85v0.85h-0.85zM364.1 201.8h0.85v0.85h-0.85zM364.0 202.3h0.85v0.85h-0.85zM361.6 225.9h0.85v0.85h-0.85zM366.3 213.1h0.85v0.85h-0.85zM361.5 213.5h0.85v0.85h-0.85zM364.5 201.6h0.85v0.85h-0.85zM372.2 212.1h0.85v0.85h-0.85zM362.4 222.6h0.85v0.85h-0.85zM363.8 213.0h0.85v0.85h-0.85zM360.7 194.1h0.85v0.85h-0.85zM359.0 211.7h0.85v0.85h-0.85zM363.6 207.3h0.85v0.85h-0.85zM362.5 209.6h0.85v0.85h-0.85zM360.2 187.3h0.85v0.85h-0.85zM360.3 195.3h0.85v0.85h-0.85zM362.9 204.5h0.85v0.85h-0.85zM359.0 209.3h0.85v0.85h-0.85zM359.9 217.4h0.85v0.85h-0.85zM360.6 194.4h0.85v0.85h-0.85zM363.0 192.6h0.85v0.85h-0.85zM354.7 193.5h0.85v0.85h-0.85zM364.0 195.3h0.85v0.85h-0.85zM357.8 240.5h0.85v0.85h-0.85zM360.7 216.7h0.85v0.85h-0.85zM358.9 231.0h0.85v0.85h-0.85zM367.2 203.6h0.85v0.85h-0.85zM357.1 183.9h0.85v0.85h-0.85zM362.8 197.0h0.85v0.85h-0.85zM355.4 217.6h0.85v0.85h-0.85zM361.2 218.2h0.85v0.85h-0.85zM356.7 194.6h0.85v0.85h-0.85zM362.1 233.2h0.85v0.85h-0.85zM363.6 207.4h0.85v0.85h-0.85zM365.1 224.3h0.85v0.85h-0.85zM366.3 211.7h0.85v0.85h-0.85zM363.5 192.9h0.85v0.85h-0.85zM362.7 217.0h0.85v0.85h-0.85zM361.3 212.8h0.85v0.85h-0.85zM357.9 213.7h0.85v0.85h-0.85zM366.0 207.9h0.85v0.85h-0.85zM366.1 192.3h0.85v0.85h-0.85zM359.5 206.7h0.85v0.85h-0.85zM360.4 227.3h0.85v0.85h-0.85zM357.4 224.4h0.85v0.85h-0.85zM358.5 211.6h0.85v0.85h-0.85zM351.5 182.7h0.85v0.85h-0.85zM363.1 224.1h0.85v0.85h-0.85zM363.8 212.5h0.85v0.85h-0.85zM365.9 217.0h0.85v0.85h-0.85zM365.2 193.5h0.85v0.85h-0.85zM369.4 206.4h0.85v0.85h-0.85zM357.5 202.5h0.85v0.85h-0.85zM365.9 213.1h0.85v0.85h-0.85zM361.6 231.4h0.85v0.85h-0.85zM366.6 219.0h0.85v0.85h-0.85zM358.7 223.5h0.85v0.85h-0.85zM360.5 215.7h0.85v0.85h-0.85zM361.2 187.0h0.85v0.85h-0.85zM360.4 208.0h0.85v0.85h-0.85zM355.4 195.5h0.85v0.85h-0.85zM368.7 210.0h0.85v0.85h-0.85zM369.9 220.2h0.85v0.85h-0.85zM360.4 202.3h0.85v0.85h-0.85zM368.6 199.4h0.85v0.85h-0.85zM364.4 205.5h0.85v0.85h-0.85zM358.5 205.6h0.85v0.85h-0.85zM360.1 234.7h0.85v0.85h-0.85zM359.3 203.6h0.85v0.85h-0.85zM353.1 203.4h0.85v0.85h-0.85zM353.9 199.4h0.85v0.85h-0.85zM350.6 194.4h0.85v0.85h-0.85zM366.4 214.8h0.85v0.85h-0.85zM355.9 204.7h0.85v0.85h-0.85zM367.5 208.2h0.85v0.85h-0.85zM356.4 214.7h0.85v0.85h-0.85zM355.9 207.4h0.85v0.85h-0.85zM362.6 211.2h0.85v0.85h-0.85zM358.5 237.9h0.85v0.85h-0.85zM368.6 221.1h0.85v0.85h-0.85zM367.7 215.9h0.85v0.85h-0.85zM362.9 202.2h0.85v0.85h-0.85zM359.9 218.8h0.85v0.85h-0.85zM360.6 195.5h0.85v0.85h-0.85zM359.2 204.3h0.85v0.85h-0.85zM353.5 194.0h0.85v0.85h-0.85z" fill="#2c2ca0" fill-opacity="0.8"/>
<path d="M364.4 172.6h0.85v0.85h-0.85zM363.1 201.6h0.85v0.85h-0.85zM360.8 196.9h0.85v0.85h-0.85zM363.7 187.3h0.85v0.85h-0.85zM357.8 187.0h0.85v0.85h-0.85zM363.6 191.4h0.85v0.85h-0.85zM362.5 201.2h0.85v0.85h-0.85zM364.8 190.1h0.85v0.85h-0.85zM364.7 185.2h0.85v0.85h-0.85zM356.0 186.6h0.85v0.85h-0.85zM365.6 194.8h0.85v0.85h-0.85zM364.0 195.6h0.85v0.85h-0.85zM361.4 203.7h0.85v0.85h-0.85zM361.6 190.0h0.85v0.85h-0.85zM364.2 183.0h0.85v0.85h-0.85zM366.7 203.6h0.85v0.85h-0.85zM364.0 187.0h0.85v0.85h-0.85zM368.4 186.6h0.85v0.85h-0.85zM363.0 192.4h0.85v0.85h-0.85zM367.0 180.9h0.85v0.85h-0.85zM367.5 199.9h0.85v0.85h-0.85zM363.7 180.8h0.85v0.85h-0.85zM367.6 171.9h0.85v0.85h-0.85zM360.2 205.4h0.85v0.85h-0.85zM365.4 188.7h0.85v0.85h-0.85zM361.0 180.9h0.85v0.85h-0.85zM365.4 183.6h0.85v0.85h-0.85zM362.6 198.0h0.85v0.85h-0.85zM361.3 190.9h0.85v0.85h-0.85zM367.3 179.0h0.85v0.85h-0.85zM363.2 204.4h0.85v0.85h-0.85zM362.2 188.4h0.85v0.85h-0.85zM364.0 178.6h0.85v0.85h-0.85zM362.5 195.4h0.85v0.85h-0.85zM361.9 205.5h0.85v0.85h-0.85zM357.2 195.1h0.85v0.85h-0.85zM363.8 195.2h0.85v0.85h-0.85zM359.2 205.4h0.85v0.85h-0.85zM363.7 194.7h0.85v0.85h-0.85zM363.0 188.5h0.85v0.85h-0.85zM362.3 189.1h0.85v0.85h-0.85zM363.1 203.8h0.85v0.85h-0.85zM365.3 186.1h0.85v0.85h-0.85zM362.2 192.6h0.85v0.85h-0.85zM361.7 197.0h0.85v0.85h-0.85zM364.2 179.7h0.85v0.85h-0.85zM363.8 182.4h0.85v0.85h-0.85zM362.5 188.0h0.85v0.85h-0.85zM361.0 196.4h0.85v0.85h-0.85zM361.9 204.8h0.85v0.85h-0.85zM363.6 198.9h0.85v0.85h-0.85zM361.7 207.7h0.85v0.85h-0.85zM360.6 185.0h0.85v0.85h-0.85zM357.7 204.4h0.85v0.85h-0.85zM366.2 188.8h0.85v0.85h-0.85zM357.2 185.5h0.85v0.85h-0.85zM362.9 198.2h0.85v0.85h-0.85zM366.0 197.7h0.85v0.85h-0.85zM363.2 187.4h0.85v0.85h-0.85zM354.1 202.1h0.85v0.85h-0.85zM359.9 192.9h0.85v0.85h-0.85zM366.6 177.7h0.85v0.85h-0.85zM361.8 194.9h0.85v0.85h-0.85zM359.6 182.1h0.85v0.85h-0.85zM367.2 186.5h0.85v0.85h-0.85zM361.6 201.0h0.85v0.85h-0.85zM362.2 200.5h0.85v0.85h-0.85zM356.1 195.5h0.85v0.85h-0.85zM369.1 181.8h0.85v0.85h-0.85zM354.8 194.8h0.85v0.85h-0.85zM367.6 205.8h0.85v0.85h-0.85zM358.9 179.5h0.85v0.85h-0.85zM354.6 204.7h0.85v0.85h-0.85zM369.1 194.4h0.85v0.85h-0.85zM364.3 185.0h0.85v0.85h-0.85zM364.1 187.1h0.85v0.85h-0.85zM363.1 183.0h0.85v0.85h-0.85zM361.2 194.8h0.85v0.85h-0.85zM364.6 179.7h0.85v0.85h-0.85zM370.5 203.7h0.85v0.85h-0.85zM363.6 199.6h0.85v0.85h-0.85zM359.4 197.4h0.85v0.85h-0.85zM368.9 179.7h0.85v0.85h-0.85zM361.0 186.3h0.85v0.85h-0.85zM363.9 193.9h0.85v0.85h-0.85zM358.8 190.7h0.85v0.85h-0.85zM354.4 199.4h0.85v0.85h-0.85zM360.5 195.8h0.85v0.85h-0.85zM361.3 194.4h0.85v0.85h-0.85zM367.0 188.0h0.85v0.85h-0.85zM359.8 189.8h0.85v0.85h-0.85zM363.0 199.0h0.85v0.85h-0.85zM359.5 192.4h0.85v0.85h-0.85zM367.1 190.7h0.85v0.85h-0.85zM363.3 194.6h0.85v0.85h-0.85zM364.6 198.2h0.85v0.85h-0.85zM364.4 175.6h0.85v0.85h-0.85zM363.5 205.9h0.85v0.85h-0.85zM359.3 195.6h0.85v0.85h-0.85zM362.1 191.5h0.85v0.85h-0.85zM367.3 196.8h0.85v0.85h-0.85zM361.8 184.7h0.85v0.85h-0.85zM368.2 184.8h0.85v0.85h-0.85zM362.6 194.8h0.85v0.85h-0.85zM358.6 188.2h0.85v0.85h-0.85zM363.2 194.4h0.85v0.85h-0.85zM362.2 192.2h0.85v0.85h-0.85zM362.6 180.8h0.85v0.85h-0.85zM362.4 200.5h0.85v0.85h-0.85zM363.2 197.1h0.85v0.85h-0.85zM365.5 205.4h0.85v0.85h-0.85zM358.1 195.7h0.85v0.85h-0.85zM359.7 203.9h0.85v0.85h-0.85zM359.2 185.4h0.85v0.85h-0.85zM359.8 198.4h0.85v0.85h-0.85zM366.1 212.1h0.85v0.85h-0.85zM361.1 183.3h0.85v0.85h-0.85zM362.1 189.2h0.85v0.85h-0.85zM361.8 197.0h0.85v0.85h-0.85zM363.3 190.9h0.85v0.85h-0.85zM356.9 197.5h0.85v0.85h-0.85zM364.0 179.5h0.85v0.85h-0.85zM362.3 197.5h0.85v0.85h-0.85zM362.2 185.5h0.85v0.85h-0.85zM362.5 184.7h0.85v0.85h-0.85zM363.3 181.6h0.85v0.85h-0.85zM366.7 170.6h0.85v0.85h-0.85zM356.2 208.2h0.85v0.85h-0.85zM369.5 193.0h0.85v0.85h-0.85zM366.9 193.9h0.85v0.85h-0.85zM358.8 200.9h0.85v0.85h-0.85zM362.1 197.0h0.85v0.85h-0.85zM363.9 182.1h0.85v0.85h-0.85zM363.1 182.7h0.85v0.85h-0.85zM368.4 195.1h0.85v0.85h-0.85zM363.7 200.9h0.85v0.85h-0.85zM365.5 192.0h0.85v0.85h-0.85zM360.2 180.3h0.85v0.85h-0.85zM360.7 185.5h0.85v0.85h-0.85zM362.5 180.2h0.85v0.85h-0.85z" fill="#2c2ca0" fill-opacity="0.55"/>
<g filter="url(#fb)"><g transform="rotate(0 344.5 201)">
<path d="M317.5,201 C329.65,191.5 338.5,191 344.5,191 A10,10 0 0 1 344.5,211 C338.5,211 329.65,210.5 317.5,201Z" fill="#2a2a9a" transform="translate(343 201.5) scale(1) translate(-343 -201.5)"/>
<path d="M317.5,201 C329.65,191.5 338.5,191 344.5,191 A10,10 0 0 1 344.5,211 C338.5,211 329.65,210.5 317.5,201Z" fill="#2f4fd0" transform="translate(343 201.5) scale(0.9) translate(-343 -201.5)"/>
<path d="M317.5,201 C329.65,191.5 338.5,191 344.5,191 A10,10 0 0 1 344.5,211 C338.5,211 329.65,210.5 317.5,201Z" fill="#3aa0e8" transform="translate(343 201.5) scale(0.78) translate(-343 -201.5)"/>
<path d="M317.5,201 C329.65,191.5 338.5,191 344.5,191 A10,10 0 0 1 344.5,211 C338.5,211 329.65,210.5 317.5,201Z" fill="#3ec8b0" transform="translate(343 201.5) scale(0.64) translate(-343 -201.5)"/>
<path d="M317.5,201 C329.65,191.5 338.5,191 344.5,191 A10,10 0 0 1 344.5,211 C338.5,211 329.65,210.5 317.5,201Z" fill="#7ad040" transform="translate(343 201.5) scale(0.5) translate(-343 -201.5)"/>
<path d="M317.5,201 C329.65,191.5 338.5,191 344.5,191 A10,10 0 0 1 344.5,211 C338.5,211 329.65,210.5 317.5,201Z" fill="#e8e020" transform="translate(343 201.5) scale(0.33) translate(-343 -201.5)"/>
</g></g>
<g filter="url(#fb)"><g transform="rotate(-90 362 211)">
<path d="M331,211 C344.95,204.35 357.8,204 362,204 A7,7 0 0 1 362,218 C357.8,218 344.95,217.65 331,211Z" fill="#2a2a9a" transform="translate(362 210.5) scale(1) translate(-362 -210.5)"/>
<path d="M331,211 C344.95,204.35 357.8,204 362,204 A7,7 0 0 1 362,218 C357.8,218 344.95,217.65 331,211Z" fill="#2f4fd0" transform="translate(362 210.5) scale(0.86) translate(-362 -210.5)"/>
<path d="M331,211 C344.95,204.35 357.8,204 362,204 A7,7 0 0 1 362,218 C357.8,218 344.95,217.65 331,211Z" fill="#3aa0e8" transform="translate(362 210.5) scale(0.72) translate(-362 -210.5)"/>
<path d="M331,211 C344.95,204.35 357.8,204 362,204 A7,7 0 0 1 362,218 C357.8,218 344.95,217.65 331,211Z" fill="#3ec8b0" transform="translate(362 210.5) scale(0.6) translate(-362 -210.5)"/>
<path d="M331,211 C344.95,204.35 357.8,204 362,204 A7,7 0 0 1 362,218 C357.8,218 344.95,217.65 331,211Z" fill="#7ad040" transform="translate(362 210.5) scale(0.48) translate(-362 -210.5)"/>
<path d="M331,211 C344.95,204.35 357.8,204 362,204 A7,7 0 0 1 362,218 C357.8,218 344.95,217.65 331,211Z" fill="#e8e020" transform="translate(362 210.5) scale(0.36) translate(-362 -210.5)"/>
<path d="M331,211 C344.95,204.35 357.8,204 362,204 A7,7 0 0 1 362,218 C357.8,218 344.95,217.65 331,211Z" fill="#f08a18" transform="translate(362 210.5) scale(0.25) translate(-362 -210.5)"/>
<path d="M331,211 C344.95,204.35 357.8,204 362,204 A7,7 0 0 1 362,218 C357.8,218 344.95,217.65 331,211Z" fill="#e02414" transform="translate(362 210.5) scale(0.14) translate(-362 -210.5)"/>
</g></g>
</g>
<rect x="318.5" y="183.7" width="35.89999999999998" height="29.600000000000023" fill="none" stroke="#1a1a1a" stroke-width="1.1"/>
<rect x="355" y="203.2" width="18" height="39.5" fill="none" stroke="#1a1a1a" stroke-width="1.1"/>
<text x="335.4" y="179.9" font-size="7.5" text-anchor="middle" fill="#222">42.6</text>
<text x="375.6" y="225" font-size="7.5" text-anchor="start" fill="#222">54.2</text>
<rect x="200.3" y="250.6" width="93.09999999999997" height="92.4" fill="#fff" stroke="#8a8a8a" stroke-width="0.8"/>
<g clip-path="url(#fc3)">
<g filter="url(#fb)" opacity="0.22" fill="#3434b0"><rect x="202" y="296" width="24" height="16"/></g>
<path d="M206.9 299.0h0.85v0.85h-0.85zM216.3 304.4h0.85v0.85h-0.85zM206.7 292.7h0.85v0.85h-0.85zM210.2 286.7h0.85v0.85h-0.85zM210.4 304.4h0.85v0.85h-0.85zM215.9 288.8h0.85v0.85h-0.85zM219.6 287.3h0.85v0.85h-0.85zM220.0 288.1h0.85v0.85h-0.85zM204.3 291.0h0.85v0.85h-0.85zM214.4 291.6h0.85v0.85h-0.85zM223.2 310.3h0.85v0.85h-0.85zM208.8 305.0h0.85v0.85h-0.85zM218.7 299.7h0.85v0.85h-0.85zM208.1 310.6h0.85v0.85h-0.85zM225.0 284.4h0.85v0.85h-0.85zM209.9 293.0h0.85v0.85h-0.85zM206.8 296.0h0.85v0.85h-0.85zM223.6 284.7h0.85v0.85h-0.85zM222.1 292.7h0.85v0.85h-0.85zM202.3 309.2h0.85v0.85h-0.85zM208.5 289.9h0.85v0.85h-0.85zM204.8 294.3h0.85v0.85h-0.85zM204.9 289.0h0.85v0.85h-0.85zM208.0 300.2h0.85v0.85h-0.85zM212.7 292.5h0.85v0.85h-0.85zM214.6 305.7h0.85v0.85h-0.85zM219.4 293.6h0.85v0.85h-0.85zM224.0 306.2h0.85v0.85h-0.85zM215.5 297.3h0.85v0.85h-0.85zM209.9 287.8h0.85v0.85h-0.85zM223.3 301.0h0.85v0.85h-0.85zM204.4 309.9h0.85v0.85h-0.85zM223.3 284.9h0.85v0.85h-0.85zM218.8 290.7h0.85v0.85h-0.85zM214.9 307.4h0.85v0.85h-0.85zM210.4 298.0h0.85v0.85h-0.85zM218.0 289.4h0.85v0.85h-0.85zM217.0 295.9h0.85v0.85h-0.85zM225.6 289.3h0.85v0.85h-0.85zM219.1 285.2h0.85v0.85h-0.85zM208.6 287.3h0.85v0.85h-0.85zM205.6 298.8h0.85v0.85h-0.85zM206.2 306.3h0.85v0.85h-0.85zM204.3 301.4h0.85v0.85h-0.85zM222.7 287.5h0.85v0.85h-0.85zM207.2 305.4h0.85v0.85h-0.85zM213.3 310.1h0.85v0.85h-0.85zM210.1 295.1h0.85v0.85h-0.85zM225.0 293.6h0.85v0.85h-0.85zM225.2 308.9h0.85v0.85h-0.85zM206.8 299.3h0.85v0.85h-0.85zM224.6 287.3h0.85v0.85h-0.85zM222.4 305.7h0.85v0.85h-0.85zM220.0 300.8h0.85v0.85h-0.85zM204.4 310.8h0.85v0.85h-0.85zM204.5 305.9h0.85v0.85h-0.85zM219.4 292.9h0.85v0.85h-0.85zM218.4 295.5h0.85v0.85h-0.85zM220.0 285.2h0.85v0.85h-0.85zM224.4 294.8h0.85v0.85h-0.85zM221.3 297.2h0.85v0.85h-0.85zM221.5 292.4h0.85v0.85h-0.85zM215.1 284.7h0.85v0.85h-0.85zM213.7 286.2h0.85v0.85h-0.85zM222.6 303.0h0.85v0.85h-0.85zM212.2 311.3h0.85v0.85h-0.85zM224.7 310.8h0.85v0.85h-0.85zM204.0 303.7h0.85v0.85h-0.85zM219.5 301.0h0.85v0.85h-0.85zM202.4 309.9h0.85v0.85h-0.85zM212.5 300.7h0.85v0.85h-0.85zM221.6 291.7h0.85v0.85h-0.85zM202.7 309.9h0.85v0.85h-0.85zM208.5 285.2h0.85v0.85h-0.85zM205.3 311.9h0.85v0.85h-0.85zM219.8 289.9h0.85v0.85h-0.85zM205.5 309.1h0.85v0.85h-0.85zM218.0 300.3h0.85v0.85h-0.85zM205.1 295.6h0.85v0.85h-0.85zM224.7 284.1h0.85v0.85h-0.85zM212.1 285.6h0.85v0.85h-0.85zM225.9 286.9h0.85v0.85h-0.85zM224.9 307.6h0.85v0.85h-0.85zM219.6 285.2h0.85v0.85h-0.85zM218.7 297.8h0.85v0.85h-0.85zM213.8 288.1h0.85v0.85h-0.85zM214.3 306.5h0.85v0.85h-0.85zM205.2 308.5h0.85v0.85h-0.85zM212.1 291.5h0.85v0.85h-0.85zM207.7 296.9h0.85v0.85h-0.85zM217.5 300.0h0.85v0.85h-0.85zM223.4 298.3h0.85v0.85h-0.85zM214.3 311.7h0.85v0.85h-0.85zM207.2 284.5h0.85v0.85h-0.85zM209.9 292.8h0.85v0.85h-0.85zM205.0 295.7h0.85v0.85h-0.85zM202.8 309.8h0.85v0.85h-0.85zM213.6 308.6h0.85v0.85h-0.85zM218.7 304.4h0.85v0.85h-0.85zM220.2 292.4h0.85v0.85h-0.85zM219.5 289.8h0.85v0.85h-0.85zM215.3 300.7h0.85v0.85h-0.85zM220.6 288.7h0.85v0.85h-0.85zM210.3 307.1h0.85v0.85h-0.85zM221.3 311.4h0.85v0.85h-0.85zM204.8 289.9h0.85v0.85h-0.85zM204.6 304.3h0.85v0.85h-0.85zM219.9 302.1h0.85v0.85h-0.85zM220.7 298.4h0.85v0.85h-0.85zM215.5 309.8h0.85v0.85h-0.85zM217.6 302.4h0.85v0.85h-0.85zM216.1 297.8h0.85v0.85h-0.85zM220.2 300.0h0.85v0.85h-0.85zM205.1 295.9h0.85v0.85h-0.85zM212.1 296.1h0.85v0.85h-0.85zM215.5 294.1h0.85v0.85h-0.85zM211.4 296.0h0.85v0.85h-0.85zM210.9 311.2h0.85v0.85h-0.85zM204.2 284.5h0.85v0.85h-0.85zM219.3 295.1h0.85v0.85h-0.85z" fill="#2c2ca0" fill-opacity="0.45"/>
<path d="M202.6 308.7h0.85v0.85h-0.85zM209.5 309.2h0.85v0.85h-0.85zM232.2 307.8h0.85v0.85h-0.85zM220.9 305.8h0.85v0.85h-0.85zM206.2 307.8h0.85v0.85h-0.85zM231.8 310.0h0.85v0.85h-0.85zM217.5 304.5h0.85v0.85h-0.85zM213.6 313.2h0.85v0.85h-0.85zM216.9 302.7h0.85v0.85h-0.85zM209.0 308.9h0.85v0.85h-0.85zM219.4 299.4h0.85v0.85h-0.85zM216.8 305.5h0.85v0.85h-0.85zM211.8 302.7h0.85v0.85h-0.85zM215.9 308.1h0.85v0.85h-0.85zM213.6 305.5h0.85v0.85h-0.85zM218.8 301.5h0.85v0.85h-0.85zM225.4 304.7h0.85v0.85h-0.85zM223.7 310.1h0.85v0.85h-0.85zM208.0 308.4h0.85v0.85h-0.85zM227.1 304.2h0.85v0.85h-0.85zM218.7 309.0h0.85v0.85h-0.85zM207.5 311.4h0.85v0.85h-0.85zM209.6 310.8h0.85v0.85h-0.85zM216.2 304.7h0.85v0.85h-0.85zM212.5 303.5h0.85v0.85h-0.85zM234.8 303.6h0.85v0.85h-0.85zM208.3 311.8h0.85v0.85h-0.85zM221.1 309.6h0.85v0.85h-0.85zM204.8 303.0h0.85v0.85h-0.85zM212.7 307.9h0.85v0.85h-0.85zM222.2 310.6h0.85v0.85h-0.85zM217.7 310.0h0.85v0.85h-0.85zM207.1 306.7h0.85v0.85h-0.85zM207.8 305.3h0.85v0.85h-0.85zM215.1 304.7h0.85v0.85h-0.85zM213.3 311.3h0.85v0.85h-0.85zM218.5 305.7h0.85v0.85h-0.85zM215.7 309.0h0.85v0.85h-0.85zM215.8 310.5h0.85v0.85h-0.85zM202.0 311.1h0.85v0.85h-0.85zM205.6 309.6h0.85v0.85h-0.85zM201.6 311.2h0.85v0.85h-0.85zM221.8 304.6h0.85v0.85h-0.85zM220.0 305.6h0.85v0.85h-0.85zM224.9 306.3h0.85v0.85h-0.85zM210.3 303.4h0.85v0.85h-0.85zM213.3 309.1h0.85v0.85h-0.85zM220.4 304.5h0.85v0.85h-0.85zM210.8 302.8h0.85v0.85h-0.85zM208.0 306.5h0.85v0.85h-0.85zM217.6 310.2h0.85v0.85h-0.85zM209.3 302.4h0.85v0.85h-0.85zM228.2 307.1h0.85v0.85h-0.85zM210.9 307.6h0.85v0.85h-0.85zM213.6 309.8h0.85v0.85h-0.85zM219.0 302.5h0.85v0.85h-0.85zM210.8 309.7h0.85v0.85h-0.85zM212.1 310.1h0.85v0.85h-0.85zM204.9 312.8h0.85v0.85h-0.85zM217.3 301.0h0.85v0.85h-0.85zM223.8 303.1h0.85v0.85h-0.85zM216.1 307.8h0.85v0.85h-0.85zM217.6 309.7h0.85v0.85h-0.85zM205.8 304.8h0.85v0.85h-0.85zM215.3 318.3h0.85v0.85h-0.85zM214.2 303.3h0.85v0.85h-0.85zM238.4 310.2h0.85v0.85h-0.85zM213.3 314.8h0.85v0.85h-0.85zM223.7 310.9h0.85v0.85h-0.85zM202.3 313.6h0.85v0.85h-0.85zM212.8 308.8h0.85v0.85h-0.85zM219.1 313.9h0.85v0.85h-0.85zM226.8 306.2h0.85v0.85h-0.85zM211.0 304.0h0.85v0.85h-0.85zM213.5 308.7h0.85v0.85h-0.85zM216.7 306.9h0.85v0.85h-0.85zM207.6 304.6h0.85v0.85h-0.85zM217.7 310.9h0.85v0.85h-0.85zM220.2 305.7h0.85v0.85h-0.85zM220.5 311.8h0.85v0.85h-0.85zM208.1 303.0h0.85v0.85h-0.85zM221.8 314.4h0.85v0.85h-0.85zM218.3 308.6h0.85v0.85h-0.85zM214.6 311.8h0.85v0.85h-0.85zM202.7 307.8h0.85v0.85h-0.85zM211.3 298.6h0.85v0.85h-0.85zM211.4 307.2h0.85v0.85h-0.85zM214.8 306.3h0.85v0.85h-0.85zM211.9 309.0h0.85v0.85h-0.85zM201.4 302.8h0.85v0.85h-0.85zM219.2 309.4h0.85v0.85h-0.85zM222.2 302.1h0.85v0.85h-0.85zM224.6 310.8h0.85v0.85h-0.85zM216.5 303.1h0.85v0.85h-0.85zM221.4 311.9h0.85v0.85h-0.85zM212.0 308.9h0.85v0.85h-0.85zM218.7 310.5h0.85v0.85h-0.85zM220.2 309.8h0.85v0.85h-0.85zM203.2 305.4h0.85v0.85h-0.85zM200.7 311.1h0.85v0.85h-0.85zM220.9 308.9h0.85v0.85h-0.85zM230.4 303.7h0.85v0.85h-0.85zM227.5 303.7h0.85v0.85h-0.85zM210.0 306.1h0.85v0.85h-0.85zM213.9 308.8h0.85v0.85h-0.85zM219.6 304.5h0.85v0.85h-0.85zM204.6 309.7h0.85v0.85h-0.85zM225.3 310.7h0.85v0.85h-0.85zM218.5 300.2h0.85v0.85h-0.85zM219.8 304.6h0.85v0.85h-0.85zM223.3 312.4h0.85v0.85h-0.85zM211.0 303.4h0.85v0.85h-0.85zM211.1 308.9h0.85v0.85h-0.85zM218.9 303.1h0.85v0.85h-0.85zM217.1 303.6h0.85v0.85h-0.85zM209.3 311.3h0.85v0.85h-0.85zM213.5 298.7h0.85v0.85h-0.85zM205.6 311.9h0.85v0.85h-0.85zM214.7 301.9h0.85v0.85h-0.85zM209.3 309.4h0.85v0.85h-0.85z" fill="#2c2ca0" fill-opacity="0.6"/>
<g filter="url(#fb)" opacity="0.5" fill="#3434b0"><ellipse cx="248" cy="304" rx="16" ry="8" transform="rotate(-10 248 304)"/></g>
<path d="M257.1 305.8h0.85v0.85h-0.85zM237.4 281.8h0.85v0.85h-0.85zM233.6 311.3h0.85v0.85h-0.85zM228.3 306.1h0.85v0.85h-0.85zM245.0 297.6h0.85v0.85h-0.85zM245.3 292.7h0.85v0.85h-0.85zM245.9 282.0h0.85v0.85h-0.85zM258.3 282.4h0.85v0.85h-0.85zM231.7 301.5h0.85v0.85h-0.85zM248.8 306.0h0.85v0.85h-0.85zM250.5 310.2h0.85v0.85h-0.85zM228.8 279.4h0.85v0.85h-0.85zM235.1 305.1h0.85v0.85h-0.85zM232.2 296.8h0.85v0.85h-0.85zM253.2 284.2h0.85v0.85h-0.85zM244.9 309.2h0.85v0.85h-0.85zM252.4 292.3h0.85v0.85h-0.85zM243.3 288.3h0.85v0.85h-0.85zM259.7 305.2h0.85v0.85h-0.85zM250.1 289.2h0.85v0.85h-0.85zM251.9 295.3h0.85v0.85h-0.85zM254.1 291.2h0.85v0.85h-0.85zM257.0 301.9h0.85v0.85h-0.85zM242.3 297.9h0.85v0.85h-0.85zM254.4 296.7h0.85v0.85h-0.85zM259.6 279.2h0.85v0.85h-0.85zM257.5 302.9h0.85v0.85h-0.85zM243.6 307.5h0.85v0.85h-0.85zM232.1 290.3h0.85v0.85h-0.85zM251.3 306.6h0.85v0.85h-0.85zM239.7 312.3h0.85v0.85h-0.85zM249.1 280.5h0.85v0.85h-0.85zM231.2 281.6h0.85v0.85h-0.85zM246.4 289.8h0.85v0.85h-0.85zM235.9 294.0h0.85v0.85h-0.85zM229.7 309.4h0.85v0.85h-0.85zM255.5 297.7h0.85v0.85h-0.85zM242.1 289.3h0.85v0.85h-0.85zM247.5 290.6h0.85v0.85h-0.85zM260.2 311.0h0.85v0.85h-0.85zM251.7 306.7h0.85v0.85h-0.85zM229.6 283.1h0.85v0.85h-0.85zM238.7 283.2h0.85v0.85h-0.85zM241.4 312.0h0.85v0.85h-0.85zM255.4 311.1h0.85v0.85h-0.85zM234.5 286.4h0.85v0.85h-0.85zM227.8 288.2h0.85v0.85h-0.85zM228.9 296.7h0.85v0.85h-0.85zM237.2 301.6h0.85v0.85h-0.85zM246.1 299.0h0.85v0.85h-0.85zM237.2 303.6h0.85v0.85h-0.85zM250.4 302.9h0.85v0.85h-0.85zM243.0 294.5h0.85v0.85h-0.85zM236.7 280.3h0.85v0.85h-0.85zM242.8 299.6h0.85v0.85h-0.85zM233.3 307.8h0.85v0.85h-0.85zM256.9 307.6h0.85v0.85h-0.85zM254.7 295.4h0.85v0.85h-0.85zM233.0 288.1h0.85v0.85h-0.85zM252.1 312.0h0.85v0.85h-0.85zM230.8 279.2h0.85v0.85h-0.85zM239.0 290.7h0.85v0.85h-0.85zM247.3 282.8h0.85v0.85h-0.85zM255.7 290.3h0.85v0.85h-0.85zM257.9 290.0h0.85v0.85h-0.85zM237.4 284.9h0.85v0.85h-0.85zM259.8 298.7h0.85v0.85h-0.85zM255.1 281.1h0.85v0.85h-0.85zM245.5 303.6h0.85v0.85h-0.85zM260.5 310.4h0.85v0.85h-0.85zM230.5 291.5h0.85v0.85h-0.85zM261.0 296.9h0.85v0.85h-0.85zM259.5 287.5h0.85v0.85h-0.85zM227.9 310.7h0.85v0.85h-0.85zM236.0 297.8h0.85v0.85h-0.85zM239.3 298.3h0.85v0.85h-0.85zM258.7 310.7h0.85v0.85h-0.85zM256.8 287.6h0.85v0.85h-0.85zM254.9 279.6h0.85v0.85h-0.85zM241.2 310.6h0.85v0.85h-0.85zM235.7 291.3h0.85v0.85h-0.85zM246.8 286.9h0.85v0.85h-0.85zM251.1 300.9h0.85v0.85h-0.85zM230.2 309.8h0.85v0.85h-0.85zM229.4 302.3h0.85v0.85h-0.85zM238.8 283.8h0.85v0.85h-0.85zM229.7 312.4h0.85v0.85h-0.85zM254.2 294.4h0.85v0.85h-0.85zM254.0 311.5h0.85v0.85h-0.85zM258.5 296.8h0.85v0.85h-0.85zM236.3 296.4h0.85v0.85h-0.85zM260.4 303.5h0.85v0.85h-0.85zM249.8 307.2h0.85v0.85h-0.85zM240.9 297.7h0.85v0.85h-0.85zM255.9 285.7h0.85v0.85h-0.85zM256.2 279.8h0.85v0.85h-0.85zM245.3 298.3h0.85v0.85h-0.85zM232.0 309.9h0.85v0.85h-0.85zM241.9 285.2h0.85v0.85h-0.85zM241.0 298.8h0.85v0.85h-0.85zM241.6 279.1h0.85v0.85h-0.85zM230.1 302.9h0.85v0.85h-0.85zM231.5 287.6h0.85v0.85h-0.85zM254.5 307.9h0.85v0.85h-0.85zM257.0 284.8h0.85v0.85h-0.85zM227.2 304.3h0.85v0.85h-0.85zM247.4 291.2h0.85v0.85h-0.85zM227.6 293.5h0.85v0.85h-0.85zM235.1 298.7h0.85v0.85h-0.85zM260.3 286.0h0.85v0.85h-0.85zM229.6 302.3h0.85v0.85h-0.85zM230.7 286.5h0.85v0.85h-0.85zM241.9 312.0h0.85v0.85h-0.85zM238.0 289.6h0.85v0.85h-0.85zM243.2 284.4h0.85v0.85h-0.85zM240.7 302.5h0.85v0.85h-0.85zM238.0 305.7h0.85v0.85h-0.85zM233.3 282.4h0.85v0.85h-0.85zM248.3 294.2h0.85v0.85h-0.85zM258.2 282.5h0.85v0.85h-0.85zM252.4 301.4h0.85v0.85h-0.85zM239.6 283.3h0.85v0.85h-0.85zM247.8 304.4h0.85v0.85h-0.85zM243.1 294.8h0.85v0.85h-0.85zM250.3 299.4h0.85v0.85h-0.85zM241.4 285.2h0.85v0.85h-0.85zM242.8 297.4h0.85v0.85h-0.85zM257.5 312.3h0.85v0.85h-0.85zM245.9 290.0h0.85v0.85h-0.85zM234.6 300.1h0.85v0.85h-0.85zM252.1 287.3h0.85v0.85h-0.85zM250.5 312.5h0.85v0.85h-0.85zM240.3 310.5h0.85v0.85h-0.85zM241.8 300.8h0.85v0.85h-0.85zM256.5 285.8h0.85v0.85h-0.85zM238.7 312.0h0.85v0.85h-0.85zM229.2 289.3h0.85v0.85h-0.85zM243.2 304.0h0.85v0.85h-0.85zM248.4 310.1h0.85v0.85h-0.85zM249.8 279.1h0.85v0.85h-0.85zM229.4 280.2h0.85v0.85h-0.85zM241.7 279.9h0.85v0.85h-0.85zM244.9 300.2h0.85v0.85h-0.85zM233.9 307.7h0.85v0.85h-0.85zM241.1 311.2h0.85v0.85h-0.85zM239.2 299.8h0.85v0.85h-0.85zM245.4 287.8h0.85v0.85h-0.85zM253.5 279.1h0.85v0.85h-0.85zM235.5 289.7h0.85v0.85h-0.85zM257.0 295.8h0.85v0.85h-0.85zM228.2 289.0h0.85v0.85h-0.85zM247.7 306.1h0.85v0.85h-0.85zM230.7 305.1h0.85v0.85h-0.85zM240.3 296.6h0.85v0.85h-0.85zM241.3 293.7h0.85v0.85h-0.85zM260.7 309.8h0.85v0.85h-0.85zM258.2 303.6h0.85v0.85h-0.85zM250.8 283.7h0.85v0.85h-0.85zM228.2 306.8h0.85v0.85h-0.85zM249.9 300.1h0.85v0.85h-0.85zM237.6 287.9h0.85v0.85h-0.85zM258.3 296.8h0.85v0.85h-0.85zM227.7 290.4h0.85v0.85h-0.85zM238.9 281.3h0.85v0.85h-0.85zM260.3 309.2h0.85v0.85h-0.85zM254.7 279.1h0.85v0.85h-0.85zM241.2 282.7h0.85v0.85h-0.85zM251.7 306.1h0.85v0.85h-0.85zM253.8 305.5h0.85v0.85h-0.85zM231.1 279.4h0.85v0.85h-0.85zM230.2 307.2h0.85v0.85h-0.85zM255.2 296.3h0.85v0.85h-0.85zM235.0 307.7h0.85v0.85h-0.85zM231.1 289.9h0.85v0.85h-0.85zM227.1 311.9h0.85v0.85h-0.85zM241.1 304.8h0.85v0.85h-0.85zM254.3 298.5h0.85v0.85h-0.85zM260.6 304.9h0.85v0.85h-0.85zM258.5 311.3h0.85v0.85h-0.85zM229.8 304.1h0.85v0.85h-0.85z" fill="#2c2ca0" fill-opacity="0.5"/>
<path d="M249.9 308.1h0.85v0.85h-0.85zM235.8 318.9h0.85v0.85h-0.85zM257.1 304.4h0.85v0.85h-0.85zM271.4 312.5h0.85v0.85h-0.85zM234.2 306.6h0.85v0.85h-0.85zM232.8 305.6h0.85v0.85h-0.85zM244.0 309.2h0.85v0.85h-0.85zM246.2 296.4h0.85v0.85h-0.85zM253.3 300.2h0.85v0.85h-0.85zM255.2 296.0h0.85v0.85h-0.85zM239.5 303.2h0.85v0.85h-0.85zM244.6 303.8h0.85v0.85h-0.85zM254.7 305.3h0.85v0.85h-0.85zM250.2 304.7h0.85v0.85h-0.85zM243.7 296.7h0.85v0.85h-0.85zM243.1 302.6h0.85v0.85h-0.85zM243.5 295.4h0.85v0.85h-0.85zM242.9 302.4h0.85v0.85h-0.85zM239.5 303.5h0.85v0.85h-0.85zM247.9 306.9h0.85v0.85h-0.85zM255.4 297.3h0.85v0.85h-0.85zM252.7 301.9h0.85v0.85h-0.85zM248.1 310.0h0.85v0.85h-0.85zM255.3 304.3h0.85v0.85h-0.85zM237.9 304.3h0.85v0.85h-0.85zM257.2 298.8h0.85v0.85h-0.85zM239.5 300.4h0.85v0.85h-0.85zM249.1 299.1h0.85v0.85h-0.85zM272.9 299.7h0.85v0.85h-0.85zM248.8 301.3h0.85v0.85h-0.85zM253.2 305.4h0.85v0.85h-0.85zM245.0 302.3h0.85v0.85h-0.85zM258.4 302.9h0.85v0.85h-0.85zM254.9 302.9h0.85v0.85h-0.85zM244.0 307.0h0.85v0.85h-0.85zM254.9 302.8h0.85v0.85h-0.85zM249.1 308.3h0.85v0.85h-0.85zM241.2 307.6h0.85v0.85h-0.85zM247.4 305.0h0.85v0.85h-0.85zM254.4 295.8h0.85v0.85h-0.85zM247.3 304.1h0.85v0.85h-0.85zM251.9 314.2h0.85v0.85h-0.85zM242.4 305.9h0.85v0.85h-0.85zM254.3 293.2h0.85v0.85h-0.85zM256.2 306.7h0.85v0.85h-0.85zM243.7 303.8h0.85v0.85h-0.85zM243.9 311.1h0.85v0.85h-0.85zM241.2 298.9h0.85v0.85h-0.85zM241.1 301.8h0.85v0.85h-0.85zM249.5 304.1h0.85v0.85h-0.85zM255.8 294.0h0.85v0.85h-0.85zM250.7 302.4h0.85v0.85h-0.85zM248.1 300.9h0.85v0.85h-0.85zM245.1 307.3h0.85v0.85h-0.85zM257.2 295.1h0.85v0.85h-0.85zM251.6 299.0h0.85v0.85h-0.85zM254.1 301.4h0.85v0.85h-0.85zM235.6 302.8h0.85v0.85h-0.85zM249.7 308.6h0.85v0.85h-0.85zM261.7 306.9h0.85v0.85h-0.85zM250.4 306.1h0.85v0.85h-0.85zM247.0 311.3h0.85v0.85h-0.85zM240.2 300.7h0.85v0.85h-0.85zM255.8 295.9h0.85v0.85h-0.85zM251.8 309.4h0.85v0.85h-0.85zM251.8 306.6h0.85v0.85h-0.85zM250.4 305.2h0.85v0.85h-0.85zM238.6 314.2h0.85v0.85h-0.85zM245.6 302.6h0.85v0.85h-0.85zM251.4 310.1h0.85v0.85h-0.85zM245.9 304.1h0.85v0.85h-0.85zM258.1 305.9h0.85v0.85h-0.85zM244.9 303.3h0.85v0.85h-0.85zM248.3 300.2h0.85v0.85h-0.85zM238.2 302.4h0.85v0.85h-0.85zM238.3 316.1h0.85v0.85h-0.85zM241.2 308.4h0.85v0.85h-0.85zM231.2 304.5h0.85v0.85h-0.85zM263.0 300.7h0.85v0.85h-0.85zM234.0 304.5h0.85v0.85h-0.85zM231.8 297.0h0.85v0.85h-0.85zM262.5 299.9h0.85v0.85h-0.85zM251.5 309.8h0.85v0.85h-0.85zM242.3 306.4h0.85v0.85h-0.85zM248.6 300.4h0.85v0.85h-0.85zM244.5 298.9h0.85v0.85h-0.85zM236.2 309.6h0.85v0.85h-0.85zM241.2 290.0h0.85v0.85h-0.85zM263.9 301.1h0.85v0.85h-0.85zM248.1 311.5h0.85v0.85h-0.85zM227.0 308.0h0.85v0.85h-0.85zM240.4 306.9h0.85v0.85h-0.85zM258.0 303.2h0.85v0.85h-0.85zM240.4 304.5h0.85v0.85h-0.85zM256.7 306.1h0.85v0.85h-0.85zM253.1 304.4h0.85v0.85h-0.85zM240.6 306.9h0.85v0.85h-0.85zM237.1 305.9h0.85v0.85h-0.85zM244.7 306.3h0.85v0.85h-0.85zM259.4 302.7h0.85v0.85h-0.85zM254.9 302.0h0.85v0.85h-0.85zM244.0 308.3h0.85v0.85h-0.85zM246.5 298.4h0.85v0.85h-0.85zM248.2 303.5h0.85v0.85h-0.85zM252.5 305.8h0.85v0.85h-0.85zM242.6 308.7h0.85v0.85h-0.85zM232.2 315.5h0.85v0.85h-0.85zM237.7 308.3h0.85v0.85h-0.85zM260.1 300.2h0.85v0.85h-0.85zM233.3 301.2h0.85v0.85h-0.85zM247.0 305.4h0.85v0.85h-0.85zM258.3 300.5h0.85v0.85h-0.85zM245.0 303.6h0.85v0.85h-0.85zM246.9 299.3h0.85v0.85h-0.85zM242.9 301.6h0.85v0.85h-0.85zM255.0 300.4h0.85v0.85h-0.85zM246.8 314.8h0.85v0.85h-0.85zM249.9 307.6h0.85v0.85h-0.85zM223.4 309.5h0.85v0.85h-0.85zM253.0 305.4h0.85v0.85h-0.85zM248.7 302.0h0.85v0.85h-0.85zM235.5 310.8h0.85v0.85h-0.85zM242.8 296.1h0.85v0.85h-0.85zM263.0 308.5h0.85v0.85h-0.85zM239.1 312.9h0.85v0.85h-0.85zM229.9 309.1h0.85v0.85h-0.85zM241.3 305.7h0.85v0.85h-0.85zM254.9 307.6h0.85v0.85h-0.85zM253.2 304.0h0.85v0.85h-0.85zM255.4 298.0h0.85v0.85h-0.85zM250.9 301.3h0.85v0.85h-0.85zM238.2 306.4h0.85v0.85h-0.85zM253.8 305.5h0.85v0.85h-0.85zM259.9 298.1h0.85v0.85h-0.85zM235.8 305.8h0.85v0.85h-0.85zM260.5 292.1h0.85v0.85h-0.85zM245.5 303.5h0.85v0.85h-0.85zM251.3 301.2h0.85v0.85h-0.85zM248.8 306.6h0.85v0.85h-0.85zM236.2 305.6h0.85v0.85h-0.85zM238.6 307.1h0.85v0.85h-0.85zM258.0 308.5h0.85v0.85h-0.85zM240.4 304.3h0.85v0.85h-0.85zM256.7 292.1h0.85v0.85h-0.85zM269.5 293.3h0.85v0.85h-0.85zM256.3 304.6h0.85v0.85h-0.85zM241.7 306.3h0.85v0.85h-0.85zM245.4 293.5h0.85v0.85h-0.85zM255.6 307.3h0.85v0.85h-0.85zM265.8 298.7h0.85v0.85h-0.85zM244.2 305.4h0.85v0.85h-0.85zM238.0 307.4h0.85v0.85h-0.85zM248.7 300.7h0.85v0.85h-0.85zM245.7 318.8h0.85v0.85h-0.85zM260.2 302.4h0.85v0.85h-0.85zM261.0 306.5h0.85v0.85h-0.85zM231.0 312.3h0.85v0.85h-0.85zM252.8 313.4h0.85v0.85h-0.85zM248.7 305.5h0.85v0.85h-0.85zM251.2 304.5h0.85v0.85h-0.85zM231.4 315.7h0.85v0.85h-0.85zM240.5 311.7h0.85v0.85h-0.85zM258.7 303.4h0.85v0.85h-0.85zM244.0 304.1h0.85v0.85h-0.85zM239.1 302.9h0.85v0.85h-0.85zM241.6 313.6h0.85v0.85h-0.85zM246.0 302.0h0.85v0.85h-0.85zM250.5 304.6h0.85v0.85h-0.85zM248.2 311.2h0.85v0.85h-0.85zM270.4 297.4h0.85v0.85h-0.85zM250.7 301.6h0.85v0.85h-0.85zM250.5 295.3h0.85v0.85h-0.85zM219.7 311.9h0.85v0.85h-0.85zM244.1 303.2h0.85v0.85h-0.85zM249.4 306.4h0.85v0.85h-0.85zM237.7 301.3h0.85v0.85h-0.85zM248.7 303.3h0.85v0.85h-0.85zM271.9 300.6h0.85v0.85h-0.85zM248.1 307.9h0.85v0.85h-0.85zM250.6 301.7h0.85v0.85h-0.85zM251.2 293.0h0.85v0.85h-0.85zM236.3 303.4h0.85v0.85h-0.85zM260.1 302.1h0.85v0.85h-0.85zM235.5 300.5h0.85v0.85h-0.85zM243.6 304.5h0.85v0.85h-0.85zM251.5 310.7h0.85v0.85h-0.85zM251.9 304.5h0.85v0.85h-0.85zM249.5 312.8h0.85v0.85h-0.85zM239.8 304.1h0.85v0.85h-0.85zM259.1 300.5h0.85v0.85h-0.85zM249.9 310.2h0.85v0.85h-0.85zM252.6 299.4h0.85v0.85h-0.85zM237.8 308.5h0.85v0.85h-0.85zM260.5 301.2h0.85v0.85h-0.85zM253.9 309.0h0.85v0.85h-0.85zM244.5 309.8h0.85v0.85h-0.85zM247.4 303.1h0.85v0.85h-0.85zM240.3 305.2h0.85v0.85h-0.85zM233.7 301.0h0.85v0.85h-0.85zM236.0 307.6h0.85v0.85h-0.85zM247.0 308.0h0.85v0.85h-0.85zM237.0 305.5h0.85v0.85h-0.85zM252.0 311.8h0.85v0.85h-0.85zM239.7 305.5h0.85v0.85h-0.85zM249.3 313.4h0.85v0.85h-0.85zM263.9 294.3h0.85v0.85h-0.85zM248.4 305.9h0.85v0.85h-0.85zM246.5 303.4h0.85v0.85h-0.85zM255.2 296.7h0.85v0.85h-0.85zM243.8 309.4h0.85v0.85h-0.85zM245.4 301.7h0.85v0.85h-0.85zM238.8 312.3h0.85v0.85h-0.85zM242.0 299.0h0.85v0.85h-0.85zM253.3 305.2h0.85v0.85h-0.85zM248.1 305.3h0.85v0.85h-0.85zM239.8 300.4h0.85v0.85h-0.85zM257.5 299.4h0.85v0.85h-0.85zM256.2 299.8h0.85v0.85h-0.85zM240.8 304.8h0.85v0.85h-0.85zM228.1 310.2h0.85v0.85h-0.85zM247.4 304.1h0.85v0.85h-0.85zM244.9 307.2h0.85v0.85h-0.85zM239.7 301.2h0.85v0.85h-0.85zM228.3 309.3h0.85v0.85h-0.85zM247.9 301.8h0.85v0.85h-0.85zM261.8 303.1h0.85v0.85h-0.85zM236.7 301.8h0.85v0.85h-0.85zM245.6 304.4h0.85v0.85h-0.85zM232.4 309.6h0.85v0.85h-0.85zM245.7 303.5h0.85v0.85h-0.85zM263.0 309.1h0.85v0.85h-0.85zM242.8 304.1h0.85v0.85h-0.85zM240.7 294.2h0.85v0.85h-0.85zM255.5 297.2h0.85v0.85h-0.85zM249.0 301.8h0.85v0.85h-0.85zM232.6 308.8h0.85v0.85h-0.85zM245.7 306.8h0.85v0.85h-0.85zM256.2 296.6h0.85v0.85h-0.85zM251.2 303.5h0.85v0.85h-0.85zM226.7 303.3h0.85v0.85h-0.85zM233.4 299.6h0.85v0.85h-0.85zM257.9 306.3h0.85v0.85h-0.85zM252.0 307.4h0.85v0.85h-0.85zM254.6 307.4h0.85v0.85h-0.85zM260.8 303.9h0.85v0.85h-0.85zM234.9 297.6h0.85v0.85h-0.85zM248.1 302.0h0.85v0.85h-0.85zM254.7 298.2h0.85v0.85h-0.85zM257.1 300.1h0.85v0.85h-0.85zM260.7 305.6h0.85v0.85h-0.85zM262.0 314.5h0.85v0.85h-0.85zM229.0 304.7h0.85v0.85h-0.85zM240.2 305.6h0.85v0.85h-0.85zM239.5 298.7h0.85v0.85h-0.85zM241.3 306.2h0.85v0.85h-0.85zM236.3 309.9h0.85v0.85h-0.85zM249.2 306.7h0.85v0.85h-0.85zM235.2 307.0h0.85v0.85h-0.85zM254.7 304.5h0.85v0.85h-0.85zM254.8 302.1h0.85v0.85h-0.85zM248.3 299.7h0.85v0.85h-0.85zM257.3 305.4h0.85v0.85h-0.85zM257.4 295.9h0.85v0.85h-0.85zM261.6 304.0h0.85v0.85h-0.85zM239.9 301.4h0.85v0.85h-0.85zM241.6 299.8h0.85v0.85h-0.85zM254.8 309.9h0.85v0.85h-0.85zM253.8 306.1h0.85v0.85h-0.85zM253.9 297.7h0.85v0.85h-0.85zM234.0 305.9h0.85v0.85h-0.85zM239.3 305.8h0.85v0.85h-0.85zM246.2 304.0h0.85v0.85h-0.85zM246.7 305.4h0.85v0.85h-0.85zM267.3 300.3h0.85v0.85h-0.85zM244.6 302.1h0.85v0.85h-0.85zM251.9 300.0h0.85v0.85h-0.85zM251.1 296.5h0.85v0.85h-0.85zM235.6 301.1h0.85v0.85h-0.85zM247.8 313.6h0.85v0.85h-0.85zM233.2 304.3h0.85v0.85h-0.85zM251.1 300.2h0.85v0.85h-0.85zM241.3 307.7h0.85v0.85h-0.85zM264.8 305.9h0.85v0.85h-0.85zM243.0 299.5h0.85v0.85h-0.85zM230.0 304.2h0.85v0.85h-0.85zM255.9 304.6h0.85v0.85h-0.85zM242.7 299.1h0.85v0.85h-0.85zM241.2 305.3h0.85v0.85h-0.85zM251.5 310.8h0.85v0.85h-0.85zM238.4 315.7h0.85v0.85h-0.85zM265.8 293.1h0.85v0.85h-0.85zM247.3 310.1h0.85v0.85h-0.85zM255.1 305.7h0.85v0.85h-0.85zM257.8 305.0h0.85v0.85h-0.85zM262.1 299.2h0.85v0.85h-0.85zM243.9 307.8h0.85v0.85h-0.85zM250.5 302.9h0.85v0.85h-0.85zM256.4 294.3h0.85v0.85h-0.85zM268.7 305.6h0.85v0.85h-0.85zM242.0 301.1h0.85v0.85h-0.85zM237.7 309.0h0.85v0.85h-0.85zM230.1 305.4h0.85v0.85h-0.85zM253.8 300.2h0.85v0.85h-0.85zM263.5 301.8h0.85v0.85h-0.85zM239.2 299.6h0.85v0.85h-0.85zM251.3 304.3h0.85v0.85h-0.85zM254.3 300.0h0.85v0.85h-0.85zM224.9 310.4h0.85v0.85h-0.85zM253.4 309.8h0.85v0.85h-0.85zM259.0 304.5h0.85v0.85h-0.85zM247.1 301.2h0.85v0.85h-0.85zM247.2 290.8h0.85v0.85h-0.85zM253.8 295.0h0.85v0.85h-0.85zM260.9 299.1h0.85v0.85h-0.85zM231.7 304.1h0.85v0.85h-0.85zM251.2 296.7h0.85v0.85h-0.85zM244.8 301.8h0.85v0.85h-0.85zM244.5 308.4h0.85v0.85h-0.85zM256.6 295.6h0.85v0.85h-0.85zM243.5 320.5h0.85v0.85h-0.85zM251.1 304.1h0.85v0.85h-0.85zM246.6 306.0h0.85v0.85h-0.85zM255.7 301.2h0.85v0.85h-0.85zM235.8 312.6h0.85v0.85h-0.85zM235.5 304.7h0.85v0.85h-0.85zM239.2 307.6h0.85v0.85h-0.85zM254.7 301.7h0.85v0.85h-0.85zM237.9 304.9h0.85v0.85h-0.85zM251.5 305.6h0.85v0.85h-0.85zM232.1 306.4h0.85v0.85h-0.85zM245.3 305.2h0.85v0.85h-0.85zM252.2 302.2h0.85v0.85h-0.85zM249.8 302.6h0.85v0.85h-0.85zM244.7 302.3h0.85v0.85h-0.85zM248.3 309.2h0.85v0.85h-0.85zM247.4 298.7h0.85v0.85h-0.85zM240.6 307.8h0.85v0.85h-0.85zM240.8 304.7h0.85v0.85h-0.85zM253.3 302.1h0.85v0.85h-0.85zM256.3 307.3h0.85v0.85h-0.85zM240.7 311.8h0.85v0.85h-0.85zM261.2 303.5h0.85v0.85h-0.85zM236.1 314.8h0.85v0.85h-0.85zM246.0 309.5h0.85v0.85h-0.85zM244.5 310.3h0.85v0.85h-0.85zM246.7 311.6h0.85v0.85h-0.85zM236.9 310.2h0.85v0.85h-0.85zM246.4 309.7h0.85v0.85h-0.85zM234.3 303.6h0.85v0.85h-0.85zM241.8 300.7h0.85v0.85h-0.85zM251.9 304.6h0.85v0.85h-0.85zM251.9 305.9h0.85v0.85h-0.85zM254.5 309.7h0.85v0.85h-0.85zM239.1 314.9h0.85v0.85h-0.85zM249.3 307.6h0.85v0.85h-0.85zM250.5 306.2h0.85v0.85h-0.85zM242.1 299.0h0.85v0.85h-0.85zM249.5 313.0h0.85v0.85h-0.85zM243.0 300.1h0.85v0.85h-0.85zM237.1 301.3h0.85v0.85h-0.85zM244.5 305.4h0.85v0.85h-0.85zM235.5 315.4h0.85v0.85h-0.85zM240.0 310.6h0.85v0.85h-0.85zM261.8 306.2h0.85v0.85h-0.85zM253.0 299.4h0.85v0.85h-0.85zM241.4 309.6h0.85v0.85h-0.85zM248.5 307.4h0.85v0.85h-0.85zM258.3 307.8h0.85v0.85h-0.85zM225.7 307.2h0.85v0.85h-0.85zM265.1 298.6h0.85v0.85h-0.85zM263.3 298.0h0.85v0.85h-0.85zM252.7 303.6h0.85v0.85h-0.85zM265.6 299.3h0.85v0.85h-0.85zM238.0 301.1h0.85v0.85h-0.85zM239.8 307.5h0.85v0.85h-0.85zM255.7 307.7h0.85v0.85h-0.85zM247.7 306.6h0.85v0.85h-0.85zM255.1 297.9h0.85v0.85h-0.85zM252.8 300.2h0.85v0.85h-0.85zM241.4 303.3h0.85v0.85h-0.85zM250.4 300.5h0.85v0.85h-0.85zM240.4 300.2h0.85v0.85h-0.85zM246.7 306.1h0.85v0.85h-0.85zM237.3 306.4h0.85v0.85h-0.85zM249.9 300.5h0.85v0.85h-0.85zM251.7 307.3h0.85v0.85h-0.85zM249.5 300.2h0.85v0.85h-0.85zM246.3 303.3h0.85v0.85h-0.85zM260.8 305.7h0.85v0.85h-0.85zM243.7 304.8h0.85v0.85h-0.85zM227.6 309.6h0.85v0.85h-0.85zM239.9 309.5h0.85v0.85h-0.85zM239.3 308.4h0.85v0.85h-0.85zM266.2 303.6h0.85v0.85h-0.85zM240.4 303.1h0.85v0.85h-0.85zM247.3 307.3h0.85v0.85h-0.85zM262.9 297.4h0.85v0.85h-0.85zM240.1 310.2h0.85v0.85h-0.85zM242.2 303.9h0.85v0.85h-0.85zM262.4 303.2h0.85v0.85h-0.85z" fill="#2a2a98" fill-opacity="0.75"/>
<path d="M255.4 334.9h0.85v0.85h-0.85zM251.7 325.2h0.85v0.85h-0.85zM256.0 336.2h0.85v0.85h-0.85zM231.3 307.0h0.85v0.85h-0.85zM244.8 315.8h0.85v0.85h-0.85zM270.1 326.9h0.85v0.85h-0.85zM234.2 326.2h0.85v0.85h-0.85zM264.7 329.5h0.85v0.85h-0.85zM244.5 325.9h0.85v0.85h-0.85zM247.4 327.0h0.85v0.85h-0.85zM245.1 321.9h0.85v0.85h-0.85zM248.5 319.7h0.85v0.85h-0.85zM245.9 313.4h0.85v0.85h-0.85zM245.3 303.6h0.85v0.85h-0.85zM246.6 338.1h0.85v0.85h-0.85zM236.5 336.5h0.85v0.85h-0.85zM256.2 311.4h0.85v0.85h-0.85zM245.0 320.9h0.85v0.85h-0.85zM267.6 312.0h0.85v0.85h-0.85zM256.9 322.5h0.85v0.85h-0.85zM255.3 312.8h0.85v0.85h-0.85zM257.7 311.3h0.85v0.85h-0.85zM242.3 327.5h0.85v0.85h-0.85zM253.3 312.4h0.85v0.85h-0.85zM234.2 320.5h0.85v0.85h-0.85zM251.3 325.3h0.85v0.85h-0.85zM246.5 325.9h0.85v0.85h-0.85zM251.9 321.8h0.85v0.85h-0.85zM254.2 320.7h0.85v0.85h-0.85zM258.9 336.2h0.85v0.85h-0.85zM246.4 316.7h0.85v0.85h-0.85zM241.6 318.5h0.85v0.85h-0.85zM259.0 321.6h0.85v0.85h-0.85zM241.4 322.5h0.85v0.85h-0.85zM239.6 332.2h0.85v0.85h-0.85zM259.4 333.9h0.85v0.85h-0.85zM262.2 318.4h0.85v0.85h-0.85zM242.8 322.8h0.85v0.85h-0.85zM252.9 327.3h0.85v0.85h-0.85zM234.0 320.5h0.85v0.85h-0.85zM253.4 320.7h0.85v0.85h-0.85zM249.9 308.7h0.85v0.85h-0.85zM234.3 327.2h0.85v0.85h-0.85zM252.8 332.5h0.85v0.85h-0.85zM237.2 323.7h0.85v0.85h-0.85zM243.6 327.4h0.85v0.85h-0.85zM255.4 318.3h0.85v0.85h-0.85zM245.0 328.1h0.85v0.85h-0.85zM237.6 326.5h0.85v0.85h-0.85zM242.4 335.1h0.85v0.85h-0.85zM248.8 325.1h0.85v0.85h-0.85zM256.4 323.3h0.85v0.85h-0.85zM230.6 318.6h0.85v0.85h-0.85zM250.8 328.2h0.85v0.85h-0.85zM251.3 330.0h0.85v0.85h-0.85zM255.7 316.3h0.85v0.85h-0.85zM256.1 326.9h0.85v0.85h-0.85zM245.1 324.6h0.85v0.85h-0.85zM244.5 327.2h0.85v0.85h-0.85zM246.8 322.5h0.85v0.85h-0.85zM238.5 323.4h0.85v0.85h-0.85zM258.6 331.0h0.85v0.85h-0.85zM245.2 338.8h0.85v0.85h-0.85zM236.9 311.9h0.85v0.85h-0.85zM246.0 321.4h0.85v0.85h-0.85zM254.9 337.9h0.85v0.85h-0.85zM251.1 322.0h0.85v0.85h-0.85zM244.3 328.7h0.85v0.85h-0.85zM234.1 328.7h0.85v0.85h-0.85zM237.7 319.6h0.85v0.85h-0.85zM250.6 317.8h0.85v0.85h-0.85zM244.3 319.1h0.85v0.85h-0.85zM240.3 326.8h0.85v0.85h-0.85zM247.6 320.3h0.85v0.85h-0.85zM252.5 320.5h0.85v0.85h-0.85zM244.0 341.2h0.85v0.85h-0.85zM257.6 324.2h0.85v0.85h-0.85zM252.1 324.3h0.85v0.85h-0.85zM255.1 323.3h0.85v0.85h-0.85zM263.2 328.3h0.85v0.85h-0.85zM257.1 337.8h0.85v0.85h-0.85zM254.1 325.2h0.85v0.85h-0.85zM247.9 327.9h0.85v0.85h-0.85zM242.7 326.5h0.85v0.85h-0.85zM249.3 314.5h0.85v0.85h-0.85zM265.0 321.2h0.85v0.85h-0.85zM258.1 317.9h0.85v0.85h-0.85zM245.2 324.1h0.85v0.85h-0.85zM247.6 330.7h0.85v0.85h-0.85zM253.7 336.7h0.85v0.85h-0.85zM243.8 338.7h0.85v0.85h-0.85zM236.6 317.5h0.85v0.85h-0.85zM263.2 334.1h0.85v0.85h-0.85zM238.7 324.4h0.85v0.85h-0.85zM250.9 338.9h0.85v0.85h-0.85zM239.4 333.0h0.85v0.85h-0.85zM246.2 322.5h0.85v0.85h-0.85zM245.8 339.3h0.85v0.85h-0.85zM261.3 326.3h0.85v0.85h-0.85zM237.8 321.0h0.85v0.85h-0.85zM245.7 334.0h0.85v0.85h-0.85zM236.8 327.2h0.85v0.85h-0.85zM258.6 329.8h0.85v0.85h-0.85zM249.4 337.0h0.85v0.85h-0.85zM249.7 331.1h0.85v0.85h-0.85zM239.2 339.0h0.85v0.85h-0.85zM249.4 317.9h0.85v0.85h-0.85zM249.0 324.6h0.85v0.85h-0.85zM260.3 319.8h0.85v0.85h-0.85zM257.4 332.1h0.85v0.85h-0.85zM238.1 325.4h0.85v0.85h-0.85zM247.8 322.6h0.85v0.85h-0.85zM257.0 308.0h0.85v0.85h-0.85zM245.8 338.4h0.85v0.85h-0.85zM260.6 310.7h0.85v0.85h-0.85zM263.8 332.3h0.85v0.85h-0.85zM250.2 341.2h0.85v0.85h-0.85zM246.5 315.7h0.85v0.85h-0.85zM261.8 315.6h0.85v0.85h-0.85zM270.2 324.2h0.85v0.85h-0.85zM238.3 318.5h0.85v0.85h-0.85zM246.1 317.0h0.85v0.85h-0.85zM240.5 325.1h0.85v0.85h-0.85zM251.3 331.8h0.85v0.85h-0.85zM258.7 310.6h0.85v0.85h-0.85zM246.0 312.0h0.85v0.85h-0.85zM239.6 324.3h0.85v0.85h-0.85zM249.5 324.1h0.85v0.85h-0.85zM230.2 333.2h0.85v0.85h-0.85zM252.5 334.7h0.85v0.85h-0.85zM255.4 328.2h0.85v0.85h-0.85zM250.9 322.9h0.85v0.85h-0.85zM254.3 309.7h0.85v0.85h-0.85zM254.2 319.9h0.85v0.85h-0.85zM257.0 321.4h0.85v0.85h-0.85zM231.3 331.8h0.85v0.85h-0.85zM238.4 321.2h0.85v0.85h-0.85zM250.6 325.6h0.85v0.85h-0.85zM249.7 329.2h0.85v0.85h-0.85zM252.7 318.9h0.85v0.85h-0.85z" fill="#2c2ca0" fill-opacity="0.5"/>
<g filter="url(#fb)" opacity="0.55" fill="#3434b0"><ellipse cx="271.5" cy="288" rx="7.5" ry="12" transform="rotate(30 271.5 288)"/></g>
<path d="M278.1 288.2h0.85v0.85h-0.85zM267.6 299.3h0.85v0.85h-0.85zM265.3 294.7h0.85v0.85h-0.85zM273.8 297.4h0.85v0.85h-0.85zM277.7 279.7h0.85v0.85h-0.85zM273.7 281.5h0.85v0.85h-0.85zM271.1 293.7h0.85v0.85h-0.85zM276.4 278.9h0.85v0.85h-0.85zM271.0 292.8h0.85v0.85h-0.85zM270.8 287.8h0.85v0.85h-0.85zM273.9 292.2h0.85v0.85h-0.85zM270.1 301.6h0.85v0.85h-0.85zM270.7 298.6h0.85v0.85h-0.85zM275.7 282.7h0.85v0.85h-0.85zM264.3 276.4h0.85v0.85h-0.85zM271.6 281.9h0.85v0.85h-0.85zM274.6 288.7h0.85v0.85h-0.85zM275.3 288.0h0.85v0.85h-0.85zM267.2 289.3h0.85v0.85h-0.85zM274.1 273.9h0.85v0.85h-0.85zM273.0 283.5h0.85v0.85h-0.85zM277.4 290.5h0.85v0.85h-0.85zM265.1 283.6h0.85v0.85h-0.85zM271.8 295.9h0.85v0.85h-0.85zM279.6 277.1h0.85v0.85h-0.85zM272.2 285.5h0.85v0.85h-0.85zM268.4 287.2h0.85v0.85h-0.85zM271.3 282.1h0.85v0.85h-0.85zM266.0 288.0h0.85v0.85h-0.85zM269.7 276.8h0.85v0.85h-0.85zM267.8 293.1h0.85v0.85h-0.85zM270.4 291.5h0.85v0.85h-0.85zM283.3 278.0h0.85v0.85h-0.85zM271.1 294.0h0.85v0.85h-0.85zM281.7 283.5h0.85v0.85h-0.85zM283.9 291.3h0.85v0.85h-0.85zM269.7 290.2h0.85v0.85h-0.85zM266.8 296.2h0.85v0.85h-0.85zM273.8 290.0h0.85v0.85h-0.85zM265.3 286.8h0.85v0.85h-0.85zM270.8 291.5h0.85v0.85h-0.85zM269.2 290.2h0.85v0.85h-0.85zM271.4 290.9h0.85v0.85h-0.85zM281.5 275.7h0.85v0.85h-0.85zM275.6 294.8h0.85v0.85h-0.85zM279.1 281.2h0.85v0.85h-0.85zM262.5 299.1h0.85v0.85h-0.85zM271.8 289.6h0.85v0.85h-0.85zM274.6 288.0h0.85v0.85h-0.85zM279.9 285.0h0.85v0.85h-0.85zM272.5 289.7h0.85v0.85h-0.85zM272.1 284.2h0.85v0.85h-0.85zM274.1 277.6h0.85v0.85h-0.85zM267.4 296.1h0.85v0.85h-0.85zM265.3 302.6h0.85v0.85h-0.85zM272.4 278.1h0.85v0.85h-0.85zM271.6 285.8h0.85v0.85h-0.85zM280.6 282.7h0.85v0.85h-0.85zM267.4 284.5h0.85v0.85h-0.85zM265.4 285.2h0.85v0.85h-0.85zM269.4 285.3h0.85v0.85h-0.85zM269.4 286.1h0.85v0.85h-0.85zM275.5 290.7h0.85v0.85h-0.85zM279.9 282.2h0.85v0.85h-0.85zM267.9 296.6h0.85v0.85h-0.85zM270.2 281.2h0.85v0.85h-0.85zM266.3 287.7h0.85v0.85h-0.85zM276.4 273.2h0.85v0.85h-0.85zM266.2 283.3h0.85v0.85h-0.85zM272.6 284.4h0.85v0.85h-0.85zM267.9 293.9h0.85v0.85h-0.85zM265.4 293.0h0.85v0.85h-0.85zM254.7 309.4h0.85v0.85h-0.85zM275.0 281.2h0.85v0.85h-0.85zM277.7 271.6h0.85v0.85h-0.85zM269.4 297.7h0.85v0.85h-0.85zM275.7 288.2h0.85v0.85h-0.85zM281.0 281.9h0.85v0.85h-0.85zM268.7 291.0h0.85v0.85h-0.85zM276.6 282.0h0.85v0.85h-0.85zM265.6 292.9h0.85v0.85h-0.85zM278.9 272.9h0.85v0.85h-0.85zM280.0 285.0h0.85v0.85h-0.85zM269.6 294.8h0.85v0.85h-0.85zM273.7 289.5h0.85v0.85h-0.85zM268.2 291.0h0.85v0.85h-0.85zM269.4 287.5h0.85v0.85h-0.85zM272.8 281.0h0.85v0.85h-0.85zM265.5 298.6h0.85v0.85h-0.85zM270.4 289.1h0.85v0.85h-0.85zM280.3 279.9h0.85v0.85h-0.85zM275.9 285.2h0.85v0.85h-0.85zM264.9 298.4h0.85v0.85h-0.85zM268.7 305.5h0.85v0.85h-0.85zM273.1 279.4h0.85v0.85h-0.85zM273.1 291.3h0.85v0.85h-0.85zM257.7 292.0h0.85v0.85h-0.85zM270.1 297.0h0.85v0.85h-0.85zM274.6 301.4h0.85v0.85h-0.85zM278.7 275.3h0.85v0.85h-0.85zM274.0 283.6h0.85v0.85h-0.85zM270.4 290.0h0.85v0.85h-0.85zM270.7 286.3h0.85v0.85h-0.85zM270.0 292.4h0.85v0.85h-0.85zM280.3 285.2h0.85v0.85h-0.85zM259.1 304.8h0.85v0.85h-0.85zM270.7 291.8h0.85v0.85h-0.85zM262.0 293.9h0.85v0.85h-0.85zM272.4 298.0h0.85v0.85h-0.85zM267.5 281.2h0.85v0.85h-0.85zM270.0 289.4h0.85v0.85h-0.85zM272.3 297.1h0.85v0.85h-0.85zM265.9 284.1h0.85v0.85h-0.85zM269.3 293.8h0.85v0.85h-0.85zM265.5 302.1h0.85v0.85h-0.85zM273.1 283.8h0.85v0.85h-0.85zM272.5 286.0h0.85v0.85h-0.85zM268.2 287.6h0.85v0.85h-0.85zM278.3 277.3h0.85v0.85h-0.85zM273.0 283.3h0.85v0.85h-0.85zM274.8 293.4h0.85v0.85h-0.85zM271.9 287.0h0.85v0.85h-0.85zM282.6 277.7h0.85v0.85h-0.85zM265.1 292.9h0.85v0.85h-0.85zM274.3 272.5h0.85v0.85h-0.85zM272.9 279.8h0.85v0.85h-0.85zM276.6 280.3h0.85v0.85h-0.85zM274.7 292.3h0.85v0.85h-0.85zM267.0 289.7h0.85v0.85h-0.85zM267.8 289.9h0.85v0.85h-0.85zM263.2 297.4h0.85v0.85h-0.85zM277.3 284.6h0.85v0.85h-0.85zM274.2 285.6h0.85v0.85h-0.85zM266.5 283.6h0.85v0.85h-0.85zM276.0 281.7h0.85v0.85h-0.85zM267.0 305.8h0.85v0.85h-0.85zM271.3 279.4h0.85v0.85h-0.85zM268.9 290.2h0.85v0.85h-0.85zM270.1 283.1h0.85v0.85h-0.85zM279.2 283.8h0.85v0.85h-0.85zM276.8 279.1h0.85v0.85h-0.85zM273.7 284.3h0.85v0.85h-0.85zM276.2 290.4h0.85v0.85h-0.85zM271.2 284.4h0.85v0.85h-0.85zM272.7 296.5h0.85v0.85h-0.85zM276.6 277.4h0.85v0.85h-0.85zM266.8 295.9h0.85v0.85h-0.85zM277.7 278.5h0.85v0.85h-0.85zM273.7 287.1h0.85v0.85h-0.85zM272.2 286.9h0.85v0.85h-0.85zM272.0 280.2h0.85v0.85h-0.85zM272.9 293.1h0.85v0.85h-0.85zM275.1 273.9h0.85v0.85h-0.85zM272.9 294.0h0.85v0.85h-0.85zM273.9 285.0h0.85v0.85h-0.85zM283.8 281.5h0.85v0.85h-0.85zM267.9 291.2h0.85v0.85h-0.85zM270.8 292.7h0.85v0.85h-0.85zM263.7 290.6h0.85v0.85h-0.85zM277.6 286.9h0.85v0.85h-0.85zM276.2 287.9h0.85v0.85h-0.85zM271.5 287.9h0.85v0.85h-0.85zM270.4 288.4h0.85v0.85h-0.85zM270.4 299.8h0.85v0.85h-0.85zM271.5 293.1h0.85v0.85h-0.85zM268.1 284.2h0.85v0.85h-0.85zM272.8 289.6h0.85v0.85h-0.85zM273.6 280.8h0.85v0.85h-0.85zM272.3 294.2h0.85v0.85h-0.85zM250.8 302.1h0.85v0.85h-0.85zM272.8 290.5h0.85v0.85h-0.85zM273.1 294.2h0.85v0.85h-0.85zM279.0 288.4h0.85v0.85h-0.85zM271.6 295.5h0.85v0.85h-0.85zM256.9 299.4h0.85v0.85h-0.85zM275.5 278.2h0.85v0.85h-0.85zM267.1 295.3h0.85v0.85h-0.85zM268.8 284.9h0.85v0.85h-0.85zM270.8 286.0h0.85v0.85h-0.85zM256.9 292.6h0.85v0.85h-0.85zM265.4 291.0h0.85v0.85h-0.85zM279.0 275.4h0.85v0.85h-0.85zM275.1 281.1h0.85v0.85h-0.85zM273.5 283.2h0.85v0.85h-0.85zM271.5 286.9h0.85v0.85h-0.85zM269.9 292.5h0.85v0.85h-0.85zM262.9 295.1h0.85v0.85h-0.85zM277.5 293.9h0.85v0.85h-0.85zM273.3 301.4h0.85v0.85h-0.85zM277.8 287.6h0.85v0.85h-0.85zM284.0 276.7h0.85v0.85h-0.85zM262.5 288.7h0.85v0.85h-0.85zM275.9 294.0h0.85v0.85h-0.85zM273.5 276.3h0.85v0.85h-0.85zM271.0 290.8h0.85v0.85h-0.85zM267.6 283.9h0.85v0.85h-0.85zM273.0 283.5h0.85v0.85h-0.85zM267.6 275.7h0.85v0.85h-0.85zM264.0 300.8h0.85v0.85h-0.85zM278.0 288.4h0.85v0.85h-0.85z" fill="#2c2ca0" fill-opacity="0.8"/>
<g filter="url(#fb)" opacity="0.65" fill="#3434b0"><ellipse cx="217" cy="327.5" rx="18" ry="12"/></g>
<path d="M203.4 331.1h0.85v0.85h-0.85zM208.9 328.8h0.85v0.85h-0.85zM223.7 330.9h0.85v0.85h-0.85zM230.1 320.4h0.85v0.85h-0.85zM206.5 329.9h0.85v0.85h-0.85zM205.5 325.3h0.85v0.85h-0.85zM216.7 325.9h0.85v0.85h-0.85zM207.9 322.5h0.85v0.85h-0.85zM201.8 332.8h0.85v0.85h-0.85zM252.9 325.2h0.85v0.85h-0.85zM229.1 325.3h0.85v0.85h-0.85zM207.7 325.9h0.85v0.85h-0.85zM218.4 319.1h0.85v0.85h-0.85zM217.1 310.0h0.85v0.85h-0.85zM201.8 319.4h0.85v0.85h-0.85zM208.9 326.7h0.85v0.85h-0.85zM210.8 328.7h0.85v0.85h-0.85zM210.3 330.9h0.85v0.85h-0.85zM211.1 329.1h0.85v0.85h-0.85zM208.2 324.4h0.85v0.85h-0.85zM218.5 339.2h0.85v0.85h-0.85zM216.8 327.4h0.85v0.85h-0.85zM211.5 317.7h0.85v0.85h-0.85zM202.5 328.7h0.85v0.85h-0.85zM226.1 328.5h0.85v0.85h-0.85zM204.3 326.9h0.85v0.85h-0.85zM225.9 327.7h0.85v0.85h-0.85zM227.4 316.0h0.85v0.85h-0.85zM218.9 319.1h0.85v0.85h-0.85zM221.3 331.8h0.85v0.85h-0.85zM228.9 328.8h0.85v0.85h-0.85zM226.1 324.6h0.85v0.85h-0.85zM209.3 328.1h0.85v0.85h-0.85zM215.3 318.3h0.85v0.85h-0.85zM222.6 329.4h0.85v0.85h-0.85zM221.1 332.8h0.85v0.85h-0.85zM217.8 321.0h0.85v0.85h-0.85zM217.1 327.3h0.85v0.85h-0.85zM215.8 334.9h0.85v0.85h-0.85zM218.2 325.0h0.85v0.85h-0.85zM203.5 313.2h0.85v0.85h-0.85zM236.4 325.7h0.85v0.85h-0.85zM228.1 330.9h0.85v0.85h-0.85zM216.2 332.0h0.85v0.85h-0.85zM215.8 341.0h0.85v0.85h-0.85zM209.3 326.1h0.85v0.85h-0.85zM214.0 330.9h0.85v0.85h-0.85zM233.0 322.0h0.85v0.85h-0.85zM223.1 327.3h0.85v0.85h-0.85zM214.8 333.2h0.85v0.85h-0.85zM203.8 320.2h0.85v0.85h-0.85zM204.7 326.7h0.85v0.85h-0.85zM228.2 330.8h0.85v0.85h-0.85zM227.7 338.2h0.85v0.85h-0.85zM200.8 322.8h0.85v0.85h-0.85zM236.4 325.7h0.85v0.85h-0.85zM212.1 331.2h0.85v0.85h-0.85zM218.8 326.6h0.85v0.85h-0.85zM239.8 319.4h0.85v0.85h-0.85zM208.0 324.8h0.85v0.85h-0.85zM232.4 334.3h0.85v0.85h-0.85zM209.1 329.2h0.85v0.85h-0.85zM206.2 325.7h0.85v0.85h-0.85zM220.2 320.2h0.85v0.85h-0.85zM202.8 330.6h0.85v0.85h-0.85zM202.0 338.8h0.85v0.85h-0.85zM222.5 323.5h0.85v0.85h-0.85zM213.0 322.6h0.85v0.85h-0.85zM233.2 328.6h0.85v0.85h-0.85zM216.8 320.9h0.85v0.85h-0.85zM234.1 327.6h0.85v0.85h-0.85zM206.2 340.2h0.85v0.85h-0.85zM218.7 324.3h0.85v0.85h-0.85zM225.9 323.5h0.85v0.85h-0.85zM213.2 335.7h0.85v0.85h-0.85zM213.8 330.7h0.85v0.85h-0.85zM202.0 318.7h0.85v0.85h-0.85zM210.9 320.4h0.85v0.85h-0.85zM216.4 326.8h0.85v0.85h-0.85zM216.6 329.1h0.85v0.85h-0.85zM201.2 324.7h0.85v0.85h-0.85zM217.1 337.7h0.85v0.85h-0.85zM218.3 328.0h0.85v0.85h-0.85zM239.3 324.1h0.85v0.85h-0.85zM230.9 332.9h0.85v0.85h-0.85zM224.3 318.3h0.85v0.85h-0.85zM231.9 323.6h0.85v0.85h-0.85zM220.1 326.0h0.85v0.85h-0.85zM219.6 321.7h0.85v0.85h-0.85zM233.7 321.2h0.85v0.85h-0.85zM234.7 325.2h0.85v0.85h-0.85zM203.7 334.2h0.85v0.85h-0.85zM215.8 325.3h0.85v0.85h-0.85zM212.8 320.8h0.85v0.85h-0.85zM201.6 336.2h0.85v0.85h-0.85zM224.5 323.6h0.85v0.85h-0.85zM201.4 326.5h0.85v0.85h-0.85zM220.0 322.6h0.85v0.85h-0.85zM212.3 335.8h0.85v0.85h-0.85zM211.0 324.2h0.85v0.85h-0.85zM229.1 326.7h0.85v0.85h-0.85zM213.5 319.8h0.85v0.85h-0.85zM226.7 329.3h0.85v0.85h-0.85zM210.3 326.5h0.85v0.85h-0.85zM230.8 326.7h0.85v0.85h-0.85zM212.2 328.5h0.85v0.85h-0.85zM215.2 335.3h0.85v0.85h-0.85zM210.6 324.0h0.85v0.85h-0.85zM205.5 328.6h0.85v0.85h-0.85zM211.4 325.7h0.85v0.85h-0.85zM207.4 320.3h0.85v0.85h-0.85zM216.6 309.2h0.85v0.85h-0.85zM201.1 340.5h0.85v0.85h-0.85zM217.2 339.5h0.85v0.85h-0.85zM237.4 328.5h0.85v0.85h-0.85zM202.5 330.9h0.85v0.85h-0.85zM203.4 328.1h0.85v0.85h-0.85zM217.3 340.2h0.85v0.85h-0.85zM212.2 326.1h0.85v0.85h-0.85zM212.9 334.5h0.85v0.85h-0.85zM204.8 324.4h0.85v0.85h-0.85zM247.3 320.6h0.85v0.85h-0.85zM220.9 332.1h0.85v0.85h-0.85zM221.2 335.6h0.85v0.85h-0.85zM211.2 339.7h0.85v0.85h-0.85zM218.5 326.0h0.85v0.85h-0.85zM220.8 328.6h0.85v0.85h-0.85zM212.6 332.0h0.85v0.85h-0.85zM204.6 331.2h0.85v0.85h-0.85zM210.6 307.3h0.85v0.85h-0.85zM227.4 326.8h0.85v0.85h-0.85zM211.0 324.7h0.85v0.85h-0.85zM219.9 325.1h0.85v0.85h-0.85zM208.4 315.2h0.85v0.85h-0.85zM230.2 332.6h0.85v0.85h-0.85zM234.4 329.9h0.85v0.85h-0.85zM217.9 321.2h0.85v0.85h-0.85zM234.5 328.2h0.85v0.85h-0.85zM231.7 327.9h0.85v0.85h-0.85zM207.9 333.3h0.85v0.85h-0.85zM227.0 308.5h0.85v0.85h-0.85zM209.4 332.2h0.85v0.85h-0.85zM227.7 327.8h0.85v0.85h-0.85zM205.3 330.4h0.85v0.85h-0.85zM209.6 305.5h0.85v0.85h-0.85zM204.8 332.9h0.85v0.85h-0.85zM225.3 307.9h0.85v0.85h-0.85zM215.6 315.5h0.85v0.85h-0.85zM227.6 312.1h0.85v0.85h-0.85zM229.1 325.2h0.85v0.85h-0.85zM213.9 328.6h0.85v0.85h-0.85zM203.9 326.7h0.85v0.85h-0.85zM252.9 328.1h0.85v0.85h-0.85zM226.3 328.7h0.85v0.85h-0.85zM218.8 316.3h0.85v0.85h-0.85zM208.5 319.8h0.85v0.85h-0.85zM234.0 336.2h0.85v0.85h-0.85zM216.0 318.9h0.85v0.85h-0.85zM201.4 328.3h0.85v0.85h-0.85zM214.0 320.8h0.85v0.85h-0.85zM216.9 320.3h0.85v0.85h-0.85zM209.6 321.1h0.85v0.85h-0.85zM238.0 316.8h0.85v0.85h-0.85zM217.0 320.3h0.85v0.85h-0.85zM207.4 334.9h0.85v0.85h-0.85zM212.5 326.7h0.85v0.85h-0.85zM238.3 334.6h0.85v0.85h-0.85zM211.8 315.4h0.85v0.85h-0.85zM215.2 319.6h0.85v0.85h-0.85zM232.4 338.6h0.85v0.85h-0.85zM228.8 319.1h0.85v0.85h-0.85zM217.9 337.2h0.85v0.85h-0.85zM203.6 327.3h0.85v0.85h-0.85zM201.8 328.6h0.85v0.85h-0.85zM231.7 326.6h0.85v0.85h-0.85zM240.9 325.4h0.85v0.85h-0.85zM224.1 340.3h0.85v0.85h-0.85zM203.1 335.3h0.85v0.85h-0.85zM209.3 339.4h0.85v0.85h-0.85zM224.7 327.9h0.85v0.85h-0.85zM240.5 328.5h0.85v0.85h-0.85zM227.2 313.3h0.85v0.85h-0.85zM220.6 321.4h0.85v0.85h-0.85zM205.0 331.7h0.85v0.85h-0.85zM208.2 334.9h0.85v0.85h-0.85zM217.4 325.7h0.85v0.85h-0.85zM236.2 327.0h0.85v0.85h-0.85zM208.7 341.0h0.85v0.85h-0.85zM223.3 322.4h0.85v0.85h-0.85zM206.6 328.0h0.85v0.85h-0.85zM206.8 321.2h0.85v0.85h-0.85zM210.1 324.0h0.85v0.85h-0.85zM226.3 328.2h0.85v0.85h-0.85zM208.2 325.7h0.85v0.85h-0.85zM204.7 326.2h0.85v0.85h-0.85zM213.5 341.1h0.85v0.85h-0.85zM202.3 338.1h0.85v0.85h-0.85zM215.0 320.2h0.85v0.85h-0.85zM237.6 331.0h0.85v0.85h-0.85zM209.0 318.7h0.85v0.85h-0.85zM216.3 327.4h0.85v0.85h-0.85zM231.3 325.8h0.85v0.85h-0.85zM227.8 321.4h0.85v0.85h-0.85zM231.7 328.7h0.85v0.85h-0.85zM201.7 333.5h0.85v0.85h-0.85zM218.1 324.3h0.85v0.85h-0.85zM220.8 322.3h0.85v0.85h-0.85zM215.0 330.2h0.85v0.85h-0.85zM222.4 331.9h0.85v0.85h-0.85zM219.7 333.8h0.85v0.85h-0.85zM203.0 336.2h0.85v0.85h-0.85zM204.2 337.5h0.85v0.85h-0.85zM217.1 329.9h0.85v0.85h-0.85zM217.5 329.9h0.85v0.85h-0.85zM212.8 325.4h0.85v0.85h-0.85zM231.4 322.5h0.85v0.85h-0.85zM221.6 334.9h0.85v0.85h-0.85zM219.8 329.2h0.85v0.85h-0.85zM231.9 320.8h0.85v0.85h-0.85zM204.7 319.9h0.85v0.85h-0.85zM202.9 328.2h0.85v0.85h-0.85zM220.3 322.2h0.85v0.85h-0.85zM225.7 326.3h0.85v0.85h-0.85zM203.9 331.3h0.85v0.85h-0.85zM217.8 335.3h0.85v0.85h-0.85zM216.9 323.0h0.85v0.85h-0.85zM205.3 328.9h0.85v0.85h-0.85zM225.4 334.1h0.85v0.85h-0.85zM221.6 338.7h0.85v0.85h-0.85zM211.3 322.9h0.85v0.85h-0.85zM216.2 334.7h0.85v0.85h-0.85zM229.9 317.9h0.85v0.85h-0.85zM204.6 333.5h0.85v0.85h-0.85zM219.0 336.5h0.85v0.85h-0.85zM220.0 326.9h0.85v0.85h-0.85zM208.8 331.3h0.85v0.85h-0.85zM220.7 322.4h0.85v0.85h-0.85zM211.1 328.2h0.85v0.85h-0.85zM209.7 319.1h0.85v0.85h-0.85zM221.0 315.9h0.85v0.85h-0.85zM214.7 321.8h0.85v0.85h-0.85zM214.9 338.8h0.85v0.85h-0.85zM241.9 333.7h0.85v0.85h-0.85zM212.4 318.8h0.85v0.85h-0.85zM211.9 330.5h0.85v0.85h-0.85zM219.1 330.5h0.85v0.85h-0.85zM209.7 319.7h0.85v0.85h-0.85zM218.2 320.0h0.85v0.85h-0.85zM239.2 326.2h0.85v0.85h-0.85zM208.5 336.9h0.85v0.85h-0.85zM203.8 323.5h0.85v0.85h-0.85zM222.8 316.6h0.85v0.85h-0.85zM218.8 322.4h0.85v0.85h-0.85zM213.1 327.3h0.85v0.85h-0.85zM220.0 319.9h0.85v0.85h-0.85zM227.8 341.2h0.85v0.85h-0.85zM213.9 316.9h0.85v0.85h-0.85zM218.5 326.6h0.85v0.85h-0.85zM211.4 332.1h0.85v0.85h-0.85zM209.5 323.7h0.85v0.85h-0.85zM221.4 328.8h0.85v0.85h-0.85zM221.8 336.9h0.85v0.85h-0.85zM202.1 330.5h0.85v0.85h-0.85zM229.7 328.8h0.85v0.85h-0.85zM214.9 331.5h0.85v0.85h-0.85zM221.4 329.6h0.85v0.85h-0.85zM209.1 330.8h0.85v0.85h-0.85zM208.0 329.1h0.85v0.85h-0.85zM212.7 311.7h0.85v0.85h-0.85zM212.9 330.8h0.85v0.85h-0.85zM219.9 327.3h0.85v0.85h-0.85zM203.1 317.1h0.85v0.85h-0.85zM226.5 338.2h0.85v0.85h-0.85zM236.4 318.6h0.85v0.85h-0.85zM222.5 321.0h0.85v0.85h-0.85zM208.3 332.2h0.85v0.85h-0.85zM223.0 329.1h0.85v0.85h-0.85zM210.9 334.9h0.85v0.85h-0.85zM233.2 326.0h0.85v0.85h-0.85zM209.8 329.5h0.85v0.85h-0.85zM208.4 333.0h0.85v0.85h-0.85zM226.9 325.3h0.85v0.85h-0.85zM224.4 326.9h0.85v0.85h-0.85zM239.6 333.0h0.85v0.85h-0.85zM233.8 334.4h0.85v0.85h-0.85zM206.9 324.3h0.85v0.85h-0.85zM221.4 320.7h0.85v0.85h-0.85zM230.3 326.9h0.85v0.85h-0.85zM241.0 321.6h0.85v0.85h-0.85zM201.9 336.6h0.85v0.85h-0.85zM212.6 316.4h0.85v0.85h-0.85zM233.1 329.8h0.85v0.85h-0.85zM215.6 322.8h0.85v0.85h-0.85zM218.7 329.7h0.85v0.85h-0.85zM209.5 327.0h0.85v0.85h-0.85zM222.2 321.2h0.85v0.85h-0.85zM234.5 327.6h0.85v0.85h-0.85zM208.1 330.2h0.85v0.85h-0.85zM231.3 315.1h0.85v0.85h-0.85zM213.8 329.6h0.85v0.85h-0.85z" fill="#2c2ca0" fill-opacity="0.8"/>
<g filter="url(#fb)">
<ellipse cx="272.00" cy="287.50" rx="6.20" ry="10.50" fill="#2a2a9a" transform="rotate(30 272.00 287.50)"/>
<ellipse cx="272.11" cy="287.43" rx="5.33" ry="9.03" fill="#2f4fd0" transform="rotate(30 272.11 287.43)"/>
<ellipse cx="272.21" cy="287.37" rx="4.59" ry="7.77" fill="#3aa0e8" transform="rotate(30 272.21 287.37)"/>
<ellipse cx="272.30" cy="287.31" rx="3.91" ry="6.62" fill="#3ec8b0" transform="rotate(30 272.30 287.31)"/>
<ellipse cx="272.38" cy="287.26" rx="3.29" ry="5.57" fill="#7ad040" transform="rotate(30 272.38 287.26)"/>
<ellipse cx="272.46" cy="287.21" rx="2.60" ry="4.41" fill="#e8e020" transform="rotate(30 272.46 287.21)"/>
<ellipse cx="272.55" cy="287.15" rx="1.92" ry="3.25" fill="#f08a18" transform="rotate(30 272.55 287.15)"/>
<ellipse cx="272.64" cy="287.10" rx="1.24" ry="2.10" fill="#e02414" transform="rotate(30 272.64 287.10)"/>
</g>
<g filter="url(#fb)">
<ellipse cx="215.00" cy="327.00" rx="16.00" ry="10.00" fill="#2a2a9a" transform="rotate(0 215.00 327.00)"/>
<ellipse cx="214.85" cy="326.95" rx="14.40" ry="9.00" fill="#2f4fd0" transform="rotate(0 214.85 326.95)"/>
<ellipse cx="214.70" cy="326.90" rx="12.80" ry="8.00" fill="#3aa0e8" transform="rotate(0 214.70 326.90)"/>
<ellipse cx="214.52" cy="326.84" rx="10.88" ry="6.80" fill="#3ec8b0" transform="rotate(0 214.52 326.84)"/>
<ellipse cx="214.28" cy="326.76" rx="8.32" ry="5.20" fill="#7ad040" transform="rotate(0 214.28 326.76)"/>
<ellipse cx="213.80" cy="326.60" rx="3.20" ry="2.00" fill="#e8e020" transform="rotate(0 213.80 326.60)"/>
</g>
</g>
<rect x="201.3" y="282.3" width="25.0" height="30.099999999999966" fill="none" stroke="#1a1a1a" stroke-width="1.1"/>
<rect x="226.3" y="277.7" width="35.30000000000001" height="35.30000000000001" fill="none" stroke="#1a1a1a" stroke-width="1.1"/>
<rect x="261.6" y="269.2" width="19.69999999999999" height="29.0" fill="none" stroke="#1a1a1a" stroke-width="1.1"/>
<rect x="200.9" y="315.1" width="37.099999999999994" height="27.899999999999977" fill="none" stroke="#1a1a1a" stroke-width="1.1"/>
<text x="214" y="279.6" font-size="7.5" text-anchor="middle" fill="#222">0.79</text>
<text x="244" y="274.9" font-size="7.5" text-anchor="middle" fill="#222">3.43</text>
<text x="271.2" y="266.4" font-size="7.5" text-anchor="middle" fill="#222">37.3</text>
<text x="203.9" y="260.5" font-size="7.4" text-anchor="start" font-weight="bold" fill="#111">Zeb2<tspan class="sup" font-size="5.3" dy="-2.8">Δ/ΔMx1-Cre</tspan></text>
<rect x="316.6" y="249.9" width="92.69999999999999" height="93.1" fill="#fff" stroke="#8a8a8a" stroke-width="0.8"/>
<g clip-path="url(#fc4)">
<g filter="url(#fb)" opacity="0.6" fill="#3434b0"><rect x="318.5" y="284.5" width="34.5" height="28.5"/></g>
<path d="M341.6 303.9h0.85v0.85h-0.85zM341.0 307.3h0.85v0.85h-0.85zM346.8 302.1h0.85v0.85h-0.85zM347.2 287.6h0.85v0.85h-0.85zM351.6 303.3h0.85v0.85h-0.85zM321.4 288.9h0.85v0.85h-0.85zM340.8 292.9h0.85v0.85h-0.85zM351.3 292.1h0.85v0.85h-0.85zM335.3 298.6h0.85v0.85h-0.85zM351.4 292.8h0.85v0.85h-0.85zM349.7 305.0h0.85v0.85h-0.85zM338.2 311.4h0.85v0.85h-0.85zM349.4 305.7h0.85v0.85h-0.85zM337.4 285.3h0.85v0.85h-0.85zM325.8 302.9h0.85v0.85h-0.85zM322.1 302.7h0.85v0.85h-0.85zM330.3 295.2h0.85v0.85h-0.85zM347.2 308.4h0.85v0.85h-0.85zM344.5 297.0h0.85v0.85h-0.85zM337.0 312.6h0.85v0.85h-0.85zM350.9 301.6h0.85v0.85h-0.85zM320.8 310.1h0.85v0.85h-0.85zM319.6 287.4h0.85v0.85h-0.85zM341.4 289.7h0.85v0.85h-0.85zM344.7 303.9h0.85v0.85h-0.85zM323.9 310.3h0.85v0.85h-0.85zM353.4 303.0h0.85v0.85h-0.85zM352.9 307.2h0.85v0.85h-0.85zM334.8 307.9h0.85v0.85h-0.85zM351.3 304.2h0.85v0.85h-0.85zM321.0 294.8h0.85v0.85h-0.85zM343.0 294.6h0.85v0.85h-0.85zM323.9 297.2h0.85v0.85h-0.85zM323.0 297.8h0.85v0.85h-0.85zM321.5 305.1h0.85v0.85h-0.85zM325.6 311.1h0.85v0.85h-0.85zM321.8 302.3h0.85v0.85h-0.85zM340.8 289.8h0.85v0.85h-0.85zM340.3 299.9h0.85v0.85h-0.85zM339.9 289.4h0.85v0.85h-0.85zM334.9 308.2h0.85v0.85h-0.85zM339.9 291.1h0.85v0.85h-0.85zM329.9 309.5h0.85v0.85h-0.85zM319.9 297.9h0.85v0.85h-0.85zM336.2 296.5h0.85v0.85h-0.85zM318.1 287.1h0.85v0.85h-0.85zM347.9 297.2h0.85v0.85h-0.85zM328.4 297.1h0.85v0.85h-0.85zM319.9 286.4h0.85v0.85h-0.85zM347.4 306.0h0.85v0.85h-0.85zM325.0 293.2h0.85v0.85h-0.85zM320.7 293.2h0.85v0.85h-0.85zM336.5 305.8h0.85v0.85h-0.85zM336.0 308.6h0.85v0.85h-0.85zM353.4 300.5h0.85v0.85h-0.85zM319.5 287.9h0.85v0.85h-0.85zM341.9 287.8h0.85v0.85h-0.85zM349.9 285.6h0.85v0.85h-0.85zM320.0 312.9h0.85v0.85h-0.85zM332.4 300.1h0.85v0.85h-0.85zM339.2 287.4h0.85v0.85h-0.85zM329.9 294.7h0.85v0.85h-0.85zM344.2 306.7h0.85v0.85h-0.85zM342.7 289.2h0.85v0.85h-0.85zM334.4 310.6h0.85v0.85h-0.85zM324.2 294.1h0.85v0.85h-0.85zM339.9 312.9h0.85v0.85h-0.85zM318.9 304.0h0.85v0.85h-0.85zM334.4 299.3h0.85v0.85h-0.85zM347.8 286.8h0.85v0.85h-0.85zM339.2 293.2h0.85v0.85h-0.85zM344.8 304.7h0.85v0.85h-0.85zM332.8 288.4h0.85v0.85h-0.85zM345.1 304.3h0.85v0.85h-0.85zM338.0 305.6h0.85v0.85h-0.85zM351.7 291.1h0.85v0.85h-0.85zM342.5 307.4h0.85v0.85h-0.85zM327.4 310.2h0.85v0.85h-0.85zM329.1 311.7h0.85v0.85h-0.85zM338.7 312.2h0.85v0.85h-0.85zM349.4 306.7h0.85v0.85h-0.85zM331.2 297.3h0.85v0.85h-0.85zM338.8 307.3h0.85v0.85h-0.85zM332.8 310.1h0.85v0.85h-0.85zM325.7 299.1h0.85v0.85h-0.85zM323.1 289.0h0.85v0.85h-0.85zM328.3 285.4h0.85v0.85h-0.85zM338.2 302.0h0.85v0.85h-0.85zM332.0 307.1h0.85v0.85h-0.85zM337.4 303.8h0.85v0.85h-0.85zM321.0 293.6h0.85v0.85h-0.85zM318.8 288.6h0.85v0.85h-0.85zM348.2 287.9h0.85v0.85h-0.85zM339.2 294.9h0.85v0.85h-0.85zM341.9 309.3h0.85v0.85h-0.85zM347.5 312.0h0.85v0.85h-0.85zM352.3 295.6h0.85v0.85h-0.85zM353.1 306.1h0.85v0.85h-0.85zM327.9 293.5h0.85v0.85h-0.85zM336.6 308.5h0.85v0.85h-0.85zM321.5 309.8h0.85v0.85h-0.85zM341.8 301.2h0.85v0.85h-0.85zM332.4 295.1h0.85v0.85h-0.85zM332.4 304.8h0.85v0.85h-0.85zM333.7 304.7h0.85v0.85h-0.85zM349.1 286.5h0.85v0.85h-0.85zM318.7 311.3h0.85v0.85h-0.85zM324.9 307.6h0.85v0.85h-0.85zM332.4 290.5h0.85v0.85h-0.85zM318.4 296.4h0.85v0.85h-0.85zM339.3 285.6h0.85v0.85h-0.85zM318.4 292.3h0.85v0.85h-0.85zM349.3 305.8h0.85v0.85h-0.85zM327.1 295.7h0.85v0.85h-0.85zM332.8 304.5h0.85v0.85h-0.85zM328.1 294.3h0.85v0.85h-0.85zM335.9 290.9h0.85v0.85h-0.85zM333.2 305.7h0.85v0.85h-0.85zM335.9 285.6h0.85v0.85h-0.85zM330.4 300.5h0.85v0.85h-0.85zM326.2 295.2h0.85v0.85h-0.85zM337.9 294.6h0.85v0.85h-0.85zM324.5 309.4h0.85v0.85h-0.85zM320.3 310.3h0.85v0.85h-0.85zM321.4 300.1h0.85v0.85h-0.85zM337.3 295.9h0.85v0.85h-0.85zM340.2 309.6h0.85v0.85h-0.85zM329.3 285.7h0.85v0.85h-0.85zM325.1 309.5h0.85v0.85h-0.85zM339.3 305.9h0.85v0.85h-0.85zM331.8 293.4h0.85v0.85h-0.85zM342.5 300.5h0.85v0.85h-0.85zM350.4 288.7h0.85v0.85h-0.85zM330.2 304.0h0.85v0.85h-0.85zM350.2 297.5h0.85v0.85h-0.85zM346.0 287.2h0.85v0.85h-0.85zM340.7 293.5h0.85v0.85h-0.85zM342.6 292.6h0.85v0.85h-0.85zM324.6 291.8h0.85v0.85h-0.85zM343.7 304.7h0.85v0.85h-0.85zM350.4 296.0h0.85v0.85h-0.85zM320.3 307.5h0.85v0.85h-0.85zM327.1 304.8h0.85v0.85h-0.85zM335.4 296.9h0.85v0.85h-0.85zM319.1 290.6h0.85v0.85h-0.85zM344.6 297.3h0.85v0.85h-0.85zM349.3 307.4h0.85v0.85h-0.85zM337.0 312.5h0.85v0.85h-0.85zM318.1 295.6h0.85v0.85h-0.85zM336.9 285.6h0.85v0.85h-0.85zM348.9 288.3h0.85v0.85h-0.85zM338.6 291.9h0.85v0.85h-0.85zM331.6 297.5h0.85v0.85h-0.85zM328.3 289.0h0.85v0.85h-0.85zM341.7 302.2h0.85v0.85h-0.85zM320.9 312.2h0.85v0.85h-0.85zM321.8 290.5h0.85v0.85h-0.85zM328.0 294.6h0.85v0.85h-0.85zM335.4 310.2h0.85v0.85h-0.85zM321.6 300.7h0.85v0.85h-0.85zM340.2 291.5h0.85v0.85h-0.85zM330.6 296.9h0.85v0.85h-0.85zM349.5 306.5h0.85v0.85h-0.85zM335.0 286.0h0.85v0.85h-0.85zM330.7 307.7h0.85v0.85h-0.85zM333.4 295.3h0.85v0.85h-0.85zM340.7 285.2h0.85v0.85h-0.85zM341.0 303.9h0.85v0.85h-0.85zM322.0 296.1h0.85v0.85h-0.85zM348.4 291.6h0.85v0.85h-0.85zM336.8 294.0h0.85v0.85h-0.85zM337.6 295.3h0.85v0.85h-0.85zM330.2 310.8h0.85v0.85h-0.85zM342.6 313.0h0.85v0.85h-0.85zM329.9 297.5h0.85v0.85h-0.85zM331.0 309.1h0.85v0.85h-0.85zM331.0 303.7h0.85v0.85h-0.85zM324.3 299.7h0.85v0.85h-0.85zM327.6 310.5h0.85v0.85h-0.85zM331.0 311.6h0.85v0.85h-0.85zM338.1 293.9h0.85v0.85h-0.85zM337.6 311.0h0.85v0.85h-0.85zM342.6 307.9h0.85v0.85h-0.85zM338.1 301.9h0.85v0.85h-0.85zM323.0 308.1h0.85v0.85h-0.85zM340.7 302.8h0.85v0.85h-0.85zM328.8 306.1h0.85v0.85h-0.85zM336.7 293.3h0.85v0.85h-0.85zM353.2 306.4h0.85v0.85h-0.85zM342.1 308.4h0.85v0.85h-0.85zM342.7 295.2h0.85v0.85h-0.85zM351.9 310.3h0.85v0.85h-0.85zM341.8 296.6h0.85v0.85h-0.85zM335.8 285.3h0.85v0.85h-0.85zM349.6 308.1h0.85v0.85h-0.85zM339.1 297.5h0.85v0.85h-0.85zM346.5 284.6h0.85v0.85h-0.85zM332.2 291.3h0.85v0.85h-0.85zM339.6 294.3h0.85v0.85h-0.85zM339.6 310.0h0.85v0.85h-0.85zM332.6 287.3h0.85v0.85h-0.85zM318.5 308.2h0.85v0.85h-0.85zM334.6 296.8h0.85v0.85h-0.85zM319.1 287.0h0.85v0.85h-0.85zM318.0 310.0h0.85v0.85h-0.85zM319.7 293.3h0.85v0.85h-0.85zM334.8 300.6h0.85v0.85h-0.85zM325.9 302.7h0.85v0.85h-0.85zM340.7 312.6h0.85v0.85h-0.85zM321.3 292.6h0.85v0.85h-0.85zM321.6 292.4h0.85v0.85h-0.85zM325.6 284.9h0.85v0.85h-0.85zM346.7 292.0h0.85v0.85h-0.85zM344.4 307.6h0.85v0.85h-0.85zM346.3 284.7h0.85v0.85h-0.85zM338.8 308.7h0.85v0.85h-0.85zM340.4 301.5h0.85v0.85h-0.85zM333.1 307.9h0.85v0.85h-0.85zM336.9 294.2h0.85v0.85h-0.85zM335.6 297.7h0.85v0.85h-0.85zM324.6 303.5h0.85v0.85h-0.85zM347.6 303.0h0.85v0.85h-0.85zM318.4 295.7h0.85v0.85h-0.85zM345.2 287.8h0.85v0.85h-0.85zM335.9 303.8h0.85v0.85h-0.85zM337.0 293.6h0.85v0.85h-0.85zM318.6 304.4h0.85v0.85h-0.85zM323.9 301.4h0.85v0.85h-0.85zM336.6 305.0h0.85v0.85h-0.85zM322.0 312.2h0.85v0.85h-0.85zM344.6 309.3h0.85v0.85h-0.85zM324.6 304.9h0.85v0.85h-0.85zM331.4 304.3h0.85v0.85h-0.85zM342.8 295.9h0.85v0.85h-0.85zM351.6 296.7h0.85v0.85h-0.85zM334.6 304.7h0.85v0.85h-0.85zM323.4 310.0h0.85v0.85h-0.85zM329.8 309.7h0.85v0.85h-0.85zM323.1 287.6h0.85v0.85h-0.85zM339.0 291.0h0.85v0.85h-0.85zM333.6 289.8h0.85v0.85h-0.85zM343.7 305.4h0.85v0.85h-0.85zM342.4 287.9h0.85v0.85h-0.85zM319.7 300.9h0.85v0.85h-0.85zM320.9 304.8h0.85v0.85h-0.85zM337.4 311.0h0.85v0.85h-0.85zM347.0 303.0h0.85v0.85h-0.85zM347.4 298.7h0.85v0.85h-0.85zM328.3 285.8h0.85v0.85h-0.85zM343.0 303.3h0.85v0.85h-0.85zM340.5 298.8h0.85v0.85h-0.85zM334.2 310.7h0.85v0.85h-0.85zM331.4 288.1h0.85v0.85h-0.85zM351.8 306.1h0.85v0.85h-0.85zM349.8 312.6h0.85v0.85h-0.85zM333.5 288.5h0.85v0.85h-0.85zM335.5 298.2h0.85v0.85h-0.85zM331.8 306.8h0.85v0.85h-0.85zM326.9 312.1h0.85v0.85h-0.85zM325.5 292.2h0.85v0.85h-0.85zM347.5 290.8h0.85v0.85h-0.85zM343.7 291.9h0.85v0.85h-0.85zM332.5 297.6h0.85v0.85h-0.85zM326.8 307.9h0.85v0.85h-0.85zM351.4 310.8h0.85v0.85h-0.85zM323.6 284.7h0.85v0.85h-0.85zM333.6 305.5h0.85v0.85h-0.85zM337.4 311.9h0.85v0.85h-0.85zM353.1 303.8h0.85v0.85h-0.85zM327.3 295.6h0.85v0.85h-0.85zM320.3 295.4h0.85v0.85h-0.85zM344.7 293.2h0.85v0.85h-0.85zM324.6 299.6h0.85v0.85h-0.85zM349.8 302.7h0.85v0.85h-0.85zM321.9 296.5h0.85v0.85h-0.85zM326.1 307.5h0.85v0.85h-0.85zM332.8 296.9h0.85v0.85h-0.85zM349.2 292.6h0.85v0.85h-0.85zM333.9 312.4h0.85v0.85h-0.85zM328.9 299.6h0.85v0.85h-0.85zM341.0 293.7h0.85v0.85h-0.85zM340.3 296.2h0.85v0.85h-0.85zM347.5 300.1h0.85v0.85h-0.85zM343.8 300.6h0.85v0.85h-0.85zM342.7 295.3h0.85v0.85h-0.85zM323.2 294.5h0.85v0.85h-0.85zM329.6 284.4h0.85v0.85h-0.85zM345.3 299.2h0.85v0.85h-0.85zM335.0 304.4h0.85v0.85h-0.85zM320.4 287.6h0.85v0.85h-0.85zM343.5 285.2h0.85v0.85h-0.85zM348.8 298.7h0.85v0.85h-0.85zM352.3 308.9h0.85v0.85h-0.85zM332.5 294.0h0.85v0.85h-0.85zM333.4 306.3h0.85v0.85h-0.85zM334.4 304.9h0.85v0.85h-0.85zM353.2 305.7h0.85v0.85h-0.85zM336.2 305.5h0.85v0.85h-0.85zM335.5 300.8h0.85v0.85h-0.85zM332.9 311.1h0.85v0.85h-0.85zM353.0 300.5h0.85v0.85h-0.85zM337.8 287.0h0.85v0.85h-0.85zM338.1 310.9h0.85v0.85h-0.85zM326.6 306.5h0.85v0.85h-0.85zM327.0 304.7h0.85v0.85h-0.85zM328.0 301.3h0.85v0.85h-0.85zM345.5 284.9h0.85v0.85h-0.85zM347.8 299.2h0.85v0.85h-0.85zM326.7 292.9h0.85v0.85h-0.85zM337.7 305.5h0.85v0.85h-0.85zM324.3 286.0h0.85v0.85h-0.85zM326.2 302.4h0.85v0.85h-0.85zM332.3 306.1h0.85v0.85h-0.85zM343.8 294.7h0.85v0.85h-0.85zM338.9 288.2h0.85v0.85h-0.85zM339.6 302.8h0.85v0.85h-0.85zM326.4 303.3h0.85v0.85h-0.85zM322.9 312.2h0.85v0.85h-0.85zM337.4 310.7h0.85v0.85h-0.85zM341.7 290.2h0.85v0.85h-0.85zM344.0 301.8h0.85v0.85h-0.85zM331.4 304.1h0.85v0.85h-0.85zM345.0 303.7h0.85v0.85h-0.85zM325.7 312.0h0.85v0.85h-0.85zM350.3 296.6h0.85v0.85h-0.85zM350.9 312.8h0.85v0.85h-0.85zM330.2 289.5h0.85v0.85h-0.85zM326.7 298.2h0.85v0.85h-0.85zM323.1 290.9h0.85v0.85h-0.85zM344.0 284.5h0.85v0.85h-0.85zM339.7 295.8h0.85v0.85h-0.85zM343.2 291.5h0.85v0.85h-0.85zM335.0 290.2h0.85v0.85h-0.85zM318.6 309.1h0.85v0.85h-0.85zM331.0 292.6h0.85v0.85h-0.85zM351.2 294.7h0.85v0.85h-0.85zM337.2 288.1h0.85v0.85h-0.85zM332.6 309.4h0.85v0.85h-0.85zM347.3 307.7h0.85v0.85h-0.85zM350.5 290.7h0.85v0.85h-0.85zM319.9 287.8h0.85v0.85h-0.85zM341.1 299.8h0.85v0.85h-0.85zM331.1 304.7h0.85v0.85h-0.85zM325.8 301.6h0.85v0.85h-0.85zM332.8 288.0h0.85v0.85h-0.85zM345.5 289.3h0.85v0.85h-0.85zM346.4 306.1h0.85v0.85h-0.85zM333.5 297.1h0.85v0.85h-0.85zM325.3 288.0h0.85v0.85h-0.85zM342.7 294.8h0.85v0.85h-0.85zM338.0 294.7h0.85v0.85h-0.85zM327.5 288.7h0.85v0.85h-0.85zM345.1 296.6h0.85v0.85h-0.85zM323.4 309.3h0.85v0.85h-0.85zM323.5 290.6h0.85v0.85h-0.85zM323.6 300.2h0.85v0.85h-0.85zM345.6 284.9h0.85v0.85h-0.85zM350.8 304.4h0.85v0.85h-0.85zM347.5 296.2h0.85v0.85h-0.85zM333.5 286.7h0.85v0.85h-0.85zM327.3 309.3h0.85v0.85h-0.85zM328.1 310.1h0.85v0.85h-0.85zM347.6 310.7h0.85v0.85h-0.85zM323.0 296.3h0.85v0.85h-0.85zM347.6 293.0h0.85v0.85h-0.85zM326.7 284.6h0.85v0.85h-0.85zM336.9 300.0h0.85v0.85h-0.85zM325.5 291.5h0.85v0.85h-0.85zM340.5 289.0h0.85v0.85h-0.85zM345.9 309.3h0.85v0.85h-0.85zM332.9 287.8h0.85v0.85h-0.85zM338.3 292.6h0.85v0.85h-0.85zM321.7 304.6h0.85v0.85h-0.85zM337.9 291.9h0.85v0.85h-0.85zM326.8 305.0h0.85v0.85h-0.85zM350.5 294.2h0.85v0.85h-0.85zM338.8 290.4h0.85v0.85h-0.85zM334.5 300.8h0.85v0.85h-0.85zM328.8 301.5h0.85v0.85h-0.85zM337.2 285.3h0.85v0.85h-0.85z" fill="#2a2a98" fill-opacity="0.75"/>
<g filter="url(#fb)" opacity="0.22" fill="#3434b0"><rect x="318.5" y="314" width="35.5" height="28.5"/></g>
<path d="M322.3 325.7h0.85v0.85h-0.85zM323.4 329.6h0.85v0.85h-0.85zM339.7 331.9h0.85v0.85h-0.85zM350.3 331.4h0.85v0.85h-0.85zM346.2 316.9h0.85v0.85h-0.85zM349.9 340.9h0.85v0.85h-0.85zM339.6 337.9h0.85v0.85h-0.85zM338.1 326.3h0.85v0.85h-0.85zM323.9 327.7h0.85v0.85h-0.85zM344.0 336.9h0.85v0.85h-0.85zM350.6 328.8h0.85v0.85h-0.85zM352.5 324.5h0.85v0.85h-0.85zM318.7 326.1h0.85v0.85h-0.85zM337.7 336.3h0.85v0.85h-0.85zM326.5 314.2h0.85v0.85h-0.85zM344.4 319.1h0.85v0.85h-0.85zM349.1 330.2h0.85v0.85h-0.85zM323.0 328.9h0.85v0.85h-0.85zM346.2 320.1h0.85v0.85h-0.85zM352.9 315.2h0.85v0.85h-0.85zM323.4 331.0h0.85v0.85h-0.85zM342.7 331.3h0.85v0.85h-0.85zM351.7 319.4h0.85v0.85h-0.85zM319.7 329.4h0.85v0.85h-0.85zM330.8 325.2h0.85v0.85h-0.85zM332.4 339.5h0.85v0.85h-0.85zM328.4 333.9h0.85v0.85h-0.85zM338.7 321.9h0.85v0.85h-0.85zM351.3 321.0h0.85v0.85h-0.85zM329.0 319.2h0.85v0.85h-0.85zM343.6 333.9h0.85v0.85h-0.85zM331.3 317.0h0.85v0.85h-0.85zM339.7 323.5h0.85v0.85h-0.85zM338.1 332.8h0.85v0.85h-0.85zM318.0 314.8h0.85v0.85h-0.85zM347.9 339.1h0.85v0.85h-0.85zM321.2 320.1h0.85v0.85h-0.85zM333.6 338.1h0.85v0.85h-0.85zM329.3 341.7h0.85v0.85h-0.85zM321.3 340.2h0.85v0.85h-0.85zM320.1 331.3h0.85v0.85h-0.85zM353.5 334.8h0.85v0.85h-0.85zM351.3 323.9h0.85v0.85h-0.85zM352.9 340.2h0.85v0.85h-0.85zM328.0 336.3h0.85v0.85h-0.85zM351.5 319.8h0.85v0.85h-0.85zM332.3 336.2h0.85v0.85h-0.85zM338.9 340.6h0.85v0.85h-0.85zM333.8 326.7h0.85v0.85h-0.85zM324.1 321.6h0.85v0.85h-0.85zM349.9 321.2h0.85v0.85h-0.85zM350.7 337.2h0.85v0.85h-0.85zM338.8 322.4h0.85v0.85h-0.85zM318.1 317.0h0.85v0.85h-0.85zM348.2 341.8h0.85v0.85h-0.85zM353.1 321.8h0.85v0.85h-0.85zM352.2 326.5h0.85v0.85h-0.85zM331.4 340.3h0.85v0.85h-0.85zM347.9 333.5h0.85v0.85h-0.85zM328.4 316.7h0.85v0.85h-0.85zM324.7 321.3h0.85v0.85h-0.85zM325.0 330.3h0.85v0.85h-0.85zM329.5 319.9h0.85v0.85h-0.85zM350.0 324.4h0.85v0.85h-0.85zM318.1 313.8h0.85v0.85h-0.85zM338.1 314.4h0.85v0.85h-0.85zM338.3 314.3h0.85v0.85h-0.85zM335.1 331.8h0.85v0.85h-0.85zM337.7 319.9h0.85v0.85h-0.85zM348.6 342.2h0.85v0.85h-0.85zM347.7 341.0h0.85v0.85h-0.85zM353.5 324.3h0.85v0.85h-0.85zM337.8 325.7h0.85v0.85h-0.85zM346.7 318.5h0.85v0.85h-0.85zM326.3 326.8h0.85v0.85h-0.85zM337.9 342.7h0.85v0.85h-0.85zM330.3 313.6h0.85v0.85h-0.85zM332.2 339.4h0.85v0.85h-0.85zM321.5 328.8h0.85v0.85h-0.85zM339.9 338.3h0.85v0.85h-0.85zM329.9 331.4h0.85v0.85h-0.85zM352.8 342.2h0.85v0.85h-0.85zM338.6 323.5h0.85v0.85h-0.85zM341.7 335.0h0.85v0.85h-0.85zM342.8 333.4h0.85v0.85h-0.85zM332.0 334.6h0.85v0.85h-0.85zM330.8 320.4h0.85v0.85h-0.85zM321.6 329.8h0.85v0.85h-0.85zM324.2 321.8h0.85v0.85h-0.85zM328.9 324.5h0.85v0.85h-0.85zM333.2 342.3h0.85v0.85h-0.85zM337.2 329.7h0.85v0.85h-0.85zM332.6 329.7h0.85v0.85h-0.85zM347.7 328.9h0.85v0.85h-0.85zM336.7 323.9h0.85v0.85h-0.85zM324.8 319.8h0.85v0.85h-0.85zM321.3 321.9h0.85v0.85h-0.85zM319.5 325.8h0.85v0.85h-0.85zM338.9 316.9h0.85v0.85h-0.85zM345.6 326.8h0.85v0.85h-0.85zM340.8 326.2h0.85v0.85h-0.85zM347.0 333.5h0.85v0.85h-0.85zM322.4 329.7h0.85v0.85h-0.85zM327.7 335.5h0.85v0.85h-0.85zM331.5 320.1h0.85v0.85h-0.85zM319.2 342.6h0.85v0.85h-0.85zM322.3 320.9h0.85v0.85h-0.85zM352.0 315.0h0.85v0.85h-0.85zM333.0 326.3h0.85v0.85h-0.85zM342.8 336.6h0.85v0.85h-0.85zM353.6 322.9h0.85v0.85h-0.85zM321.1 319.9h0.85v0.85h-0.85zM318.2 321.4h0.85v0.85h-0.85zM340.6 339.9h0.85v0.85h-0.85zM321.6 321.4h0.85v0.85h-0.85zM350.5 330.8h0.85v0.85h-0.85zM332.6 315.6h0.85v0.85h-0.85zM320.1 319.9h0.85v0.85h-0.85zM340.5 315.2h0.85v0.85h-0.85zM336.3 337.6h0.85v0.85h-0.85zM318.1 322.0h0.85v0.85h-0.85zM333.1 331.5h0.85v0.85h-0.85zM344.9 333.5h0.85v0.85h-0.85zM333.8 323.5h0.85v0.85h-0.85zM340.9 327.1h0.85v0.85h-0.85zM351.9 329.1h0.85v0.85h-0.85zM339.4 333.1h0.85v0.85h-0.85zM335.6 328.0h0.85v0.85h-0.85zM342.2 331.2h0.85v0.85h-0.85zM354.4 322.5h0.85v0.85h-0.85zM336.0 342.2h0.85v0.85h-0.85zM347.7 329.8h0.85v0.85h-0.85zM329.1 318.8h0.85v0.85h-0.85zM333.2 326.1h0.85v0.85h-0.85zM333.8 321.1h0.85v0.85h-0.85zM335.5 330.4h0.85v0.85h-0.85zM321.7 332.9h0.85v0.85h-0.85zM343.9 319.3h0.85v0.85h-0.85zM327.1 314.6h0.85v0.85h-0.85zM335.2 333.4h0.85v0.85h-0.85zM333.0 330.9h0.85v0.85h-0.85zM340.1 314.8h0.85v0.85h-0.85zM320.0 328.5h0.85v0.85h-0.85zM351.8 334.3h0.85v0.85h-0.85zM334.3 321.2h0.85v0.85h-0.85zM322.8 332.6h0.85v0.85h-0.85zM345.9 325.1h0.85v0.85h-0.85zM321.1 321.7h0.85v0.85h-0.85zM343.8 336.2h0.85v0.85h-0.85zM332.6 339.7h0.85v0.85h-0.85zM332.2 314.2h0.85v0.85h-0.85zM325.5 339.8h0.85v0.85h-0.85zM343.8 316.1h0.85v0.85h-0.85zM328.5 325.1h0.85v0.85h-0.85zM335.6 314.2h0.85v0.85h-0.85zM351.6 329.2h0.85v0.85h-0.85zM327.6 314.4h0.85v0.85h-0.85zM338.8 341.0h0.85v0.85h-0.85zM344.2 338.8h0.85v0.85h-0.85zM349.9 333.1h0.85v0.85h-0.85zM320.1 322.7h0.85v0.85h-0.85zM339.2 325.8h0.85v0.85h-0.85zM325.9 315.5h0.85v0.85h-0.85zM349.6 333.2h0.85v0.85h-0.85zM328.9 327.4h0.85v0.85h-0.85zM349.8 317.8h0.85v0.85h-0.85zM341.0 320.4h0.85v0.85h-0.85zM351.0 337.1h0.85v0.85h-0.85zM352.6 324.8h0.85v0.85h-0.85zM336.5 323.0h0.85v0.85h-0.85zM330.8 341.6h0.85v0.85h-0.85zM353.4 342.8h0.85v0.85h-0.85zM351.2 327.9h0.85v0.85h-0.85zM342.1 340.3h0.85v0.85h-0.85zM333.7 340.6h0.85v0.85h-0.85zM347.1 321.9h0.85v0.85h-0.85zM331.1 333.9h0.85v0.85h-0.85zM324.0 321.1h0.85v0.85h-0.85zM325.1 316.6h0.85v0.85h-0.85zM351.2 342.9h0.85v0.85h-0.85zM347.9 328.4h0.85v0.85h-0.85zM345.2 333.8h0.85v0.85h-0.85zM334.1 328.9h0.85v0.85h-0.85zM322.7 320.6h0.85v0.85h-0.85zM330.5 324.0h0.85v0.85h-0.85zM342.1 320.6h0.85v0.85h-0.85zM326.7 339.3h0.85v0.85h-0.85zM346.5 341.0h0.85v0.85h-0.85zM346.4 319.3h0.85v0.85h-0.85zM335.8 338.1h0.85v0.85h-0.85zM347.4 320.2h0.85v0.85h-0.85zM335.6 330.9h0.85v0.85h-0.85zM318.4 320.7h0.85v0.85h-0.85zM345.1 333.2h0.85v0.85h-0.85zM334.3 330.3h0.85v0.85h-0.85zM337.3 323.7h0.85v0.85h-0.85zM321.1 335.4h0.85v0.85h-0.85zM346.2 326.3h0.85v0.85h-0.85zM346.1 337.9h0.85v0.85h-0.85zM343.2 337.3h0.85v0.85h-0.85zM353.3 314.7h0.85v0.85h-0.85zM352.4 326.8h0.85v0.85h-0.85zM346.4 335.2h0.85v0.85h-0.85zM321.6 330.8h0.85v0.85h-0.85zM321.3 335.1h0.85v0.85h-0.85zM330.4 324.6h0.85v0.85h-0.85zM328.0 337.4h0.85v0.85h-0.85zM341.4 322.3h0.85v0.85h-0.85zM345.1 319.0h0.85v0.85h-0.85zM347.3 331.3h0.85v0.85h-0.85zM346.0 331.7h0.85v0.85h-0.85zM354.0 334.0h0.85v0.85h-0.85zM334.9 330.9h0.85v0.85h-0.85zM338.7 321.9h0.85v0.85h-0.85zM329.2 337.1h0.85v0.85h-0.85zM347.9 342.0h0.85v0.85h-0.85zM343.0 328.4h0.85v0.85h-0.85zM332.4 334.3h0.85v0.85h-0.85zM341.7 341.3h0.85v0.85h-0.85zM345.3 324.8h0.85v0.85h-0.85zM328.2 314.8h0.85v0.85h-0.85zM346.5 326.1h0.85v0.85h-0.85zM332.4 315.1h0.85v0.85h-0.85zM336.1 340.0h0.85v0.85h-0.85zM328.1 335.4h0.85v0.85h-0.85zM345.7 333.0h0.85v0.85h-0.85zM339.8 320.9h0.85v0.85h-0.85zM342.6 330.7h0.85v0.85h-0.85zM353.3 328.7h0.85v0.85h-0.85zM330.9 340.2h0.85v0.85h-0.85zM340.8 323.6h0.85v0.85h-0.85zM341.7 318.0h0.85v0.85h-0.85zM324.9 339.6h0.85v0.85h-0.85zM334.9 337.2h0.85v0.85h-0.85zM325.8 327.4h0.85v0.85h-0.85zM326.7 337.2h0.85v0.85h-0.85zM339.8 325.1h0.85v0.85h-0.85zM332.0 319.7h0.85v0.85h-0.85zM325.7 333.9h0.85v0.85h-0.85zM329.4 316.6h0.85v0.85h-0.85zM332.1 326.9h0.85v0.85h-0.85zM354.1 324.9h0.85v0.85h-0.85zM332.7 342.2h0.85v0.85h-0.85zM344.3 327.0h0.85v0.85h-0.85zM332.5 320.1h0.85v0.85h-0.85zM323.6 327.4h0.85v0.85h-0.85zM341.4 316.6h0.85v0.85h-0.85zM335.4 318.6h0.85v0.85h-0.85zM340.0 323.7h0.85v0.85h-0.85zM342.3 336.6h0.85v0.85h-0.85zM332.8 324.8h0.85v0.85h-0.85zM320.9 319.7h0.85v0.85h-0.85zM340.7 337.3h0.85v0.85h-0.85zM323.1 342.3h0.85v0.85h-0.85zM351.4 324.3h0.85v0.85h-0.85zM337.7 333.3h0.85v0.85h-0.85zM330.0 324.3h0.85v0.85h-0.85zM344.3 327.8h0.85v0.85h-0.85zM333.9 330.1h0.85v0.85h-0.85zM322.2 327.4h0.85v0.85h-0.85z" fill="#2c2ca0" fill-opacity="0.5"/>
<path d="M336.3 319.5h0.85v0.85h-0.85zM322.6 314.6h0.85v0.85h-0.85zM326.4 314.9h0.85v0.85h-0.85zM332.9 310.5h0.85v0.85h-0.85zM344.9 315.5h0.85v0.85h-0.85zM350.9 316.4h0.85v0.85h-0.85zM334.7 310.5h0.85v0.85h-0.85zM330.6 319.3h0.85v0.85h-0.85zM338.8 326.6h0.85v0.85h-0.85zM343.3 312.3h0.85v0.85h-0.85zM327.8 313.4h0.85v0.85h-0.85zM349.0 323.2h0.85v0.85h-0.85zM356.2 309.0h0.85v0.85h-0.85zM337.6 318.9h0.85v0.85h-0.85zM339.8 313.3h0.85v0.85h-0.85zM335.6 312.6h0.85v0.85h-0.85zM337.1 314.1h0.85v0.85h-0.85zM355.2 322.3h0.85v0.85h-0.85zM327.1 315.4h0.85v0.85h-0.85zM355.2 314.2h0.85v0.85h-0.85zM340.4 325.3h0.85v0.85h-0.85zM329.6 320.4h0.85v0.85h-0.85zM335.2 320.0h0.85v0.85h-0.85zM335.4 320.5h0.85v0.85h-0.85zM345.6 327.3h0.85v0.85h-0.85zM328.7 321.3h0.85v0.85h-0.85zM343.7 307.6h0.85v0.85h-0.85zM351.7 328.4h0.85v0.85h-0.85zM355.4 311.2h0.85v0.85h-0.85zM329.0 325.9h0.85v0.85h-0.85zM336.4 314.8h0.85v0.85h-0.85zM326.9 322.5h0.85v0.85h-0.85zM342.8 305.0h0.85v0.85h-0.85zM347.1 315.3h0.85v0.85h-0.85zM338.6 315.8h0.85v0.85h-0.85zM339.3 313.5h0.85v0.85h-0.85zM327.2 316.0h0.85v0.85h-0.85zM350.8 319.7h0.85v0.85h-0.85zM339.7 311.9h0.85v0.85h-0.85zM338.5 326.3h0.85v0.85h-0.85zM336.1 315.8h0.85v0.85h-0.85zM329.6 329.5h0.85v0.85h-0.85zM336.7 320.9h0.85v0.85h-0.85zM318.1 319.8h0.85v0.85h-0.85zM341.6 310.5h0.85v0.85h-0.85zM336.8 314.8h0.85v0.85h-0.85zM346.9 318.3h0.85v0.85h-0.85zM334.3 313.5h0.85v0.85h-0.85zM356.9 319.1h0.85v0.85h-0.85zM339.3 317.9h0.85v0.85h-0.85zM341.5 317.2h0.85v0.85h-0.85zM335.1 323.7h0.85v0.85h-0.85zM333.4 311.9h0.85v0.85h-0.85zM329.1 315.5h0.85v0.85h-0.85zM333.8 314.6h0.85v0.85h-0.85zM337.8 315.9h0.85v0.85h-0.85zM344.1 314.1h0.85v0.85h-0.85zM331.9 314.7h0.85v0.85h-0.85zM330.6 317.6h0.85v0.85h-0.85zM327.0 307.9h0.85v0.85h-0.85zM353.1 302.6h0.85v0.85h-0.85zM325.9 318.1h0.85v0.85h-0.85zM333.1 320.0h0.85v0.85h-0.85zM353.6 319.4h0.85v0.85h-0.85zM332.0 323.3h0.85v0.85h-0.85zM336.4 325.5h0.85v0.85h-0.85zM329.4 316.1h0.85v0.85h-0.85zM337.1 316.2h0.85v0.85h-0.85zM355.8 323.6h0.85v0.85h-0.85zM346.7 319.0h0.85v0.85h-0.85zM336.7 314.6h0.85v0.85h-0.85zM344.2 314.3h0.85v0.85h-0.85zM348.4 314.5h0.85v0.85h-0.85zM326.3 311.8h0.85v0.85h-0.85zM348.1 319.8h0.85v0.85h-0.85zM337.9 305.4h0.85v0.85h-0.85zM336.5 307.0h0.85v0.85h-0.85zM345.1 320.4h0.85v0.85h-0.85zM335.1 315.9h0.85v0.85h-0.85zM338.5 313.2h0.85v0.85h-0.85zM330.8 314.1h0.85v0.85h-0.85zM350.8 328.7h0.85v0.85h-0.85zM326.2 309.3h0.85v0.85h-0.85zM327.9 311.2h0.85v0.85h-0.85zM340.5 314.4h0.85v0.85h-0.85zM332.9 318.9h0.85v0.85h-0.85zM329.8 312.6h0.85v0.85h-0.85zM344.4 313.9h0.85v0.85h-0.85zM335.3 329.3h0.85v0.85h-0.85zM336.1 309.8h0.85v0.85h-0.85zM326.6 323.0h0.85v0.85h-0.85zM347.5 323.7h0.85v0.85h-0.85zM340.6 326.8h0.85v0.85h-0.85zM357.8 322.0h0.85v0.85h-0.85zM339.4 315.0h0.85v0.85h-0.85zM349.9 327.2h0.85v0.85h-0.85zM341.5 311.5h0.85v0.85h-0.85zM342.1 308.5h0.85v0.85h-0.85zM338.3 325.2h0.85v0.85h-0.85zM333.2 317.7h0.85v0.85h-0.85zM347.4 308.3h0.85v0.85h-0.85zM338.4 322.3h0.85v0.85h-0.85zM334.1 310.7h0.85v0.85h-0.85zM337.4 323.3h0.85v0.85h-0.85zM342.3 315.2h0.85v0.85h-0.85zM337.9 322.9h0.85v0.85h-0.85zM369.2 314.2h0.85v0.85h-0.85zM352.3 316.5h0.85v0.85h-0.85zM342.4 319.1h0.85v0.85h-0.85zM345.7 321.3h0.85v0.85h-0.85zM364.0 315.4h0.85v0.85h-0.85zM323.6 325.5h0.85v0.85h-0.85zM336.5 313.8h0.85v0.85h-0.85zM344.5 313.2h0.85v0.85h-0.85zM343.3 315.6h0.85v0.85h-0.85zM347.7 311.8h0.85v0.85h-0.85zM331.7 315.6h0.85v0.85h-0.85zM321.2 316.7h0.85v0.85h-0.85zM348.9 323.3h0.85v0.85h-0.85zM321.2 308.7h0.85v0.85h-0.85zM332.3 321.7h0.85v0.85h-0.85zM341.0 311.7h0.85v0.85h-0.85zM324.6 324.4h0.85v0.85h-0.85zM331.1 310.4h0.85v0.85h-0.85zM354.9 317.0h0.85v0.85h-0.85zM331.7 318.3h0.85v0.85h-0.85zM333.9 318.1h0.85v0.85h-0.85zM347.6 307.0h0.85v0.85h-0.85zM352.6 314.1h0.85v0.85h-0.85zM343.6 321.3h0.85v0.85h-0.85zM338.4 316.0h0.85v0.85h-0.85zM334.9 318.9h0.85v0.85h-0.85zM341.8 320.2h0.85v0.85h-0.85zM335.3 314.5h0.85v0.85h-0.85zM345.1 311.3h0.85v0.85h-0.85zM340.1 318.5h0.85v0.85h-0.85zM328.8 315.1h0.85v0.85h-0.85zM333.2 316.0h0.85v0.85h-0.85zM330.7 321.6h0.85v0.85h-0.85zM348.2 319.6h0.85v0.85h-0.85zM345.2 309.3h0.85v0.85h-0.85zM347.7 322.1h0.85v0.85h-0.85zM342.8 317.7h0.85v0.85h-0.85zM350.3 316.4h0.85v0.85h-0.85zM341.6 320.4h0.85v0.85h-0.85zM353.4 324.8h0.85v0.85h-0.85zM347.2 323.1h0.85v0.85h-0.85zM341.8 309.9h0.85v0.85h-0.85zM330.2 313.3h0.85v0.85h-0.85zM344.4 307.7h0.85v0.85h-0.85zM351.8 320.4h0.85v0.85h-0.85zM345.3 321.3h0.85v0.85h-0.85zM342.7 322.3h0.85v0.85h-0.85zM328.9 307.9h0.85v0.85h-0.85zM336.5 317.8h0.85v0.85h-0.85zM324.8 313.3h0.85v0.85h-0.85zM339.4 307.5h0.85v0.85h-0.85zM361.6 311.3h0.85v0.85h-0.85zM336.7 305.1h0.85v0.85h-0.85zM342.9 319.7h0.85v0.85h-0.85zM334.8 308.3h0.85v0.85h-0.85zM349.2 308.1h0.85v0.85h-0.85zM335.0 319.2h0.85v0.85h-0.85zM335.3 313.6h0.85v0.85h-0.85zM330.0 316.2h0.85v0.85h-0.85zM326.1 321.1h0.85v0.85h-0.85zM328.7 309.8h0.85v0.85h-0.85zM357.7 320.7h0.85v0.85h-0.85zM331.9 303.4h0.85v0.85h-0.85zM327.0 310.4h0.85v0.85h-0.85zM350.6 309.6h0.85v0.85h-0.85zM336.1 314.7h0.85v0.85h-0.85zM353.7 317.4h0.85v0.85h-0.85zM343.7 311.1h0.85v0.85h-0.85zM340.6 322.3h0.85v0.85h-0.85zM347.1 307.5h0.85v0.85h-0.85zM342.6 318.9h0.85v0.85h-0.85zM342.3 325.6h0.85v0.85h-0.85zM337.9 328.6h0.85v0.85h-0.85zM332.4 318.1h0.85v0.85h-0.85zM333.3 317.7h0.85v0.85h-0.85zM339.6 315.1h0.85v0.85h-0.85zM329.6 318.9h0.85v0.85h-0.85zM344.9 317.0h0.85v0.85h-0.85zM357.7 315.2h0.85v0.85h-0.85zM320.1 321.8h0.85v0.85h-0.85zM354.5 309.5h0.85v0.85h-0.85zM336.1 308.3h0.85v0.85h-0.85zM322.2 315.3h0.85v0.85h-0.85zM347.1 327.6h0.85v0.85h-0.85zM338.3 309.5h0.85v0.85h-0.85zM342.7 312.0h0.85v0.85h-0.85zM327.8 321.0h0.85v0.85h-0.85zM345.3 315.2h0.85v0.85h-0.85zM346.4 308.8h0.85v0.85h-0.85zM345.4 313.6h0.85v0.85h-0.85zM327.2 305.2h0.85v0.85h-0.85zM349.5 309.8h0.85v0.85h-0.85zM345.6 308.8h0.85v0.85h-0.85zM331.8 314.7h0.85v0.85h-0.85zM340.8 315.4h0.85v0.85h-0.85zM335.6 320.2h0.85v0.85h-0.85zM341.5 312.8h0.85v0.85h-0.85zM338.6 312.1h0.85v0.85h-0.85zM323.7 329.6h0.85v0.85h-0.85zM347.3 321.6h0.85v0.85h-0.85zM335.4 326.0h0.85v0.85h-0.85zM351.7 319.7h0.85v0.85h-0.85zM336.8 331.1h0.85v0.85h-0.85zM330.9 323.9h0.85v0.85h-0.85zM361.3 318.6h0.85v0.85h-0.85zM323.2 306.1h0.85v0.85h-0.85zM337.9 313.9h0.85v0.85h-0.85zM337.6 310.1h0.85v0.85h-0.85zM344.4 328.0h0.85v0.85h-0.85zM333.2 311.2h0.85v0.85h-0.85zM351.0 319.8h0.85v0.85h-0.85zM344.9 317.6h0.85v0.85h-0.85zM343.9 317.1h0.85v0.85h-0.85zM337.9 311.3h0.85v0.85h-0.85z" fill="#2c2ca0" fill-opacity="0.6"/>
<g filter="url(#fb)" opacity="0.5" fill="#3434b0"><ellipse cx="362.5" cy="312" rx="7" ry="26"/></g>
<path d="M364.8 314.2h0.85v0.85h-0.85zM363.7 296.3h0.85v0.85h-0.85zM359.0 302.2h0.85v0.85h-0.85zM366.2 332.4h0.85v0.85h-0.85zM365.8 308.1h0.85v0.85h-0.85zM362.6 319.7h0.85v0.85h-0.85zM360.8 323.9h0.85v0.85h-0.85zM361.1 314.5h0.85v0.85h-0.85zM363.5 294.8h0.85v0.85h-0.85zM361.7 317.8h0.85v0.85h-0.85zM367.2 302.1h0.85v0.85h-0.85zM362.2 306.8h0.85v0.85h-0.85zM366.8 310.1h0.85v0.85h-0.85zM371.7 321.7h0.85v0.85h-0.85zM361.3 307.7h0.85v0.85h-0.85zM365.6 304.7h0.85v0.85h-0.85zM361.5 312.8h0.85v0.85h-0.85zM363.4 335.7h0.85v0.85h-0.85zM364.3 315.7h0.85v0.85h-0.85zM366.2 321.7h0.85v0.85h-0.85zM366.0 331.0h0.85v0.85h-0.85zM356.2 321.3h0.85v0.85h-0.85zM370.0 298.4h0.85v0.85h-0.85zM363.2 325.7h0.85v0.85h-0.85zM362.9 304.6h0.85v0.85h-0.85zM364.9 310.9h0.85v0.85h-0.85zM360.1 308.4h0.85v0.85h-0.85zM361.5 305.3h0.85v0.85h-0.85zM357.0 324.0h0.85v0.85h-0.85zM362.9 309.2h0.85v0.85h-0.85zM363.1 322.3h0.85v0.85h-0.85zM362.6 297.1h0.85v0.85h-0.85zM360.7 293.7h0.85v0.85h-0.85zM362.4 329.0h0.85v0.85h-0.85zM365.3 315.3h0.85v0.85h-0.85zM359.8 309.5h0.85v0.85h-0.85zM362.7 307.0h0.85v0.85h-0.85zM357.0 321.5h0.85v0.85h-0.85zM362.9 332.4h0.85v0.85h-0.85zM361.1 317.2h0.85v0.85h-0.85zM366.0 325.7h0.85v0.85h-0.85zM364.3 298.7h0.85v0.85h-0.85zM365.4 301.5h0.85v0.85h-0.85zM363.2 292.5h0.85v0.85h-0.85zM358.4 306.7h0.85v0.85h-0.85zM363.4 322.5h0.85v0.85h-0.85zM363.5 318.0h0.85v0.85h-0.85zM359.7 321.3h0.85v0.85h-0.85zM355.9 306.3h0.85v0.85h-0.85zM361.1 340.3h0.85v0.85h-0.85zM363.2 308.2h0.85v0.85h-0.85zM360.0 310.7h0.85v0.85h-0.85zM364.3 318.4h0.85v0.85h-0.85zM362.1 316.4h0.85v0.85h-0.85zM368.3 318.5h0.85v0.85h-0.85zM366.6 297.0h0.85v0.85h-0.85zM362.7 316.2h0.85v0.85h-0.85zM364.1 305.9h0.85v0.85h-0.85zM358.9 330.4h0.85v0.85h-0.85zM358.9 312.9h0.85v0.85h-0.85zM363.0 319.8h0.85v0.85h-0.85zM360.2 289.7h0.85v0.85h-0.85zM364.4 317.0h0.85v0.85h-0.85zM359.3 313.5h0.85v0.85h-0.85zM357.9 316.0h0.85v0.85h-0.85zM361.8 321.0h0.85v0.85h-0.85zM356.4 325.7h0.85v0.85h-0.85zM364.8 326.4h0.85v0.85h-0.85zM363.7 300.5h0.85v0.85h-0.85zM357.4 337.6h0.85v0.85h-0.85zM364.3 275.0h0.85v0.85h-0.85zM360.8 328.1h0.85v0.85h-0.85zM355.6 322.1h0.85v0.85h-0.85zM358.8 304.6h0.85v0.85h-0.85zM354.7 312.7h0.85v0.85h-0.85zM360.9 320.1h0.85v0.85h-0.85zM363.2 323.0h0.85v0.85h-0.85zM369.9 333.6h0.85v0.85h-0.85zM356.1 307.7h0.85v0.85h-0.85zM357.9 319.1h0.85v0.85h-0.85zM363.1 340.0h0.85v0.85h-0.85zM358.9 320.9h0.85v0.85h-0.85zM361.7 290.9h0.85v0.85h-0.85zM366.0 314.8h0.85v0.85h-0.85zM356.2 325.3h0.85v0.85h-0.85zM359.9 318.7h0.85v0.85h-0.85zM359.0 316.4h0.85v0.85h-0.85zM361.7 335.6h0.85v0.85h-0.85zM359.1 328.7h0.85v0.85h-0.85zM361.4 320.6h0.85v0.85h-0.85zM363.2 294.7h0.85v0.85h-0.85zM360.7 299.2h0.85v0.85h-0.85zM363.9 327.6h0.85v0.85h-0.85zM365.1 296.8h0.85v0.85h-0.85zM357.8 305.8h0.85v0.85h-0.85zM362.6 318.6h0.85v0.85h-0.85zM362.4 313.1h0.85v0.85h-0.85zM361.9 327.1h0.85v0.85h-0.85zM360.3 297.4h0.85v0.85h-0.85zM367.4 294.5h0.85v0.85h-0.85zM361.6 324.0h0.85v0.85h-0.85zM364.3 322.5h0.85v0.85h-0.85zM369.1 333.4h0.85v0.85h-0.85zM358.4 308.7h0.85v0.85h-0.85zM369.2 324.3h0.85v0.85h-0.85zM362.2 335.6h0.85v0.85h-0.85zM362.8 324.1h0.85v0.85h-0.85zM364.8 326.3h0.85v0.85h-0.85zM361.0 330.3h0.85v0.85h-0.85zM361.5 306.6h0.85v0.85h-0.85zM364.9 325.6h0.85v0.85h-0.85zM358.9 322.7h0.85v0.85h-0.85zM360.6 320.3h0.85v0.85h-0.85zM366.0 328.5h0.85v0.85h-0.85zM358.4 301.3h0.85v0.85h-0.85zM359.3 304.0h0.85v0.85h-0.85zM364.6 340.1h0.85v0.85h-0.85zM358.2 312.3h0.85v0.85h-0.85zM361.8 326.6h0.85v0.85h-0.85zM365.5 313.5h0.85v0.85h-0.85zM362.6 309.2h0.85v0.85h-0.85zM359.7 309.4h0.85v0.85h-0.85zM362.3 325.2h0.85v0.85h-0.85zM358.0 325.4h0.85v0.85h-0.85zM356.2 328.1h0.85v0.85h-0.85zM365.9 334.5h0.85v0.85h-0.85zM356.3 323.3h0.85v0.85h-0.85zM359.9 320.7h0.85v0.85h-0.85zM365.9 304.5h0.85v0.85h-0.85zM361.3 300.6h0.85v0.85h-0.85zM359.8 285.9h0.85v0.85h-0.85zM361.5 283.4h0.85v0.85h-0.85zM360.3 323.2h0.85v0.85h-0.85zM366.9 299.8h0.85v0.85h-0.85zM364.9 306.7h0.85v0.85h-0.85zM354.7 330.0h0.85v0.85h-0.85zM362.6 321.9h0.85v0.85h-0.85zM363.4 324.0h0.85v0.85h-0.85zM359.0 320.8h0.85v0.85h-0.85zM361.1 315.8h0.85v0.85h-0.85zM359.7 327.0h0.85v0.85h-0.85zM365.8 319.6h0.85v0.85h-0.85zM366.2 305.2h0.85v0.85h-0.85zM368.5 307.1h0.85v0.85h-0.85zM361.3 315.1h0.85v0.85h-0.85zM366.3 320.7h0.85v0.85h-0.85zM363.7 306.0h0.85v0.85h-0.85zM366.0 329.9h0.85v0.85h-0.85zM358.2 311.7h0.85v0.85h-0.85zM365.1 326.0h0.85v0.85h-0.85zM357.1 306.6h0.85v0.85h-0.85zM363.1 312.3h0.85v0.85h-0.85zM363.5 305.8h0.85v0.85h-0.85zM359.2 320.6h0.85v0.85h-0.85zM363.3 302.9h0.85v0.85h-0.85zM365.6 320.9h0.85v0.85h-0.85zM362.4 316.7h0.85v0.85h-0.85zM365.3 318.7h0.85v0.85h-0.85zM361.9 315.1h0.85v0.85h-0.85zM366.9 334.6h0.85v0.85h-0.85zM352.6 305.9h0.85v0.85h-0.85zM353.6 307.2h0.85v0.85h-0.85zM360.8 303.9h0.85v0.85h-0.85zM363.9 317.1h0.85v0.85h-0.85zM363.4 297.9h0.85v0.85h-0.85zM361.4 321.9h0.85v0.85h-0.85zM356.9 293.7h0.85v0.85h-0.85zM359.7 313.3h0.85v0.85h-0.85zM364.3 332.2h0.85v0.85h-0.85zM364.1 311.5h0.85v0.85h-0.85zM362.1 321.6h0.85v0.85h-0.85zM362.6 323.3h0.85v0.85h-0.85zM359.8 319.4h0.85v0.85h-0.85zM360.7 307.4h0.85v0.85h-0.85zM361.6 327.4h0.85v0.85h-0.85zM362.6 318.4h0.85v0.85h-0.85zM362.3 315.6h0.85v0.85h-0.85zM361.5 311.6h0.85v0.85h-0.85zM354.7 318.2h0.85v0.85h-0.85zM359.7 308.2h0.85v0.85h-0.85zM359.0 322.3h0.85v0.85h-0.85zM361.5 318.6h0.85v0.85h-0.85zM363.1 320.5h0.85v0.85h-0.85zM362.8 325.4h0.85v0.85h-0.85zM365.9 325.0h0.85v0.85h-0.85zM363.3 328.6h0.85v0.85h-0.85zM360.6 301.8h0.85v0.85h-0.85zM361.7 294.1h0.85v0.85h-0.85zM359.7 317.7h0.85v0.85h-0.85zM367.2 319.9h0.85v0.85h-0.85zM360.0 322.4h0.85v0.85h-0.85zM363.9 318.8h0.85v0.85h-0.85zM365.1 306.5h0.85v0.85h-0.85zM365.9 296.0h0.85v0.85h-0.85zM362.0 323.6h0.85v0.85h-0.85zM363.9 309.2h0.85v0.85h-0.85zM355.3 298.7h0.85v0.85h-0.85zM358.4 317.7h0.85v0.85h-0.85zM368.7 308.7h0.85v0.85h-0.85zM366.9 306.7h0.85v0.85h-0.85zM362.2 318.7h0.85v0.85h-0.85zM369.9 318.7h0.85v0.85h-0.85zM355.0 308.4h0.85v0.85h-0.85zM364.5 312.7h0.85v0.85h-0.85zM364.8 313.2h0.85v0.85h-0.85zM363.2 323.6h0.85v0.85h-0.85zM370.3 314.2h0.85v0.85h-0.85zM359.6 326.0h0.85v0.85h-0.85zM364.8 295.6h0.85v0.85h-0.85zM364.7 308.2h0.85v0.85h-0.85zM362.5 329.3h0.85v0.85h-0.85zM366.4 308.3h0.85v0.85h-0.85zM363.6 309.3h0.85v0.85h-0.85zM354.2 313.8h0.85v0.85h-0.85zM356.4 305.8h0.85v0.85h-0.85zM363.3 302.9h0.85v0.85h-0.85zM360.0 297.9h0.85v0.85h-0.85zM358.1 320.4h0.85v0.85h-0.85zM364.7 292.0h0.85v0.85h-0.85zM365.3 314.0h0.85v0.85h-0.85zM360.0 301.4h0.85v0.85h-0.85zM363.5 307.9h0.85v0.85h-0.85zM359.4 316.9h0.85v0.85h-0.85zM363.8 297.2h0.85v0.85h-0.85zM363.7 315.2h0.85v0.85h-0.85zM364.9 327.5h0.85v0.85h-0.85zM362.5 304.1h0.85v0.85h-0.85zM366.1 322.6h0.85v0.85h-0.85zM359.2 306.6h0.85v0.85h-0.85zM361.6 326.0h0.85v0.85h-0.85zM362.7 336.8h0.85v0.85h-0.85zM357.9 327.8h0.85v0.85h-0.85zM359.6 312.4h0.85v0.85h-0.85zM361.0 332.6h0.85v0.85h-0.85zM367.1 294.7h0.85v0.85h-0.85zM363.5 322.7h0.85v0.85h-0.85zM363.8 319.5h0.85v0.85h-0.85zM357.8 327.5h0.85v0.85h-0.85zM366.0 306.9h0.85v0.85h-0.85zM364.1 324.2h0.85v0.85h-0.85zM363.8 322.6h0.85v0.85h-0.85zM358.3 308.6h0.85v0.85h-0.85zM363.3 323.5h0.85v0.85h-0.85zM365.9 304.7h0.85v0.85h-0.85zM359.5 308.7h0.85v0.85h-0.85zM360.2 334.4h0.85v0.85h-0.85zM367.1 316.6h0.85v0.85h-0.85zM366.8 310.4h0.85v0.85h-0.85zM362.9 315.9h0.85v0.85h-0.85zM362.5 307.5h0.85v0.85h-0.85zM357.5 323.2h0.85v0.85h-0.85zM360.7 306.2h0.85v0.85h-0.85zM358.8 290.8h0.85v0.85h-0.85zM358.6 317.4h0.85v0.85h-0.85zM359.2 292.6h0.85v0.85h-0.85zM358.9 289.6h0.85v0.85h-0.85zM363.7 285.5h0.85v0.85h-0.85zM362.0 332.9h0.85v0.85h-0.85zM362.4 320.8h0.85v0.85h-0.85zM357.4 339.3h0.85v0.85h-0.85z" fill="#2c2ca0" fill-opacity="0.8"/>
<path d="M360.3 298.3h0.85v0.85h-0.85zM368.6 277.4h0.85v0.85h-0.85zM361.1 280.7h0.85v0.85h-0.85zM361.5 286.7h0.85v0.85h-0.85zM362.1 290.2h0.85v0.85h-0.85zM359.9 296.4h0.85v0.85h-0.85zM363.1 281.6h0.85v0.85h-0.85zM363.1 280.7h0.85v0.85h-0.85zM359.1 296.5h0.85v0.85h-0.85zM364.2 293.2h0.85v0.85h-0.85zM368.6 281.9h0.85v0.85h-0.85zM362.2 288.1h0.85v0.85h-0.85zM355.7 296.7h0.85v0.85h-0.85zM361.6 293.0h0.85v0.85h-0.85zM361.3 294.0h0.85v0.85h-0.85zM360.7 274.2h0.85v0.85h-0.85zM362.0 289.8h0.85v0.85h-0.85zM359.4 273.0h0.85v0.85h-0.85zM361.5 293.7h0.85v0.85h-0.85zM366.3 287.8h0.85v0.85h-0.85zM362.8 292.7h0.85v0.85h-0.85zM360.0 284.9h0.85v0.85h-0.85zM359.4 292.2h0.85v0.85h-0.85zM363.9 296.3h0.85v0.85h-0.85zM355.4 284.9h0.85v0.85h-0.85zM363.8 290.2h0.85v0.85h-0.85zM364.4 295.5h0.85v0.85h-0.85zM362.4 297.7h0.85v0.85h-0.85zM365.3 287.2h0.85v0.85h-0.85zM359.0 278.1h0.85v0.85h-0.85zM362.4 304.5h0.85v0.85h-0.85zM362.3 289.2h0.85v0.85h-0.85zM362.5 282.2h0.85v0.85h-0.85zM362.3 303.9h0.85v0.85h-0.85zM362.1 285.1h0.85v0.85h-0.85zM362.2 301.1h0.85v0.85h-0.85zM362.0 301.4h0.85v0.85h-0.85zM361.7 289.9h0.85v0.85h-0.85zM359.2 292.9h0.85v0.85h-0.85zM363.0 301.5h0.85v0.85h-0.85zM364.2 286.3h0.85v0.85h-0.85zM356.7 284.4h0.85v0.85h-0.85zM366.0 269.8h0.85v0.85h-0.85zM360.1 295.4h0.85v0.85h-0.85zM364.5 283.2h0.85v0.85h-0.85zM362.3 286.2h0.85v0.85h-0.85zM361.4 285.1h0.85v0.85h-0.85zM362.0 293.7h0.85v0.85h-0.85zM359.0 297.9h0.85v0.85h-0.85zM357.1 270.3h0.85v0.85h-0.85zM357.4 295.6h0.85v0.85h-0.85zM358.5 295.2h0.85v0.85h-0.85zM361.0 291.0h0.85v0.85h-0.85zM360.8 306.0h0.85v0.85h-0.85zM362.4 275.5h0.85v0.85h-0.85zM358.1 293.7h0.85v0.85h-0.85zM361.8 296.9h0.85v0.85h-0.85zM365.0 289.8h0.85v0.85h-0.85zM357.9 297.0h0.85v0.85h-0.85zM358.5 290.4h0.85v0.85h-0.85zM358.2 295.2h0.85v0.85h-0.85zM366.1 277.5h0.85v0.85h-0.85zM360.2 300.7h0.85v0.85h-0.85zM362.3 314.3h0.85v0.85h-0.85zM363.3 298.7h0.85v0.85h-0.85zM364.3 290.8h0.85v0.85h-0.85zM360.5 290.4h0.85v0.85h-0.85zM363.0 299.6h0.85v0.85h-0.85zM358.5 291.4h0.85v0.85h-0.85zM363.5 293.0h0.85v0.85h-0.85zM360.2 293.8h0.85v0.85h-0.85zM359.3 285.9h0.85v0.85h-0.85zM356.4 286.9h0.85v0.85h-0.85zM364.5 291.1h0.85v0.85h-0.85zM356.9 273.9h0.85v0.85h-0.85zM358.9 272.3h0.85v0.85h-0.85zM359.9 283.9h0.85v0.85h-0.85zM363.0 274.5h0.85v0.85h-0.85zM354.2 291.9h0.85v0.85h-0.85zM367.2 296.6h0.85v0.85h-0.85zM358.7 299.8h0.85v0.85h-0.85zM361.5 284.2h0.85v0.85h-0.85zM360.5 290.0h0.85v0.85h-0.85zM368.3 295.6h0.85v0.85h-0.85zM361.6 300.4h0.85v0.85h-0.85zM366.1 305.9h0.85v0.85h-0.85zM355.1 289.2h0.85v0.85h-0.85zM360.5 301.0h0.85v0.85h-0.85zM361.1 303.3h0.85v0.85h-0.85zM360.0 277.4h0.85v0.85h-0.85zM358.8 285.6h0.85v0.85h-0.85zM361.6 289.4h0.85v0.85h-0.85zM363.2 302.8h0.85v0.85h-0.85zM366.7 286.7h0.85v0.85h-0.85zM361.2 314.0h0.85v0.85h-0.85zM357.2 293.5h0.85v0.85h-0.85zM358.5 278.9h0.85v0.85h-0.85zM365.7 275.3h0.85v0.85h-0.85zM358.5 309.3h0.85v0.85h-0.85zM359.2 303.9h0.85v0.85h-0.85zM363.3 301.9h0.85v0.85h-0.85zM358.0 320.7h0.85v0.85h-0.85zM359.5 281.5h0.85v0.85h-0.85zM362.4 288.8h0.85v0.85h-0.85zM360.9 275.5h0.85v0.85h-0.85zM364.3 291.2h0.85v0.85h-0.85zM370.3 317.8h0.85v0.85h-0.85zM364.5 298.3h0.85v0.85h-0.85zM359.5 288.6h0.85v0.85h-0.85zM364.6 284.8h0.85v0.85h-0.85zM359.3 284.7h0.85v0.85h-0.85zM362.5 297.3h0.85v0.85h-0.85zM363.0 291.4h0.85v0.85h-0.85zM358.0 290.3h0.85v0.85h-0.85zM361.1 284.5h0.85v0.85h-0.85zM362.0 301.7h0.85v0.85h-0.85zM360.0 282.0h0.85v0.85h-0.85zM361.4 295.0h0.85v0.85h-0.85zM359.1 297.4h0.85v0.85h-0.85zM361.6 282.9h0.85v0.85h-0.85zM358.3 303.9h0.85v0.85h-0.85zM361.2 292.7h0.85v0.85h-0.85zM367.6 286.2h0.85v0.85h-0.85zM360.0 297.5h0.85v0.85h-0.85zM359.0 291.7h0.85v0.85h-0.85zM362.4 269.7h0.85v0.85h-0.85zM360.3 280.2h0.85v0.85h-0.85zM364.8 270.2h0.85v0.85h-0.85zM362.8 303.6h0.85v0.85h-0.85zM365.1 315.9h0.85v0.85h-0.85zM361.9 280.2h0.85v0.85h-0.85zM360.9 281.7h0.85v0.85h-0.85zM364.3 294.7h0.85v0.85h-0.85zM364.0 295.0h0.85v0.85h-0.85zM363.4 279.5h0.85v0.85h-0.85zM360.8 296.9h0.85v0.85h-0.85zM357.7 285.7h0.85v0.85h-0.85zM362.5 286.5h0.85v0.85h-0.85zM357.8 292.3h0.85v0.85h-0.85zM359.6 294.5h0.85v0.85h-0.85z" fill="#2c2ca0" fill-opacity="0.55"/>
<g filter="url(#fb)"><g transform="rotate(0 345 299.5)">
<path d="M317,299.5 C329.6,289.05 338.4,288.5 345,288.5 A11,11 0 0 1 345,310.5 C338.4,310.5 329.6,309.95 317,299.5Z" fill="#2a2a9a" transform="translate(344.5 300.5) scale(1) translate(-344.5 -300.5)"/>
<path d="M317,299.5 C329.6,289.05 338.4,288.5 345,288.5 A11,11 0 0 1 345,310.5 C338.4,310.5 329.6,309.95 317,299.5Z" fill="#2f4fd0" transform="translate(344.5 300.5) scale(0.86) translate(-344.5 -300.5)"/>
<path d="M317,299.5 C329.6,289.05 338.4,288.5 345,288.5 A11,11 0 0 1 345,310.5 C338.4,310.5 329.6,309.95 317,299.5Z" fill="#3aa0e8" transform="translate(344.5 300.5) scale(0.72) translate(-344.5 -300.5)"/>
<path d="M317,299.5 C329.6,289.05 338.4,288.5 345,288.5 A11,11 0 0 1 345,310.5 C338.4,310.5 329.6,309.95 317,299.5Z" fill="#3ec8b0" transform="translate(344.5 300.5) scale(0.58) translate(-344.5 -300.5)"/>
<path d="M317,299.5 C329.6,289.05 338.4,288.5 345,288.5 A11,11 0 0 1 345,310.5 C338.4,310.5 329.6,309.95 317,299.5Z" fill="#7ad040" transform="translate(344.5 300.5) scale(0.45) translate(-344.5 -300.5)"/>
<path d="M317,299.5 C329.6,289.05 338.4,288.5 345,288.5 A11,11 0 0 1 345,310.5 C338.4,310.5 329.6,309.95 317,299.5Z" fill="#e8e020" transform="translate(344.5 300.5) scale(0.33) translate(-344.5 -300.5)"/>
<path d="M317,299.5 C329.6,289.05 338.4,288.5 345,288.5 A11,11 0 0 1 345,310.5 C338.4,310.5 329.6,309.95 317,299.5Z" fill="#f08a18" transform="translate(344.5 300.5) scale(0.22) translate(-344.5 -300.5)"/>
<path d="M317,299.5 C329.6,289.05 338.4,288.5 345,288.5 A11,11 0 0 1 345,310.5 C338.4,310.5 329.6,309.95 317,299.5Z" fill="#e02414" transform="translate(344.5 300.5) scale(0.12) translate(-344.5 -300.5)"/>
</g></g>
<g filter="url(#fb)"><g transform="rotate(-90 362 310)">
<path d="M331,310 C344.95,304.3 358.4,304 362,304 A6,6 0 0 1 362,316 C358.4,316 344.95,315.7 331,310Z" fill="#2a2a9a" transform="translate(361.8 309.5) scale(1) translate(-361.8 -309.5)"/>
<path d="M331,310 C344.95,304.3 358.4,304 362,304 A6,6 0 0 1 362,316 C358.4,316 344.95,315.7 331,310Z" fill="#2f4fd0" transform="translate(361.8 309.5) scale(0.84) translate(-361.8 -309.5)"/>
<path d="M331,310 C344.95,304.3 358.4,304 362,304 A6,6 0 0 1 362,316 C358.4,316 344.95,315.7 331,310Z" fill="#3aa0e8" transform="translate(361.8 309.5) scale(0.66) translate(-361.8 -309.5)"/>
<path d="M331,310 C344.95,304.3 358.4,304 362,304 A6,6 0 0 1 362,316 C358.4,316 344.95,315.7 331,310Z" fill="#3ec8b0" transform="translate(361.8 309.5) scale(0.48) translate(-361.8 -309.5)"/>
<path d="M331,310 C344.95,304.3 358.4,304 362,304 A6,6 0 0 1 362,316 C358.4,316 344.95,315.7 331,310Z" fill="#7ad040" transform="translate(361.8 309.5) scale(0.3) translate(-361.8 -309.5)"/>
</g></g>
</g>
<rect x="317.3" y="283.4" width="36.39999999999998" height="30.0" fill="none" stroke="#1a1a1a" stroke-width="1.1"/>
<rect x="354.7" y="302.8" width="18.0" height="40.19999999999999" fill="none" stroke="#1a1a1a" stroke-width="1.1"/>
<text x="333.6" y="280.2" font-size="7.5" text-anchor="middle" fill="#222">82.5</text>
<text x="375.4" y="324.6" font-size="7.5" text-anchor="start" fill="#222">13</text>
<line x1="194.7" y1="340" x2="194.7" y2="155.5" stroke="#111" stroke-width="1.3"/>
<polygon points="194.7,150.5 197.1,155.5 192.29999999999998,155.5" fill="#111"/>
<line x1="310.3" y1="339.4" x2="310.3" y2="155.6" stroke="#111" stroke-width="1.3"/>
<polygon points="310.3,150.6 312.7,155.6 307.90000000000003,155.6" fill="#111"/>
<line x1="203.5" y1="346.7" x2="286.3" y2="346.7" stroke="#111" stroke-width="1.3"/>
<polygon points="291.3,346.7 286.3,349.09999999999997 286.3,344.3" fill="#111"/>
<line x1="313.5" y1="346.7" x2="397.3" y2="346.7" stroke="#111" stroke-width="1.3"/>
<polygon points="402.3,346.7 397.3,349.09999999999997 397.3,344.3" fill="#111"/>
<line x1="250.8" y1="220.6" x2="317.100004488646" y2="220.5063559258635" stroke="#111" stroke-width="1.1"/>
<polygon points="321.6,220.5 317.1031118301793,222.70635373141434 317.0968971471127,218.30635812031264" fill="#111"/>
<line x1="254.2" y1="321.4" x2="321.700069442837" y2="321.0249996142065" stroke="#111" stroke-width="1.1"/>
<polygon points="326.2,321 321.712291476449,323.2249656643751 321.68784740922496,318.8250335640379" fill="#111"/>
<text x="186.6" y="247.8" font-size="8.6" text-anchor="middle" dominant-baseline="central" transform="rotate(-90 186.6 247.8)" fill="#222">CD11b</text>
<text x="303.5" y="247.4" font-size="8.6" text-anchor="middle" dominant-baseline="central" transform="rotate(-90 303.5 247.4)" fill="#222">CD3e</text>
<text x="242.7" y="357.2" font-size="8.6" text-anchor="middle" fill="#222">Ly6G</text>
<text x="357.7" y="357.2" font-size="8.6" text-anchor="middle" fill="#222">B220</text>
<text x="200.4" y="146.2" font-size="9.3" text-anchor="start" font-weight="bold" fill="#111">CD45+</text>
<g clip-path="url(#hA)">
<rect x="17" y="561.3" width="91.7" height="119.2" fill="#a26ab4"/>
<rect x="17" y="561.3" width="91.7" height="119.2" fill="#000" filter="url(#nucB)"/>
<rect x="17" y="561.3" width="91.7" height="119.2" fill="#000" filter="url(#nucC)"/>
<rect x="17" y="561.3" width="91.7" height="119.2" fill="#000" filter="url(#nucA)"/>
<g filter="url(#hb2)">
</g>
<g filter="url(#hb)">
<ellipse cx="32" cy="575.8" rx="3.8" ry="4.6" fill="#e2c2da" transform="rotate(0 32 575.8)" opacity="1"/>
<ellipse cx="32" cy="576" rx="1.8" ry="2.4" fill="#c87898" transform="rotate(0 32 576)" opacity="1"/>
<ellipse cx="77.3" cy="577.2" rx="3.2" ry="6" fill="#e2c2da" transform="rotate(0 77.3 577.2)" opacity="1"/>
<ellipse cx="77.3" cy="577.5" rx="1.3" ry="3.5" fill="#c87898" transform="rotate(0 77.3 577.5)" opacity="1"/>
<path d="M21.5,597.5 L33.5,610" fill="none" stroke="#eee0ef" stroke-width="6" stroke-linecap="round" stroke-linejoin="round" opacity="1"/>
<path d="M55.5,596.5 Q59,596 61.5,599.5 Q66,604 65.5,610.5 Q65,616 61,618 Q56,621 51.5,620 Q47,616 46.5,608 Q47,601 50,599 Q52.5,597 55.5,596.5Z" fill="none" stroke="#eee0ef" stroke-width="2.6" stroke-linecap="round" stroke-linejoin="round" opacity="1"/>
<ellipse cx="56" cy="609" rx="5.5" ry="8" fill="#b884bc" transform="rotate(-30 56 609)" opacity="0.45"/>
<path d="M61,618 Q63,621 65,623" fill="none" stroke="#eee0ef" stroke-width="2.4" stroke-linecap="round" stroke-linejoin="round" opacity="1"/>
<path d="M43,583 L43,596" fill="none" stroke="#e2c2da" stroke-width="3.5" stroke-linecap="round" stroke-linejoin="round" opacity="0.7"/>
<ellipse cx="56" cy="592" rx="2.5" ry="5" fill="#e2c2da" transform="rotate(0 56 592)" opacity="0.8"/>
<path d="M77.5,596.5 Q86,590 96,593" fill="none" stroke="#eee0ef" stroke-width="5" stroke-linecap="round" stroke-linejoin="round" opacity="1"/>
<ellipse cx="86" cy="594" rx="3" ry="1.5" fill="#c87898" transform="rotate(0 86 594)" opacity="0.6"/>
<path d="M101.5,573 L108.5,564" fill="none" stroke="#e2c2da" stroke-width="3" stroke-linecap="round" stroke-linejoin="round" opacity="1"/>
<path d="M85.5,618 L93,609.5" fill="none" stroke="#eee0ef" stroke-width="2.8" stroke-linecap="round" stroke-linejoin="round" opacity="1"/>
<path d="M16,626 L29.5,626 L25,639.5 L16,637Z" fill="#eee0ef" opacity="1"/>
<ellipse cx="24" cy="650" rx="3" ry="4.5" fill="#eee0ef" transform="rotate(0 24 650)" opacity="1"/>
<path d="M64,618.5 Q60,630 49.5,636" fill="none" stroke="#eee0ef" stroke-width="3.5" stroke-linecap="round" stroke-linejoin="round" opacity="1"/>
<ellipse cx="41" cy="647.5" rx="3" ry="2.5" fill="#e2c2da" transform="rotate(0 41 647.5)" opacity="1"/>
<ellipse cx="40" cy="668" rx="6" ry="3.3" fill="#eee0ef" transform="rotate(-20 40 668)" opacity="1"/>
<ellipse cx="45.7" cy="660.5" rx="2" ry="2.5" fill="#c87898" transform="rotate(0 45.7 660.5)" opacity="1"/>
<path d="M60,627 Q66,633 74,645" fill="none" stroke="#eee0ef" stroke-width="4" stroke-linecap="round" stroke-linejoin="round" opacity="1"/>
<path d="M61,628 Q66,633 73,644" fill="none" stroke="#c87898" stroke-width="1.2" stroke-linecap="round" stroke-linejoin="round" opacity="0.7"/>
<path d="M89,624 Q88,638 95,646 Q100,652 106,654" fill="none" stroke="#eee0ef" stroke-width="4" stroke-linecap="round" stroke-linejoin="round" opacity="1"/>
<path d="M74.5,655 Q78,660 86,663 Q97,667 109,668 L109,683 L69,683 Q70,670 74.5,655Z" fill="#efdfee" opacity="0.85"/>
<ellipse cx="101.5" cy="676" rx="4" ry="3.5" fill="#e2b4cc" transform="rotate(0 101.5 676)" opacity="1"/>
<ellipse cx="19" cy="665.5" rx="2" ry="3" fill="#e2c2da" transform="rotate(0 19 665.5)" opacity="1"/>
</g>
<rect x="17" y="561.3" width="91.7" height="119.2" fill="#000" filter="url(#nucD)" opacity="0.45"/>
</g>
<g clip-path="url(#hB)">
<rect x="113" y="561.3" width="90" height="119.2" fill="#a26ab4"/>
<rect x="113" y="561.3" width="90" height="119.2" fill="#000" filter="url(#nucB)"/>
<rect x="113" y="561.3" width="90" height="119.2" fill="#000" filter="url(#nucC)"/>
<rect x="113" y="561.3" width="90" height="119.2" fill="#000" filter="url(#nucA)"/>
<g filter="url(#hb2)">
<path d="M130.5,557 L131,563 L134.5,577 L135.6,587 L134,597 L132.7,606 L131.2,616 L133.5,622 L137.6,630 L135.8,640.5 L128.4,646.7 L121,655.3 L118.6,661.4 L117.4,668 L119,673 L126,677 L127,686 L108,686 L108,628 L113,628 L118,626 L122,622 L124.5,616 L126.5,606 L127.6,597 L128.6,587 L129.2,577 L125.5,568 L123.8,557Z" fill="#c8467e" opacity="1"/>
<path d="M178,557 L185.5,557 L183.5,568 L179,585 L177.5,570Z" fill="#c8467e" opacity="1"/>
<path d="M181,639.2 L185.8,643 L183.8,656.5 L177.1,660.4 L168.5,665.2 L163.7,666 L160.8,662.3 L166.5,658.5 L173.3,651.7 L174.2,644Z" fill="#c8467e" opacity="1"/>
</g>
<g filter="url(#hb)">
<path d="M151.9,573.9 L140.4,590.2" fill="none" stroke="#eee0ef" stroke-width="2.6" stroke-linecap="round" stroke-linejoin="round" opacity="1"/>
<ellipse cx="146" cy="605" rx="2.3" ry="2" fill="#eee0ef" transform="rotate(0 146 605)" opacity="1"/>
<ellipse cx="136" cy="613.8" rx="3" ry="1.8" fill="#eee0ef" transform="rotate(0 136 613.8)" opacity="1"/>
<ellipse cx="124.5" cy="576.2" rx="1.1" ry="1.1" fill="#eee0ef" transform="rotate(0 124.5 576.2)" opacity="1"/>
<ellipse cx="171.8" cy="576.3" rx="1.6" ry="1.6" fill="#eee0ef" transform="rotate(0 171.8 576.3)" opacity="1"/>
<path d="M192.5,566.7 L194.4,573.4" fill="none" stroke="#eee0ef" stroke-width="1.5" stroke-linecap="round" stroke-linejoin="round" opacity="1"/>
<ellipse cx="185.8" cy="599.3" rx="2.8" ry="4.8" fill="#e2c2da" transform="rotate(0 185.8 599.3)" opacity="0.8"/>
<ellipse cx="157.9" cy="667.1" rx="2" ry="1.6" fill="#eee0ef" transform="rotate(0 157.9 667.1)" opacity="1"/>
<path d="M187.7,645 L190.5,652.7" fill="none" stroke="#eee0ef" stroke-width="2.4" stroke-linecap="round" stroke-linejoin="round" opacity="1"/>
<ellipse cx="188.7" cy="659.4" rx="1.3" ry="1.5" fill="#eee0ef" transform="rotate(0 188.7 659.4)" opacity="1"/>
<ellipse cx="179" cy="671" rx="2.2" ry="1.3" fill="#eee0ef" transform="rotate(0 179 671)" opacity="1"/>
<ellipse cx="167.5" cy="645" rx="1.5" ry="1.2" fill="#eee0ef" transform="rotate(0 167.5 645)" opacity="1"/>
</g>
<rect x="113" y="561.3" width="90" height="119.2" fill="#000" filter="url(#nucD)" opacity="0.45"/>
<path d="M130.8,557 L131.3,563 L135,578 L136.2,589 L133.9,599 L132,609 L131.5,617 L134,623 L138.4,630.7 L136.2,640.5 L128.6,647.2 L121.6,655.6 L118.6,665 L119.6,674" fill="none" stroke="#eee0ef" stroke-width="1.3" stroke-linecap="round" stroke-linejoin="round" opacity="1"/>
<path d="M121.8,558 L126,570 L128,577" fill="none" stroke="#eee0ef" stroke-width="0.9" stroke-linecap="round" stroke-linejoin="round" opacity="0.7"/>
<path d="M123.8,603 L124.8,620" fill="none" stroke="#eee0ef" stroke-width="0.9" stroke-linecap="round" stroke-linejoin="round" opacity="0.7"/>
<path d="M176.8,566 L177.3,589" fill="none" stroke="#eee0ef" stroke-width="1.8" stroke-linecap="round" stroke-linejoin="round" opacity="1"/>
<path d="M185.8,561.8 L183.8,569.5" fill="none" stroke="#eee0ef" stroke-width="1.2" stroke-linecap="round" stroke-linejoin="round" opacity="1"/>
<path d="M172.3,648.8 L176,642.5 L181,639.2 L185.5,642" fill="none" stroke="#eee0ef" stroke-width="1.3" stroke-linecap="round" stroke-linejoin="round" opacity="1"/>
</g>
<line x1="22" y1="677" x2="37.5" y2="677" stroke="#111" stroke-width="1.6"/>
<line x1="117" y1="677" x2="132" y2="677" stroke="#111" stroke-width="1.6"/>
<text x="62.5" y="559.3" font-size="9.7" text-anchor="middle" font-weight="bold" fill="#111">Control</text>
<text x="126.8" y="559.2" font-size="9.4" text-anchor="start" font-weight="bold" fill="#111">Zeb2<tspan class="sup" font-size="7.4" dy="-3.7">Δ/ΔMx1-Cre</tspan></text>
</svg></body></html>
